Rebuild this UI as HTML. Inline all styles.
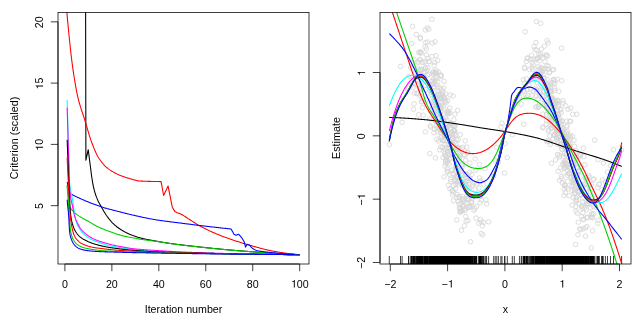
<!DOCTYPE html>
<html><head><meta charset="utf-8"><title>plot</title>
<style>
html,body{margin:0;padding:0;background:#fff;}
svg{display:block;will-change:transform;}
text{font-family:"Liberation Sans",sans-serif;font-size:10.67px;fill:#000;}
</style></head><body>
<svg width="644" height="322" viewBox="0 0 644 322">
<defs>
<clipPath id="clipL"><rect x="58" y="12.5" width="251" height="251.5"/></clipPath>
<clipPath id="clipR"><rect x="380" y="12.5" width="251" height="251.5"/></clipPath>
</defs>
<rect width="644" height="322" fill="#fff"/>
<g>
<g clip-path="url(#clipL)">
<path d="M85.6 5 L85.9 160.2 L88.25 149.7 L91.6 176 L92.3 180.51 L93 184.59 L93.7 187.99 L94.4 190.71 L95.1 193.1 L95.8 195.23 L96.5 197.15 L97.21 198.9 L97.91 200.52 L98.61 201.99 L99.31 203.34 L100.01 204.6 L100.71 205.82 L101.41 207.04 L102.11 208.28 L102.81 209.51 L103.51 210.72 L104.21 211.91 L104.91 213.07 L105.61 214.19 L106.31 215.25 L107.01 216.25 L107.72 217.19 L108.42 218.11 L109.12 219 L109.82 219.86 L110.52 220.7 L111.22 221.5 L111.92 222.28 L112.62 223.01 L113.32 223.72 L114.02 224.38 L114.72 225.01 L115.42 225.6 L116.12 226.18 L116.82 226.74 L117.52 227.28 L118.23 227.79 L118.93 228.3 L119.63 228.78 L120.33 229.25 L121.03 229.7 L121.73 230.14 L122.43 230.56 L123.13 230.97 L123.83 231.36 L124.53 231.75 L125.23 232.12 L125.93 232.48 L126.63 232.84 L127.33 233.18 L128.04 233.51 L128.74 233.84 L129.44 234.15 L130.14 234.45 L130.84 234.75 L131.54 235.03 L132.24 235.3 L132.94 235.57 L133.64 235.82 L134.34 236.07 L135.04 236.31 L135.74 236.55 L136.44 236.78 L137.14 237 L137.84 237.21 L138.55 237.42 L139.25 237.62 L139.95 237.82 L140.65 238.01 L141.35 238.19 L142.05 238.37 L142.75 238.54 L143.45 238.7 L144.15 238.86 L144.85 239.01 L145.55 239.16 L146.25 239.31 L146.95 239.45 L147.65 239.59 L148.35 239.72 L149.06 239.86 L149.76 239.99 L150.46 240.12 L151.16 240.24 L151.86 240.37 L152.56 240.49 L153.26 240.62 L153.96 240.74 L154.66 240.86 L155.36 240.99 L156.06 241.11 L156.76 241.24 L157.46 241.36 L158.16 241.48 L158.86 241.61 L159.57 241.73 L160.27 241.85 L160.97 241.97 L161.67 242.09 L162.37 242.21 L163.07 242.33 L163.77 242.44 L164.47 242.56 L165.17 242.67 L165.87 242.78 L166.57 242.89 L167.27 243 L167.97 243.1 L168.67 243.21 L169.37 243.31 L170.08 243.41 L170.78 243.51 L171.48 243.61 L172.18 243.7 L172.88 243.8 L173.58 243.89 L174.28 243.99 L174.98 244.08 L175.68 244.17 L176.38 244.26 L177.08 244.35 L177.78 244.44 L178.48 244.53 L179.18 244.62 L179.88 244.7 L180.59 244.79 L181.29 244.88 L181.99 244.96 L182.69 245.05 L183.39 245.13 L184.09 245.21 L184.79 245.3 L185.49 245.38 L186.19 245.46 L186.89 245.54 L187.59 245.62 L188.29 245.7 L188.99 245.78 L189.69 245.86 L190.39 245.94 L191.1 246.02 L191.8 246.1 L192.5 246.17 L193.2 246.25 L193.9 246.33 L194.6 246.41 L195.3 246.49 L196 246.56 L196.7 246.64 L197.4 246.72 L198.1 246.79 L198.8 246.87 L199.5 246.95 L200.2 247.02 L200.91 247.1 L201.61 247.17 L202.31 247.25 L203.01 247.33 L203.71 247.4 L204.41 247.48 L205.11 247.55 L205.81 247.62 L206.51 247.7 L207.21 247.77 L207.91 247.84 L208.61 247.92 L209.31 247.99 L210.01 248.06 L210.71 248.13 L211.42 248.2 L212.12 248.28 L212.82 248.35 L213.52 248.42 L214.22 248.49 L214.92 248.56 L215.62 248.63 L216.32 248.69 L217.02 248.76 L217.72 248.83 L218.42 248.9 L219.12 248.97 L219.82 249.03 L220.52 249.1 L221.22 249.17 L221.93 249.23 L222.63 249.3 L223.33 249.36 L224.03 249.43 L224.73 249.49 L225.43 249.56 L226.13 249.62 L226.83 249.69 L227.53 249.75 L228.23 249.81 L228.93 249.87 L229.63 249.94 L230.33 250 L231.03 250.06 L231.73 250.12 L232.44 250.18 L233.14 250.25 L233.84 250.31 L234.54 250.37 L235.24 250.43 L235.94 250.49 L236.64 250.55 L237.34 250.61 L238.04 250.66 L238.74 250.72 L239.44 250.78 L240.14 250.84 L240.84 250.9 L241.54 250.96 L242.24 251.01 L242.95 251.07 L243.65 251.13 L244.35 251.18 L245.05 251.24 L245.75 251.29 L246.45 251.35 L247.15 251.4 L247.85 251.46 L248.55 251.51 L249.25 251.57 L249.95 251.62 L250.65 251.67 L251.35 251.73 L252.05 251.78 L252.75 251.83 L253.46 251.89 L254.16 251.94 L254.86 251.99 L255.56 252.04 L256.26 252.1 L256.96 252.15 L257.66 252.2 L258.36 252.25 L259.06 252.3 L259.76 252.35 L260.46 252.41 L261.16 252.46 L261.86 252.51 L262.56 252.56 L263.26 252.61 L263.97 252.66 L264.67 252.71 L265.37 252.76 L266.07 252.8 L266.77 252.85 L267.47 252.9 L268.17 252.95 L268.87 253 L269.57 253.04 L270.27 253.09 L270.97 253.14 L271.67 253.18 L272.37 253.23 L273.07 253.28 L273.78 253.32 L274.48 253.36 L275.18 253.41 L275.88 253.45 L276.58 253.5 L277.28 253.54 L277.98 253.58 L278.68 253.62 L279.38 253.66 L280.08 253.7 L280.78 253.75 L281.48 253.79 L282.18 253.82 L282.88 253.86 L283.58 253.9 L284.29 253.94 L284.99 253.98 L285.69 254.02 L286.39 254.06 L287.09 254.09 L287.79 254.13 L288.49 254.17 L289.19 254.2 L289.89 254.24 L290.59 254.27 L291.29 254.31 L291.99 254.34 L292.69 254.38 L293.39 254.41 L294.09 254.44 L294.8 254.48 L295.5 254.51 L296.2 254.54 L296.9 254.58 L297.6 254.61 L298.3 254.64 L299 254.67 L299.7 254.7" fill="none" stroke="#000000" stroke-width="1.08" stroke-linejoin="round" stroke-linecap="butt"/>
<path d="M64.5 -20 L66.9 12.4 L67.6 20.35 L68.31 27.96 L69.01 35.19 L69.71 42.02 L70.41 48.63 L71.12 54.95 L71.82 60.85 L72.52 66.17 L73.23 71.08 L73.93 75.78 L74.63 80.25 L75.34 84.46 L76.04 88.39 L76.74 92.02 L77.44 95.32 L78.15 98.3 L78.85 101.06 L79.55 103.63 L80.26 106.05 L80.96 108.33 L81.66 110.53 L82.37 112.66 L83.07 114.76 L83.77 116.87 L84.47 119.01 L85.18 121.22 L85.88 123.53 L86.58 125.93 L87.29 128.36 L87.99 130.8 L88.69 133.21 L89.4 135.56 L90.1 137.79 L90.8 139.89 L91.5 141.82 L92.21 143.7 L92.91 145.55 L93.61 147.34 L94.32 149.08 L95.02 150.75 L95.72 152.34 L96.43 153.85 L97.13 155.25 L97.83 156.53 L98.53 157.7 L99.24 158.77 L99.94 159.79 L100.64 160.77 L101.35 161.7 L102.05 162.59 L102.75 163.44 L103.46 164.25 L104.16 165.02 L104.86 165.76 L105.56 166.45 L106.27 167.12 L106.97 167.74 L107.67 168.34 L108.38 168.9 L109.08 169.42 L109.78 169.91 L110.49 170.37 L111.19 170.8 L111.89 171.22 L112.59 171.62 L113.3 172.01 L114 172.4 L114.7 172.78 L115.41 173.15 L116.11 173.51 L116.81 173.87 L117.51 174.2 L118.22 174.53 L118.92 174.85 L119.62 175.15 L120.33 175.43 L121.03 175.71 L121.73 175.98 L122.44 176.25 L123.14 176.51 L123.84 176.76 L124.54 177.01 L125.25 177.25 L125.95 177.48 L126.65 177.71 L127.36 177.93 L128.06 178.14 L128.76 178.35 L129.47 178.55 L130.17 178.75 L130.87 178.94 L131.57 179.15 L132.28 179.35 L132.98 179.55 L133.68 179.75 L134.39 179.95 L135.09 180.13 L135.79 180.31 L136.5 180.47 L137.2 180.62 L137.9 180.74 L138.6 180.85 L139.31 180.94 L140.01 181 L140.71 181.05 L141.42 181.09 L142.12 181.13 L142.82 181.16 L143.53 181.19 L144.23 181.22 L144.93 181.25 L145.63 181.28 L146.34 181.3 L147.04 181.32 L147.74 181.34 L148.45 181.36 L149.15 181.38 L149.85 181.4 L150.56 181.41 L151.26 181.43 L151.96 181.45 L152.66 181.46 L153.37 181.48 L154.07 181.5 L154.77 181.51 L155.48 181.52 L156.18 181.54 L156.88 181.55 L157.59 181.56 L158.29 181.57 L158.99 181.58 L159.69 181.59 L160.4 181.59 L161.1 181.6 L163.6 195.5 L168.1 186.1 L172.3 207.2 L174.8 211.4 L177.3 212.7 L177.3 212.7 L178 212.95 L178.71 213.21 L179.41 213.49 L180.11 213.79 L180.82 214.11 L181.52 214.46 L182.22 214.83 L182.93 215.23 L183.63 215.65 L184.33 216.09 L185.04 216.54 L185.74 217 L186.44 217.47 L187.15 217.94 L187.85 218.41 L188.56 218.87 L189.26 219.32 L189.96 219.76 L190.67 220.21 L191.37 220.66 L192.07 221.12 L192.78 221.58 L193.48 222.04 L194.18 222.5 L194.89 222.95 L195.59 223.4 L196.29 223.85 L197 224.29 L197.7 224.71 L198.4 225.13 L199.11 225.53 L199.81 225.91 L200.51 226.29 L201.22 226.67 L201.92 227.04 L202.62 227.41 L203.33 227.77 L204.03 228.13 L204.73 228.49 L205.44 228.84 L206.14 229.19 L206.84 229.53 L207.55 229.87 L208.25 230.21 L208.96 230.54 L209.66 230.87 L210.36 231.19 L211.07 231.52 L211.77 231.84 L212.47 232.15 L213.18 232.46 L213.88 232.77 L214.58 233.07 L215.29 233.37 L215.99 233.67 L216.69 233.96 L217.4 234.25 L218.1 234.54 L218.8 234.83 L219.51 235.11 L220.21 235.38 L220.91 235.66 L221.62 235.93 L222.32 236.2 L223.02 236.47 L223.73 236.73 L224.43 236.99 L225.13 237.26 L225.84 237.51 L226.54 237.77 L227.24 238.03 L227.95 238.28 L228.65 238.53 L229.36 238.78 L230.06 239.02 L230.76 239.27 L231.47 239.51 L232.17 239.75 L232.87 239.99 L233.58 240.23 L234.28 240.46 L234.98 240.7 L235.69 240.93 L236.39 241.16 L237.09 241.38 L237.8 241.61 L238.5 241.83 L239.2 242.06 L239.91 242.28 L240.61 242.5 L241.31 242.72 L242.02 242.93 L242.72 243.15 L243.42 243.36 L244.13 243.57 L244.83 243.78 L245.53 243.99 L246.24 244.2 L246.94 244.41 L247.64 244.61 L248.35 244.81 L249.05 245.02 L249.76 245.22 L250.46 245.42 L251.16 245.62 L251.87 245.82 L252.57 246.02 L253.27 246.22 L253.98 246.42 L254.68 246.62 L255.38 246.82 L256.09 247.01 L256.79 247.21 L257.49 247.41 L258.2 247.6 L258.9 247.79 L259.6 247.98 L260.31 248.17 L261.01 248.36 L261.71 248.55 L262.42 248.73 L263.12 248.91 L263.82 249.09 L264.53 249.27 L265.23 249.44 L265.93 249.61 L266.64 249.78 L267.34 249.94 L268.04 250.1 L268.75 250.26 L269.45 250.42 L270.16 250.57 L270.86 250.71 L271.56 250.85 L272.27 250.99 L272.97 251.13 L273.67 251.25 L274.38 251.38 L275.08 251.5 L275.78 251.62 L276.49 251.74 L277.19 251.86 L277.89 251.97 L278.6 252.09 L279.3 252.2 L280 252.32 L280.71 252.43 L281.41 252.54 L282.11 252.65 L282.82 252.75 L283.52 252.86 L284.22 252.96 L284.93 253.06 L285.63 253.16 L286.33 253.26 L287.04 253.36 L287.74 253.45 L288.44 253.55 L289.15 253.64 L289.85 253.73 L290.56 253.81 L291.26 253.9 L291.96 253.98 L292.67 254.06 L293.37 254.13 L294.07 254.21 L294.78 254.28 L295.48 254.35 L296.18 254.41 L296.89 254.48 L297.59 254.54 L298.29 254.59 L299 254.65 L299.7 254.7" fill="none" stroke="#FF0000" stroke-width="1.08" stroke-linejoin="round" stroke-linecap="butt"/>
<path d="M67.15 185 L69.6 207 L69.6 207 L70.3 207.92 L71 208.8 L71.7 209.65 L72.41 210.45 L73.11 211.21 L73.81 211.91 L74.51 212.57 L75.21 213.19 L75.91 213.78 L76.62 214.34 L77.32 214.88 L78.02 215.39 L78.72 215.88 L79.42 216.35 L80.12 216.79 L80.82 217.22 L81.53 217.64 L82.23 218.04 L82.93 218.43 L83.63 218.81 L84.33 219.18 L85.03 219.55 L85.74 219.92 L86.44 220.3 L87.14 220.67 L87.84 221.06 L88.54 221.45 L89.24 221.86 L89.94 222.27 L90.65 222.7 L91.35 223.12 L92.05 223.55 L92.75 223.97 L93.45 224.39 L94.15 224.8 L94.85 225.19 L95.56 225.57 L96.26 225.93 L96.96 226.28 L97.66 226.61 L98.36 226.94 L99.06 227.27 L99.77 227.58 L100.47 227.89 L101.17 228.2 L101.87 228.5 L102.57 228.79 L103.27 229.08 L103.97 229.37 L104.68 229.65 L105.38 229.93 L106.08 230.21 L106.78 230.48 L107.48 230.76 L108.18 231.02 L108.89 231.29 L109.59 231.55 L110.29 231.8 L110.99 232.06 L111.69 232.31 L112.39 232.55 L113.09 232.79 L113.8 233.03 L114.5 233.27 L115.2 233.5 L115.9 233.73 L116.6 233.96 L117.3 234.19 L118.01 234.42 L118.71 234.64 L119.41 234.86 L120.11 235.07 L120.81 235.28 L121.51 235.48 L122.21 235.68 L122.92 235.86 L123.62 236.03 L124.32 236.2 L125.02 236.35 L125.72 236.5 L126.42 236.64 L127.12 236.78 L127.83 236.91 L128.53 237.04 L129.23 237.17 L129.93 237.29 L130.63 237.42 L131.33 237.54 L132.04 237.67 L132.74 237.8 L133.44 237.93 L134.14 238.06 L134.84 238.19 L135.54 238.33 L136.24 238.46 L136.95 238.6 L137.65 238.73 L138.35 238.87 L139.05 239 L139.75 239.13 L140.45 239.25 L141.16 239.37 L141.86 239.48 L142.56 239.59 L143.26 239.7 L143.96 239.8 L144.66 239.89 L145.36 239.99 L146.07 240.08 L146.77 240.17 L147.47 240.25 L148.17 240.34 L148.87 240.42 L149.57 240.5 L150.28 240.58 L150.98 240.67 L151.68 240.75 L152.38 240.83 L153.08 240.92 L153.78 241.01 L154.48 241.1 L155.19 241.19 L155.89 241.28 L156.59 241.38 L157.29 241.49 L157.99 241.59 L158.69 241.7 L159.4 241.81 L160.1 241.93 L160.8 242.04 L161.5 242.15 L162.2 242.27 L162.9 242.39 L163.6 242.5 L164.31 242.62 L165.01 242.74 L165.71 242.85 L166.41 242.96 L167.11 243.07 L167.81 243.18 L168.51 243.29 L169.22 243.39 L169.92 243.49 L170.62 243.59 L171.32 243.68 L172.02 243.78 L172.72 243.87 L173.43 243.96 L174.13 244.06 L174.83 244.15 L175.53 244.24 L176.23 244.33 L176.93 244.42 L177.63 244.51 L178.34 244.6 L179.04 244.69 L179.74 244.77 L180.44 244.86 L181.14 244.95 L181.84 245.03 L182.55 245.12 L183.25 245.2 L183.95 245.28 L184.65 245.37 L185.35 245.45 L186.05 245.53 L186.75 245.61 L187.46 245.7 L188.16 245.78 L188.86 245.86 L189.56 245.94 L190.26 246.02 L190.96 246.1 L191.67 246.18 L192.37 246.26 L193.07 246.33 L193.77 246.41 L194.47 246.49 L195.17 246.57 L195.87 246.65 L196.58 246.72 L197.28 246.8 L197.98 246.88 L198.68 246.96 L199.38 247.03 L200.08 247.11 L200.79 247.19 L201.49 247.26 L202.19 247.34 L202.89 247.41 L203.59 247.49 L204.29 247.56 L204.99 247.64 L205.7 247.71 L206.4 247.79 L207.1 247.86 L207.8 247.94 L208.5 248.01 L209.2 248.08 L209.9 248.16 L210.61 248.23 L211.31 248.3 L212.01 248.37 L212.71 248.44 L213.41 248.51 L214.11 248.58 L214.82 248.65 L215.52 248.72 L216.22 248.79 L216.92 248.86 L217.62 248.93 L218.32 249 L219.02 249.07 L219.73 249.13 L220.43 249.2 L221.13 249.26 L221.83 249.33 L222.53 249.39 L223.23 249.46 L223.94 249.52 L224.64 249.59 L225.34 249.65 L226.04 249.71 L226.74 249.77 L227.44 249.83 L228.14 249.89 L228.85 249.95 L229.55 250.01 L230.25 250.07 L230.95 250.13 L231.65 250.19 L232.35 250.25 L233.06 250.31 L233.76 250.36 L234.46 250.42 L235.16 250.48 L235.86 250.54 L236.56 250.59 L237.26 250.65 L237.97 250.7 L238.67 250.76 L239.37 250.81 L240.07 250.87 L240.77 250.92 L241.47 250.98 L242.18 251.03 L242.88 251.08 L243.58 251.14 L244.28 251.19 L244.98 251.25 L245.68 251.3 L246.38 251.35 L247.09 251.4 L247.79 251.46 L248.49 251.51 L249.19 251.56 L249.89 251.61 L250.59 251.67 L251.29 251.72 L252 251.77 L252.7 251.82 L253.4 251.88 L254.1 251.93 L254.8 251.98 L255.5 252.03 L256.21 252.08 L256.91 252.14 L257.61 252.19 L258.31 252.24 L259.01 252.29 L259.71 252.34 L260.41 252.39 L261.12 252.45 L261.82 252.5 L262.52 252.55 L263.22 252.6 L263.92 252.65 L264.62 252.7 L265.33 252.75 L266.03 252.8 L266.73 252.84 L267.43 252.89 L268.13 252.94 L268.83 252.99 L269.53 253.04 L270.24 253.09 L270.94 253.13 L271.64 253.18 L272.34 253.23 L273.04 253.27 L273.74 253.32 L274.45 253.36 L275.15 253.41 L275.85 253.45 L276.55 253.49 L277.25 253.54 L277.95 253.58 L278.65 253.62 L279.36 253.66 L280.06 253.7 L280.76 253.74 L281.46 253.78 L282.16 253.82 L282.86 253.86 L283.56 253.9 L284.27 253.94 L284.97 253.98 L285.67 254.02 L286.37 254.05 L287.07 254.09 L287.77 254.13 L288.48 254.17 L289.18 254.2 L289.88 254.24 L290.58 254.27 L291.28 254.31 L291.98 254.34 L292.68 254.38 L293.39 254.41 L294.09 254.44 L294.79 254.48 L295.49 254.51 L296.19 254.54 L296.89 254.58 L297.6 254.61 L298.3 254.64 L299 254.67 L299.7 254.7" fill="none" stroke="#00CD00" stroke-width="1.08" stroke-linejoin="round" stroke-linecap="butt"/>
<path d="M67.15 181.8 L69.6 193.4 L69.6 193.4 L70.3 193.76 L71 194.12 L71.71 194.48 L72.41 194.84 L73.11 195.19 L73.81 195.53 L74.52 195.87 L75.22 196.21 L75.92 196.54 L76.62 196.87 L77.32 197.2 L78.03 197.52 L78.73 197.85 L79.43 198.17 L80.13 198.49 L80.83 198.81 L81.54 199.12 L82.24 199.43 L82.94 199.74 L83.64 200.05 L84.35 200.35 L85.05 200.65 L85.75 200.95 L86.45 201.24 L87.15 201.53 L87.86 201.82 L88.56 202.1 L89.26 202.38 L89.96 202.66 L90.67 202.94 L91.37 203.22 L92.07 203.49 L92.77 203.76 L93.47 204.03 L94.18 204.3 L94.88 204.57 L95.58 204.83 L96.28 205.09 L96.98 205.35 L97.69 205.6 L98.39 205.85 L99.09 206.1 L99.79 206.34 L100.5 206.58 L101.2 206.81 L101.9 207.04 L102.6 207.27 L103.3 207.49 L104.01 207.7 L104.71 207.91 L105.41 208.11 L106.11 208.31 L106.82 208.51 L107.52 208.69 L108.22 208.88 L108.92 209.06 L109.62 209.24 L110.33 209.42 L111.03 209.6 L111.73 209.77 L112.43 209.95 L113.13 210.13 L113.84 210.3 L114.54 210.48 L115.24 210.67 L115.94 210.85 L116.65 211.03 L117.35 211.21 L118.05 211.4 L118.75 211.58 L119.45 211.76 L120.16 211.95 L120.86 212.13 L121.56 212.31 L122.26 212.49 L122.97 212.67 L123.67 212.85 L124.37 213.03 L125.07 213.21 L125.77 213.39 L126.48 213.57 L127.18 213.74 L127.88 213.92 L128.58 214.09 L129.28 214.26 L129.99 214.43 L130.69 214.6 L131.39 214.76 L132.09 214.92 L132.8 215.09 L133.5 215.24 L134.2 215.4 L134.9 215.56 L135.6 215.72 L136.31 215.87 L137.01 216.03 L137.71 216.19 L138.41 216.34 L139.12 216.5 L139.82 216.65 L140.52 216.8 L141.22 216.96 L141.92 217.11 L142.63 217.26 L143.33 217.41 L144.03 217.55 L144.73 217.7 L145.43 217.84 L146.14 217.99 L146.84 218.13 L147.54 218.27 L148.24 218.41 L148.95 218.54 L149.65 218.68 L150.35 218.81 L151.05 218.94 L151.75 219.07 L152.46 219.2 L153.16 219.32 L153.86 219.44 L154.56 219.56 L155.27 219.68 L155.97 219.79 L156.67 219.91 L157.37 220.02 L158.07 220.13 L158.78 220.23 L159.48 220.34 L160.18 220.44 L160.88 220.54 L161.58 220.64 L162.29 220.74 L162.99 220.84 L163.69 220.93 L164.39 221.03 L165.1 221.12 L165.8 221.21 L166.5 221.3 L167.2 221.39 L167.9 221.48 L168.61 221.57 L169.31 221.66 L170.01 221.75 L170.71 221.84 L171.42 221.93 L172.12 222.01 L172.82 222.1 L173.52 222.19 L174.22 222.27 L174.93 222.36 L175.63 222.45 L176.33 222.54 L177.03 222.62 L177.73 222.71 L178.44 222.8 L179.14 222.89 L179.84 222.98 L180.54 223.07 L181.25 223.16 L181.95 223.25 L182.65 223.34 L183.35 223.43 L184.05 223.52 L184.76 223.61 L185.46 223.7 L186.16 223.79 L186.86 223.88 L187.57 223.97 L188.27 224.05 L188.97 224.14 L189.67 224.23 L190.37 224.32 L191.08 224.41 L191.78 224.49 L192.48 224.58 L193.18 224.67 L193.88 224.76 L194.59 224.84 L195.29 224.93 L195.99 225.01 L196.69 225.1 L197.4 225.19 L198.1 225.27 L198.8 225.36 L199.5 225.44 L200.2 225.52 L200.91 225.61 L201.61 225.69 L202.31 225.78 L203.01 225.86 L203.72 225.94 L204.42 226.02 L205.12 226.11 L205.82 226.19 L206.52 226.27 L207.23 226.35 L207.93 226.43 L208.63 226.51 L209.33 226.59 L210.03 226.68 L210.74 226.76 L211.44 226.84 L212.14 226.92 L212.84 227 L213.55 227.08 L214.25 227.16 L214.95 227.23 L215.65 227.31 L216.35 227.39 L217.06 227.47 L217.76 227.55 L218.46 227.63 L219.16 227.71 L219.87 227.79 L220.57 227.86 L221.27 227.94 L221.97 228.02 L222.67 228.09 L223.38 228.17 L224.08 228.25 L224.78 228.32 L225.48 228.4 L226.18 228.48 L226.89 228.55 L227.59 228.63 L228.29 228.7 L228.99 228.78 L229.7 228.85 L230.4 228.93 L231.1 229 L234 234.2 L236 235.2 L238.5 234.2 L241.7 237.7 L244.2 241.7 L245.5 247.1 L247.2 244.2 L249.7 245.2 L249.7 245.2 L250.4 246.07 L251.11 246.88 L251.81 247.63 L252.52 248.27 L253.22 248.79 L253.93 249.2 L254.63 249.56 L255.33 249.89 L256.04 250.19 L256.74 250.44 L257.45 250.66 L258.15 250.84 L258.85 250.99 L259.56 251.13 L260.26 251.25 L260.97 251.36 L261.67 251.46 L262.38 251.56 L263.08 251.65 L263.78 251.73 L264.49 251.81 L265.19 251.89 L265.9 251.96 L266.6 252.04 L267.31 252.12 L268.01 252.21 L268.71 252.29 L269.42 252.37 L270.12 252.45 L270.83 252.52 L271.53 252.6 L272.24 252.67 L272.94 252.75 L273.64 252.82 L274.35 252.89 L275.05 252.96 L275.76 253.03 L276.46 253.09 L277.16 253.16 L277.87 253.22 L278.57 253.28 L279.28 253.34 L279.98 253.4 L280.69 253.46 L281.39 253.51 L282.09 253.57 L282.8 253.62 L283.5 253.68 L284.21 253.73 L284.91 253.78 L285.62 253.84 L286.32 253.89 L287.02 253.94 L287.73 253.99 L288.43 254.04 L289.14 254.09 L289.84 254.14 L290.55 254.19 L291.25 254.23 L291.95 254.28 L292.66 254.32 L293.36 254.36 L294.07 254.41 L294.77 254.45 L295.47 254.49 L296.18 254.53 L296.88 254.56 L297.59 254.6 L298.29 254.63 L299 254.67 L299.7 254.7" fill="none" stroke="#0000FF" stroke-width="1.08" stroke-linejoin="round" stroke-linecap="butt"/>
<path d="M67.15 100 L69.5 182 L69.5 182 L70 186.34 L70.5 189.68 L71 192.38 L71.5 194.77 L72 197.11 L72.5 199.67 L73 202.74 L73.5 206.38 L74 210.17 L74.5 213.69 L75 216.53 L75.51 218.89 L76.01 220.92 L76.51 222.5 L77.01 223.83 L77.51 225.03 L78.01 226.11 L78.51 227.09 L79.01 227.98 L79.51 228.8 L80.01 229.57 L80.51 230.29 L81.01 230.97 L81.51 231.62 L82.01 232.23 L82.51 232.8 L83.01 233.35 L83.51 233.86 L84.01 234.35 L84.51 234.8 L85.01 235.23 L85.51 235.63 L86.01 236.02 L86.51 236.4 L87.02 236.76 L87.52 237.11 L88.02 237.44 L88.52 237.77 L89.02 238.08 L89.52 238.38 L90.02 238.66 L90.52 238.94 L91.02 239.21 L91.52 239.47 L92.02 239.72 L92.52 239.96 L93.02 240.19 L93.52 240.42 L94.02 240.62 L94.52 240.83 L95.02 241.02 L95.52 241.21 L96.02 241.39 L96.52 241.57 L97.02 241.75 L97.52 241.93 L98.02 242.11 L98.53 242.29 L99.03 242.48 L99.53 242.66 L100.03 242.85 L100.53 243.03 L101.03 243.21 L101.53 243.39 L102.03 243.57 L102.53 243.74 L103.03 243.91 L103.53 244.07 L104.03 244.23 L104.53 244.38 L105.03 244.53 L105.53 244.66 L106.03 244.8 L106.53 244.93 L107.03 245.06 L107.53 245.18 L108.03 245.31 L108.53 245.43 L109.03 245.54 L109.53 245.66 L110.04 245.77 L110.54 245.88 L111.04 245.99 L111.54 246.1 L112.04 246.2 L112.54 246.3 L113.04 246.4 L113.54 246.5 L114.04 246.59 L114.54 246.69 L115.04 246.78 L115.54 246.87 L116.04 246.96 L116.54 247.05 L117.04 247.14 L117.54 247.23 L118.04 247.32 L118.54 247.41 L119.04 247.49 L119.54 247.58 L120.04 247.66 L120.54 247.75 L121.04 247.83 L121.55 247.91 L122.05 247.99 L122.55 248.07 L123.05 248.15 L123.55 248.23 L124.05 248.31 L124.55 248.38 L125.05 248.46 L125.55 248.53 L126.05 248.61 L126.55 248.68 L127.05 248.75 L127.55 248.82 L128.05 248.89 L128.55 248.95 L129.05 249.02 L129.55 249.08 L130.05 249.15 L130.55 249.21 L131.05 249.27 L131.55 249.33 L132.05 249.39 L132.55 249.45 L133.06 249.51 L133.56 249.56 L134.06 249.62 L134.56 249.67 L135.06 249.73 L135.56 249.78 L136.06 249.84 L136.56 249.89 L137.06 249.94 L137.56 250 L138.06 250.05 L138.56 250.1 L139.06 250.15 L139.56 250.2 L140.06 250.25 L140.56 250.3 L141.06 250.35 L141.56 250.4 L142.06 250.45 L142.56 250.5 L143.06 250.54 L143.56 250.59 L144.06 250.63 L144.57 250.68 L145.07 250.72 L145.57 250.77 L146.07 250.81 L146.57 250.85 L147.07 250.9 L147.57 250.94 L148.07 250.98 L148.57 251.02 L149.07 251.05 L149.57 251.09 L150.07 251.13 L150.57 251.17 L151.07 251.2 L151.57 251.23 L152.07 251.27 L152.57 251.3 L153.07 251.33 L153.57 251.36 L154.07 251.39 L154.57 251.42 L155.07 251.45 L155.57 251.48 L156.08 251.5 L156.58 251.53 L157.08 251.55 L157.58 251.58 L158.08 251.6 L158.58 251.63 L159.08 251.65 L159.58 251.68 L160.08 251.7 L160.58 251.72 L161.08 251.75 L161.58 251.77 L162.08 251.79 L162.58 251.81 L163.08 251.83 L163.58 251.86 L164.08 251.88 L164.58 251.9 L165.08 251.92 L165.58 251.94 L166.08 251.96 L166.58 251.98 L167.08 252 L167.59 252.02 L168.09 252.04 L168.59 252.06 L169.09 252.08 L169.59 252.1 L170.09 252.11 L170.59 252.13 L171.09 252.15 L171.59 252.17 L172.09 252.19 L172.59 252.2 L173.09 252.22 L173.59 252.24 L174.09 252.26 L174.59 252.27 L175.09 252.29 L175.59 252.31 L176.09 252.32 L176.59 252.34 L177.09 252.36 L177.59 252.37 L178.09 252.39 L178.59 252.4 L179.1 252.42 L179.6 252.43 L180.1 252.45 L180.6 252.46 L181.1 252.48 L181.6 252.49 L182.1 252.51 L182.6 252.52 L183.1 252.54 L183.6 252.55 L184.1 252.57 L184.6 252.58 L185.1 252.6 L185.6 252.61 L186.1 252.62 L186.6 252.64 L187.1 252.65 L187.6 252.67 L188.1 252.68 L188.6 252.69 L189.1 252.71 L189.6 252.72 L190.1 252.74 L190.61 252.75 L191.11 252.76 L191.61 252.78 L192.11 252.79 L192.61 252.8 L193.11 252.82 L193.61 252.83 L194.11 252.84 L194.61 252.86 L195.11 252.87 L195.61 252.88 L196.11 252.9 L196.61 252.91 L197.11 252.92 L197.61 252.94 L198.11 252.95 L198.61 252.96 L199.11 252.98 L199.61 252.99 L200.11 253 L200.61 253.02 L201.11 253.03 L201.61 253.04 L202.12 253.06 L202.62 253.07 L203.12 253.08 L203.62 253.1 L204.12 253.11 L204.62 253.12 L205.12 253.14 L205.62 253.15 L206.12 253.16 L206.62 253.17 L207.12 253.19 L207.62 253.2 L208.12 253.21 L208.62 253.23 L209.12 253.24 L209.62 253.25 L210.12 253.26 L210.62 253.28 L211.12 253.29 L211.62 253.3 L212.12 253.31 L212.62 253.33 L213.12 253.34 L213.63 253.35 L214.13 253.36 L214.63 253.38 L215.13 253.39 L215.63 253.4 L216.13 253.41 L216.63 253.43 L217.13 253.44 L217.63 253.45 L218.13 253.46 L218.63 253.47 L219.13 253.49 L219.63 253.5 L220.13 253.51 L220.63 253.52 L221.13 253.53 L221.63 253.54 L222.13 253.56 L222.63 253.57 L223.13 253.58 L223.63 253.59 L224.13 253.6 L224.63 253.61 L225.14 253.62 L225.64 253.63 L226.14 253.65 L226.64 253.66 L227.14 253.67 L227.64 253.68 L228.14 253.69 L228.64 253.7 L229.14 253.71 L229.64 253.72 L230.14 253.73 L230.64 253.74 L231.14 253.75 L231.64 253.76 L232.14 253.77 L232.64 253.78 L233.14 253.79 L233.64 253.81 L234.14 253.82 L234.64 253.83 L235.14 253.84 L235.64 253.85 L236.14 253.86 L236.65 253.86 L237.15 253.87 L237.65 253.88 L238.15 253.89 L238.65 253.9 L239.15 253.91 L239.65 253.92 L240.15 253.93 L240.65 253.94 L241.15 253.95 L241.65 253.96 L242.15 253.97 L242.65 253.98 L243.15 253.99 L243.65 253.99 L244.15 254 L244.65 254.01 L245.15 254.02 L245.65 254.03 L246.15 254.04 L246.65 254.05 L247.15 254.05 L247.65 254.06 L248.16 254.07 L248.66 254.08 L249.16 254.09 L249.66 254.09 L250.16 254.1 L250.66 254.11 L251.16 254.12 L251.66 254.13 L252.16 254.13 L252.66 254.14 L253.16 254.15 L253.66 254.16 L254.16 254.16 L254.66 254.17 L255.16 254.18 L255.66 254.19 L256.16 254.19 L256.66 254.2 L257.16 254.21 L257.66 254.22 L258.16 254.22 L258.66 254.23 L259.16 254.24 L259.67 254.25 L260.17 254.25 L260.67 254.26 L261.17 254.27 L261.67 254.28 L262.17 254.28 L262.67 254.29 L263.17 254.3 L263.67 254.3 L264.17 254.31 L264.67 254.32 L265.17 254.32 L265.67 254.33 L266.17 254.34 L266.67 254.35 L267.17 254.35 L267.67 254.36 L268.17 254.37 L268.67 254.37 L269.17 254.38 L269.67 254.39 L270.17 254.39 L270.67 254.4 L271.18 254.41 L271.68 254.41 L272.18 254.42 L272.68 254.43 L273.18 254.43 L273.68 254.44 L274.18 254.44 L274.68 254.45 L275.18 254.46 L275.68 254.46 L276.18 254.47 L276.68 254.48 L277.18 254.48 L277.68 254.49 L278.18 254.49 L278.68 254.5 L279.18 254.5 L279.68 254.51 L280.18 254.52 L280.68 254.52 L281.18 254.53 L281.68 254.53 L282.18 254.54 L282.69 254.54 L283.19 254.55 L283.69 254.56 L284.19 254.56 L284.69 254.57 L285.19 254.57 L285.69 254.58 L286.19 254.58 L286.69 254.59 L287.19 254.59 L287.69 254.6 L288.19 254.6 L288.69 254.61 L289.19 254.61 L289.69 254.62 L290.19 254.62 L290.69 254.63 L291.19 254.63 L291.69 254.64 L292.19 254.64 L292.69 254.64 L293.19 254.65 L293.69 254.65 L294.2 254.66 L294.7 254.66 L295.2 254.67 L295.7 254.67 L296.2 254.67 L296.7 254.68 L297.2 254.68 L297.7 254.69 L298.2 254.69 L298.7 254.69 L299.2 254.7 L299.7 254.7" fill="none" stroke="#00FFFF" stroke-width="1.08" stroke-linejoin="round" stroke-linecap="butt"/>
<path d="M67.15 107.8 L69.5 186 L69.5 186 L70 192.68 L70.5 196.73 L71 199.6 L71.5 201.91 L72 203.96 L72.5 206.08 L73 208.52 L73.5 211.12 L74 213.6 L74.5 215.67 L75 217.26 L75.51 218.66 L76.01 219.91 L76.51 221.05 L77.01 222.11 L77.51 223.12 L78.01 224.11 L78.51 225.07 L79.01 226.01 L79.51 226.89 L80.01 227.73 L80.51 228.5 L81.01 229.21 L81.51 229.83 L82.01 230.41 L82.51 230.96 L83.01 231.48 L83.51 231.98 L84.01 232.45 L84.51 232.9 L85.01 233.33 L85.51 233.74 L86.01 234.13 L86.51 234.51 L87.02 234.88 L87.52 235.24 L88.02 235.59 L88.52 235.93 L89.02 236.27 L89.52 236.59 L90.02 236.91 L90.52 237.22 L91.02 237.52 L91.52 237.81 L92.02 238.09 L92.52 238.36 L93.02 238.62 L93.52 238.87 L94.02 239.11 L94.52 239.35 L95.02 239.57 L95.52 239.78 L96.02 239.98 L96.52 240.18 L97.02 240.37 L97.52 240.56 L98.02 240.74 L98.53 240.92 L99.03 241.09 L99.53 241.26 L100.03 241.42 L100.53 241.58 L101.03 241.74 L101.53 241.89 L102.03 242.04 L102.53 242.19 L103.03 242.34 L103.53 242.49 L104.03 242.63 L104.53 242.78 L105.03 242.92 L105.53 243.07 L106.03 243.21 L106.53 243.35 L107.03 243.49 L107.53 243.63 L108.03 243.77 L108.53 243.91 L109.03 244.04 L109.53 244.17 L110.04 244.3 L110.54 244.43 L111.04 244.56 L111.54 244.68 L112.04 244.8 L112.54 244.93 L113.04 245.04 L113.54 245.16 L114.04 245.27 L114.54 245.39 L115.04 245.5 L115.54 245.6 L116.04 245.71 L116.54 245.82 L117.04 245.92 L117.54 246.02 L118.04 246.12 L118.54 246.22 L119.04 246.31 L119.54 246.41 L120.04 246.5 L120.54 246.6 L121.04 246.69 L121.55 246.78 L122.05 246.87 L122.55 246.96 L123.05 247.05 L123.55 247.14 L124.05 247.23 L124.55 247.31 L125.05 247.4 L125.55 247.49 L126.05 247.58 L126.55 247.67 L127.05 247.76 L127.55 247.85 L128.05 247.93 L128.55 248.02 L129.05 248.1 L129.55 248.18 L130.05 248.26 L130.55 248.34 L131.05 248.41 L131.55 248.48 L132.05 248.55 L132.55 248.61 L133.06 248.67 L133.56 248.73 L134.06 248.78 L134.56 248.84 L135.06 248.89 L135.56 248.94 L136.06 248.99 L136.56 249.04 L137.06 249.09 L137.56 249.14 L138.06 249.18 L138.56 249.23 L139.06 249.28 L139.56 249.32 L140.06 249.37 L140.56 249.41 L141.06 249.45 L141.56 249.49 L142.06 249.53 L142.56 249.57 L143.06 249.61 L143.56 249.65 L144.06 249.69 L144.57 249.73 L145.07 249.77 L145.57 249.81 L146.07 249.84 L146.57 249.88 L147.07 249.91 L147.57 249.95 L148.07 249.98 L148.57 250.02 L149.07 250.05 L149.57 250.09 L150.07 250.12 L150.57 250.15 L151.07 250.19 L151.57 250.22 L152.07 250.25 L152.57 250.28 L153.07 250.31 L153.57 250.35 L154.07 250.38 L154.57 250.41 L155.07 250.44 L155.57 250.47 L156.08 250.5 L156.58 250.54 L157.08 250.57 L157.58 250.6 L158.08 250.63 L158.58 250.66 L159.08 250.69 L159.58 250.72 L160.08 250.75 L160.58 250.78 L161.08 250.81 L161.58 250.84 L162.08 250.87 L162.58 250.9 L163.08 250.93 L163.58 250.96 L164.08 250.99 L164.58 251.02 L165.08 251.05 L165.58 251.08 L166.08 251.11 L166.58 251.14 L167.08 251.17 L167.59 251.19 L168.09 251.22 L168.59 251.25 L169.09 251.28 L169.59 251.31 L170.09 251.34 L170.59 251.36 L171.09 251.39 L171.59 251.42 L172.09 251.45 L172.59 251.47 L173.09 251.5 L173.59 251.53 L174.09 251.55 L174.59 251.58 L175.09 251.61 L175.59 251.63 L176.09 251.66 L176.59 251.68 L177.09 251.71 L177.59 251.74 L178.09 251.76 L178.59 251.79 L179.1 251.81 L179.6 251.84 L180.1 251.86 L180.6 251.89 L181.1 251.91 L181.6 251.93 L182.1 251.96 L182.6 251.98 L183.1 252.01 L183.6 252.03 L184.1 252.05 L184.6 252.08 L185.1 252.1 L185.6 252.12 L186.1 252.14 L186.6 252.17 L187.1 252.19 L187.6 252.21 L188.1 252.23 L188.6 252.26 L189.1 252.28 L189.6 252.3 L190.1 252.32 L190.61 252.34 L191.11 252.36 L191.61 252.38 L192.11 252.4 L192.61 252.42 L193.11 252.44 L193.61 252.46 L194.11 252.48 L194.61 252.5 L195.11 252.52 L195.61 252.54 L196.11 252.56 L196.61 252.58 L197.11 252.6 L197.61 252.62 L198.11 252.63 L198.61 252.65 L199.11 252.67 L199.61 252.69 L200.11 252.7 L200.61 252.72 L201.11 252.74 L201.61 252.76 L202.12 252.77 L202.62 252.79 L203.12 252.81 L203.62 252.82 L204.12 252.84 L204.62 252.86 L205.12 252.87 L205.62 252.89 L206.12 252.9 L206.62 252.92 L207.12 252.94 L207.62 252.95 L208.12 252.97 L208.62 252.98 L209.12 253 L209.62 253.01 L210.12 253.03 L210.62 253.05 L211.12 253.06 L211.62 253.08 L212.12 253.09 L212.62 253.11 L213.12 253.12 L213.63 253.14 L214.13 253.15 L214.63 253.17 L215.13 253.18 L215.63 253.19 L216.13 253.21 L216.63 253.22 L217.13 253.24 L217.63 253.25 L218.13 253.27 L218.63 253.28 L219.13 253.29 L219.63 253.31 L220.13 253.32 L220.63 253.34 L221.13 253.35 L221.63 253.36 L222.13 253.38 L222.63 253.39 L223.13 253.4 L223.63 253.42 L224.13 253.43 L224.63 253.44 L225.14 253.45 L225.64 253.47 L226.14 253.48 L226.64 253.49 L227.14 253.51 L227.64 253.52 L228.14 253.53 L228.64 253.54 L229.14 253.56 L229.64 253.57 L230.14 253.58 L230.64 253.59 L231.14 253.6 L231.64 253.62 L232.14 253.63 L232.64 253.64 L233.14 253.65 L233.64 253.66 L234.14 253.67 L234.64 253.69 L235.14 253.7 L235.64 253.71 L236.14 253.72 L236.65 253.73 L237.15 253.74 L237.65 253.75 L238.15 253.76 L238.65 253.77 L239.15 253.78 L239.65 253.8 L240.15 253.81 L240.65 253.82 L241.15 253.83 L241.65 253.84 L242.15 253.85 L242.65 253.86 L243.15 253.87 L243.65 253.88 L244.15 253.89 L244.65 253.9 L245.15 253.91 L245.65 253.92 L246.15 253.93 L246.65 253.94 L247.15 253.95 L247.65 253.96 L248.16 253.97 L248.66 253.98 L249.16 253.98 L249.66 253.99 L250.16 254 L250.66 254.01 L251.16 254.02 L251.66 254.03 L252.16 254.04 L252.66 254.05 L253.16 254.06 L253.66 254.07 L254.16 254.08 L254.66 254.08 L255.16 254.09 L255.66 254.1 L256.16 254.11 L256.66 254.12 L257.16 254.13 L257.66 254.14 L258.16 254.15 L258.66 254.15 L259.16 254.16 L259.67 254.17 L260.17 254.18 L260.67 254.19 L261.17 254.2 L261.67 254.21 L262.17 254.21 L262.67 254.22 L263.17 254.23 L263.67 254.24 L264.17 254.25 L264.67 254.26 L265.17 254.26 L265.67 254.27 L266.17 254.28 L266.67 254.29 L267.17 254.3 L267.67 254.3 L268.17 254.31 L268.67 254.32 L269.17 254.33 L269.67 254.34 L270.17 254.34 L270.67 254.35 L271.18 254.36 L271.68 254.37 L272.18 254.37 L272.68 254.38 L273.18 254.39 L273.68 254.4 L274.18 254.4 L274.68 254.41 L275.18 254.42 L275.68 254.42 L276.18 254.43 L276.68 254.44 L277.18 254.45 L277.68 254.45 L278.18 254.46 L278.68 254.47 L279.18 254.47 L279.68 254.48 L280.18 254.49 L280.68 254.49 L281.18 254.5 L281.68 254.51 L282.18 254.51 L282.69 254.52 L283.19 254.53 L283.69 254.53 L284.19 254.54 L284.69 254.55 L285.19 254.55 L285.69 254.56 L286.19 254.56 L286.69 254.57 L287.19 254.58 L287.69 254.58 L288.19 254.59 L288.69 254.59 L289.19 254.6 L289.69 254.6 L290.19 254.61 L290.69 254.61 L291.19 254.62 L291.69 254.63 L292.19 254.63 L292.69 254.64 L293.19 254.64 L293.69 254.65 L294.2 254.65 L294.7 254.66 L295.2 254.66 L295.7 254.66 L296.2 254.67 L296.7 254.67 L297.2 254.68 L297.7 254.68 L298.2 254.69 L298.7 254.69 L299.2 254.7 L299.7 254.7" fill="none" stroke="#FF00FF" stroke-width="1.08" stroke-linejoin="round" stroke-linecap="butt"/>
<path d="M67.15 139.7 L68.9 185 L68.9 185 L69.4 195.65 L69.9 204.94 L70.4 212.17 L70.9 216.71 L71.4 219.66 L71.9 221.91 L72.4 223.72 L72.91 225.36 L73.41 226.85 L73.91 228.18 L74.41 229.36 L74.91 230.38 L75.41 231.25 L75.91 232.05 L76.41 232.8 L76.91 233.49 L77.41 234.14 L77.91 234.74 L78.41 235.3 L78.91 235.82 L79.41 236.3 L79.91 236.74 L80.41 237.16 L80.92 237.55 L81.42 237.92 L81.92 238.27 L82.42 238.61 L82.92 238.92 L83.42 239.23 L83.92 239.51 L84.42 239.79 L84.92 240.06 L85.42 240.32 L85.92 240.57 L86.42 240.81 L86.92 241.05 L87.42 241.28 L87.92 241.51 L88.43 241.74 L88.93 241.95 L89.43 242.16 L89.93 242.37 L90.43 242.57 L90.93 242.77 L91.43 242.96 L91.93 243.14 L92.43 243.32 L92.93 243.5 L93.43 243.67 L93.93 243.83 L94.43 243.99 L94.93 244.15 L95.43 244.3 L95.94 244.45 L96.44 244.59 L96.94 244.74 L97.44 244.87 L97.94 245.01 L98.44 245.14 L98.94 245.27 L99.44 245.4 L99.94 245.53 L100.44 245.65 L100.94 245.77 L101.44 245.88 L101.94 246 L102.44 246.11 L102.94 246.22 L103.44 246.32 L103.95 246.43 L104.45 246.53 L104.95 246.63 L105.45 246.73 L105.95 246.82 L106.45 246.92 L106.95 247.01 L107.45 247.1 L107.95 247.19 L108.45 247.27 L108.95 247.35 L109.45 247.44 L109.95 247.52 L110.45 247.6 L110.95 247.67 L111.46 247.75 L111.96 247.83 L112.46 247.9 L112.96 247.97 L113.46 248.04 L113.96 248.11 L114.46 248.18 L114.96 248.25 L115.46 248.32 L115.96 248.38 L116.46 248.45 L116.96 248.52 L117.46 248.58 L117.96 248.65 L118.46 248.71 L118.97 248.78 L119.47 248.84 L119.97 248.91 L120.47 248.97 L120.97 249.03 L121.47 249.09 L121.97 249.15 L122.47 249.21 L122.97 249.27 L123.47 249.33 L123.97 249.39 L124.47 249.45 L124.97 249.5 L125.47 249.56 L125.97 249.62 L126.47 249.67 L126.98 249.72 L127.48 249.78 L127.98 249.83 L128.48 249.88 L128.98 249.93 L129.48 249.98 L129.98 250.03 L130.48 250.08 L130.98 250.12 L131.48 250.17 L131.98 250.21 L132.48 250.26 L132.98 250.3 L133.48 250.34 L133.98 250.38 L134.49 250.42 L134.99 250.46 L135.49 250.5 L135.99 250.54 L136.49 250.58 L136.99 250.62 L137.49 250.66 L137.99 250.7 L138.49 250.74 L138.99 250.78 L139.49 250.82 L139.99 250.85 L140.49 250.89 L140.99 250.93 L141.49 250.96 L142 251 L142.5 251.03 L143 251.07 L143.5 251.1 L144 251.14 L144.5 251.17 L145 251.2 L145.5 251.23 L146 251.27 L146.5 251.3 L147 251.33 L147.5 251.36 L148 251.39 L148.5 251.42 L149 251.45 L149.5 251.48 L150.01 251.51 L150.51 251.53 L151.01 251.56 L151.51 251.59 L152.01 251.61 L152.51 251.64 L153.01 251.66 L153.51 251.69 L154.01 251.71 L154.51 251.73 L155.01 251.76 L155.51 251.78 L156.01 251.8 L156.51 251.82 L157.01 251.84 L157.52 251.86 L158.02 251.88 L158.52 251.9 L159.02 251.92 L159.52 251.94 L160.02 251.96 L160.52 251.98 L161.02 252 L161.52 252.02 L162.02 252.04 L162.52 252.06 L163.02 252.08 L163.52 252.09 L164.02 252.11 L164.52 252.13 L165.02 252.15 L165.53 252.17 L166.03 252.18 L166.53 252.2 L167.03 252.22 L167.53 252.23 L168.03 252.25 L168.53 252.27 L169.03 252.28 L169.53 252.3 L170.03 252.31 L170.53 252.33 L171.03 252.35 L171.53 252.36 L172.03 252.38 L172.53 252.39 L173.04 252.41 L173.54 252.42 L174.04 252.44 L174.54 252.45 L175.04 252.47 L175.54 252.48 L176.04 252.5 L176.54 252.51 L177.04 252.52 L177.54 252.54 L178.04 252.55 L178.54 252.57 L179.04 252.58 L179.54 252.59 L180.04 252.61 L180.55 252.62 L181.05 252.63 L181.55 252.65 L182.05 252.66 L182.55 252.67 L183.05 252.69 L183.55 252.7 L184.05 252.71 L184.55 252.72 L185.05 252.74 L185.55 252.75 L186.05 252.76 L186.55 252.78 L187.05 252.79 L187.55 252.8 L188.05 252.81 L188.56 252.83 L189.06 252.84 L189.56 252.85 L190.06 252.86 L190.56 252.87 L191.06 252.89 L191.56 252.9 L192.06 252.91 L192.56 252.92 L193.06 252.93 L193.56 252.95 L194.06 252.96 L194.56 252.97 L195.06 252.98 L195.56 252.99 L196.07 253.01 L196.57 253.02 L197.07 253.03 L197.57 253.04 L198.07 253.05 L198.57 253.07 L199.07 253.08 L199.57 253.09 L200.07 253.1 L200.57 253.11 L201.07 253.13 L201.57 253.14 L202.07 253.15 L202.57 253.16 L203.07 253.17 L203.58 253.18 L204.08 253.2 L204.58 253.21 L205.08 253.22 L205.58 253.23 L206.08 253.24 L206.58 253.25 L207.08 253.27 L207.58 253.28 L208.08 253.29 L208.58 253.3 L209.08 253.31 L209.58 253.32 L210.08 253.34 L210.58 253.35 L211.08 253.36 L211.59 253.37 L212.09 253.38 L212.59 253.39 L213.09 253.4 L213.59 253.41 L214.09 253.42 L214.59 253.44 L215.09 253.45 L215.59 253.46 L216.09 253.47 L216.59 253.48 L217.09 253.49 L217.59 253.5 L218.09 253.51 L218.59 253.52 L219.1 253.53 L219.6 253.54 L220.1 253.55 L220.6 253.56 L221.1 253.58 L221.6 253.59 L222.1 253.6 L222.6 253.61 L223.1 253.62 L223.6 253.63 L224.1 253.64 L224.6 253.65 L225.1 253.66 L225.6 253.67 L226.1 253.68 L226.6 253.69 L227.11 253.7 L227.61 253.71 L228.11 253.72 L228.61 253.73 L229.11 253.74 L229.61 253.75 L230.11 253.76 L230.61 253.77 L231.11 253.78 L231.61 253.79 L232.11 253.79 L232.61 253.8 L233.11 253.81 L233.61 253.82 L234.11 253.83 L234.62 253.84 L235.12 253.85 L235.62 253.86 L236.12 253.87 L236.62 253.88 L237.12 253.89 L237.62 253.9 L238.12 253.91 L238.62 253.91 L239.12 253.92 L239.62 253.93 L240.12 253.94 L240.62 253.95 L241.12 253.96 L241.62 253.97 L242.13 253.97 L242.63 253.98 L243.13 253.99 L243.63 254 L244.13 254.01 L244.63 254.02 L245.13 254.02 L245.63 254.03 L246.13 254.04 L246.63 254.05 L247.13 254.06 L247.63 254.06 L248.13 254.07 L248.63 254.08 L249.13 254.09 L249.63 254.09 L250.14 254.1 L250.64 254.11 L251.14 254.12 L251.64 254.12 L252.14 254.13 L252.64 254.14 L253.14 254.15 L253.64 254.15 L254.14 254.16 L254.64 254.17 L255.14 254.18 L255.64 254.18 L256.14 254.19 L256.64 254.2 L257.14 254.21 L257.65 254.21 L258.15 254.22 L258.65 254.23 L259.15 254.23 L259.65 254.24 L260.15 254.25 L260.65 254.26 L261.15 254.26 L261.65 254.27 L262.15 254.28 L262.65 254.28 L263.15 254.29 L263.65 254.3 L264.15 254.3 L264.65 254.31 L265.16 254.32 L265.66 254.32 L266.16 254.33 L266.66 254.34 L267.16 254.34 L267.66 254.35 L268.16 254.36 L268.66 254.36 L269.16 254.37 L269.66 254.38 L270.16 254.38 L270.66 254.39 L271.16 254.4 L271.66 254.4 L272.16 254.41 L272.66 254.42 L273.17 254.42 L273.67 254.43 L274.17 254.43 L274.67 254.44 L275.17 254.45 L275.67 254.45 L276.17 254.46 L276.67 254.47 L277.17 254.47 L277.67 254.48 L278.17 254.48 L278.67 254.49 L279.17 254.49 L279.67 254.5 L280.17 254.51 L280.68 254.51 L281.18 254.52 L281.68 254.52 L282.18 254.53 L282.68 254.54 L283.18 254.54 L283.68 254.55 L284.18 254.55 L284.68 254.56 L285.18 254.56 L285.68 254.57 L286.18 254.57 L286.68 254.58 L287.18 254.58 L287.68 254.59 L288.19 254.59 L288.69 254.6 L289.19 254.6 L289.69 254.61 L290.19 254.61 L290.69 254.62 L291.19 254.62 L291.69 254.63 L292.19 254.63 L292.69 254.64 L293.19 254.64 L293.69 254.65 L294.19 254.65 L294.69 254.66 L295.19 254.66 L295.69 254.67 L296.2 254.67 L296.7 254.67 L297.2 254.68 L297.7 254.68 L298.2 254.69 L298.7 254.69 L299.2 254.7 L299.7 254.7" fill="none" stroke="#000000" stroke-width="1.08" stroke-linejoin="round" stroke-linecap="butt"/>
<path d="M67.15 157.7 L68.7 190 L68.7 190 L69.2 200.72 L69.7 209.66 L70.2 216 L70.7 220.13 L71.2 223.28 L71.7 225.9 L72.2 228.34 L72.7 230.58 L73.2 232.53 L73.7 234.1 L74.2 235.27 L74.7 236.3 L75.2 237.21 L75.7 238.03 L76.2 238.75 L76.7 239.4 L77.2 239.98 L77.7 240.5 L78.2 240.98 L78.7 241.43 L79.2 241.85 L79.7 242.24 L80.2 242.6 L80.7 242.94 L81.2 243.25 L81.7 243.53 L82.2 243.8 L82.7 244.05 L83.2 244.28 L83.7 244.51 L84.2 244.73 L84.7 244.94 L85.2 245.14 L85.7 245.34 L86.2 245.53 L86.7 245.71 L87.2 245.88 L87.7 246.05 L88.2 246.2 L88.7 246.35 L89.2 246.49 L89.7 246.63 L90.2 246.75 L90.7 246.87 L91.2 246.98 L91.7 247.08 L92.2 247.18 L92.7 247.28 L93.2 247.37 L93.7 247.46 L94.2 247.54 L94.7 247.63 L95.2 247.71 L95.7 247.79 L96.2 247.86 L96.7 247.93 L97.2 248 L97.7 248.07 L98.2 248.14 L98.7 248.2 L99.2 248.27 L99.7 248.33 L100.2 248.39 L100.7 248.45 L101.2 248.51 L101.7 248.57 L102.2 248.63 L102.7 248.69 L103.2 248.75 L103.7 248.81 L104.2 248.87 L104.7 248.93 L105.2 248.99 L105.7 249.05 L106.2 249.11 L106.7 249.17 L107.2 249.23 L107.7 249.29 L108.2 249.35 L108.7 249.4 L109.2 249.46 L109.7 249.52 L110.2 249.57 L110.7 249.63 L111.2 249.68 L111.7 249.73 L112.2 249.78 L112.7 249.83 L113.2 249.88 L113.7 249.92 L114.2 249.97 L114.7 250.01 L115.2 250.05 L115.7 250.09 L116.2 250.13 L116.7 250.17 L117.2 250.21 L117.7 250.25 L118.2 250.28 L118.7 250.32 L119.2 250.36 L119.7 250.39 L120.2 250.43 L120.7 250.46 L121.2 250.5 L121.7 250.53 L122.2 250.57 L122.7 250.6 L123.2 250.63 L123.7 250.66 L124.2 250.7 L124.7 250.73 L125.2 250.76 L125.7 250.79 L126.2 250.82 L126.7 250.85 L127.2 250.88 L127.7 250.91 L128.2 250.94 L128.7 250.97 L129.2 250.99 L129.7 251.02 L130.2 251.05 L130.7 251.08 L131.2 251.1 L131.7 251.13 L132.2 251.16 L132.7 251.18 L133.2 251.21 L133.7 251.24 L134.2 251.26 L134.7 251.29 L135.2 251.31 L135.7 251.34 L136.2 251.36 L136.7 251.39 L137.2 251.41 L137.7 251.44 L138.2 251.46 L138.7 251.49 L139.2 251.51 L139.7 251.54 L140.2 251.56 L140.7 251.58 L141.2 251.61 L141.7 251.63 L142.2 251.65 L142.7 251.68 L143.2 251.7 L143.7 251.72 L144.2 251.74 L144.7 251.77 L145.2 251.79 L145.7 251.81 L146.2 251.83 L146.7 251.85 L147.2 251.87 L147.7 251.89 L148.2 251.91 L148.7 251.93 L149.2 251.95 L149.7 251.97 L150.2 251.99 L150.7 252.01 L151.2 252.03 L151.7 252.05 L152.2 252.07 L152.7 252.09 L153.2 252.1 L153.7 252.12 L154.2 252.14 L154.7 252.16 L155.2 252.17 L155.7 252.19 L156.2 252.21 L156.7 252.22 L157.2 252.24 L157.7 252.25 L158.2 252.27 L158.7 252.29 L159.2 252.3 L159.7 252.32 L160.2 252.33 L160.7 252.35 L161.2 252.36 L161.7 252.38 L162.2 252.39 L162.7 252.41 L163.2 252.42 L163.7 252.44 L164.2 252.45 L164.7 252.47 L165.2 252.48 L165.7 252.49 L166.2 252.51 L166.7 252.52 L167.2 252.54 L167.7 252.55 L168.2 252.56 L168.7 252.58 L169.2 252.59 L169.7 252.6 L170.2 252.62 L170.7 252.63 L171.2 252.64 L171.7 252.66 L172.2 252.67 L172.7 252.68 L173.2 252.7 L173.7 252.71 L174.2 252.72 L174.7 252.73 L175.2 252.75 L175.7 252.76 L176.2 252.77 L176.7 252.78 L177.2 252.79 L177.7 252.81 L178.2 252.82 L178.7 252.83 L179.2 252.84 L179.7 252.85 L180.2 252.87 L180.7 252.88 L181.2 252.89 L181.7 252.9 L182.2 252.91 L182.7 252.92 L183.2 252.94 L183.7 252.95 L184.2 252.96 L184.7 252.97 L185.2 252.98 L185.7 252.99 L186.2 253 L186.7 253.01 L187.2 253.03 L187.7 253.04 L188.2 253.05 L188.7 253.06 L189.2 253.07 L189.7 253.08 L190.2 253.09 L190.7 253.1 L191.2 253.11 L191.7 253.12 L192.2 253.13 L192.7 253.15 L193.2 253.16 L193.7 253.17 L194.2 253.18 L194.7 253.19 L195.2 253.2 L195.7 253.21 L196.2 253.22 L196.7 253.23 L197.2 253.24 L197.7 253.25 L198.2 253.26 L198.7 253.27 L199.2 253.28 L199.7 253.29 L200.2 253.3 L200.7 253.31 L201.2 253.33 L201.7 253.34 L202.2 253.35 L202.7 253.36 L203.2 253.37 L203.7 253.38 L204.2 253.39 L204.7 253.4 L205.2 253.41 L205.7 253.42 L206.2 253.43 L206.7 253.44 L207.2 253.45 L207.7 253.46 L208.2 253.47 L208.7 253.48 L209.2 253.49 L209.7 253.5 L210.2 253.51 L210.7 253.52 L211.2 253.53 L211.7 253.54 L212.2 253.55 L212.7 253.56 L213.2 253.57 L213.7 253.58 L214.2 253.59 L214.7 253.6 L215.2 253.61 L215.7 253.62 L216.2 253.63 L216.7 253.64 L217.2 253.65 L217.7 253.66 L218.2 253.67 L218.7 253.68 L219.2 253.69 L219.7 253.7 L220.2 253.71 L220.7 253.72 L221.2 253.73 L221.7 253.74 L222.2 253.75 L222.7 253.76 L223.2 253.77 L223.7 253.78 L224.2 253.79 L224.7 253.8 L225.2 253.8 L225.7 253.81 L226.2 253.82 L226.7 253.83 L227.2 253.84 L227.7 253.85 L228.2 253.86 L228.7 253.87 L229.2 253.88 L229.7 253.89 L230.2 253.89 L230.7 253.9 L231.2 253.91 L231.7 253.92 L232.2 253.93 L232.7 253.94 L233.2 253.95 L233.7 253.96 L234.2 253.96 L234.7 253.97 L235.2 253.98 L235.7 253.99 L236.2 254 L236.7 254 L237.2 254.01 L237.7 254.02 L238.2 254.03 L238.7 254.04 L239.2 254.04 L239.7 254.05 L240.2 254.06 L240.7 254.07 L241.2 254.08 L241.7 254.08 L242.2 254.09 L242.7 254.1 L243.2 254.11 L243.7 254.11 L244.2 254.12 L244.7 254.13 L245.2 254.13 L245.7 254.14 L246.2 254.15 L246.7 254.16 L247.2 254.16 L247.7 254.17 L248.2 254.18 L248.7 254.18 L249.2 254.19 L249.7 254.2 L250.2 254.2 L250.7 254.21 L251.2 254.22 L251.7 254.22 L252.2 254.23 L252.7 254.23 L253.2 254.24 L253.7 254.25 L254.2 254.25 L254.7 254.26 L255.2 254.27 L255.7 254.27 L256.2 254.28 L256.7 254.28 L257.2 254.29 L257.7 254.3 L258.2 254.3 L258.7 254.31 L259.2 254.32 L259.7 254.32 L260.2 254.33 L260.7 254.33 L261.2 254.34 L261.7 254.35 L262.2 254.35 L262.7 254.36 L263.2 254.36 L263.7 254.37 L264.2 254.37 L264.7 254.38 L265.2 254.39 L265.7 254.39 L266.2 254.4 L266.7 254.4 L267.2 254.41 L267.7 254.41 L268.2 254.42 L268.7 254.43 L269.2 254.43 L269.7 254.44 L270.2 254.44 L270.7 254.45 L271.2 254.45 L271.7 254.46 L272.2 254.46 L272.7 254.47 L273.2 254.48 L273.7 254.48 L274.2 254.49 L274.7 254.49 L275.2 254.5 L275.7 254.5 L276.2 254.51 L276.7 254.51 L277.2 254.52 L277.7 254.52 L278.2 254.53 L278.7 254.53 L279.2 254.54 L279.7 254.54 L280.2 254.55 L280.7 254.55 L281.2 254.56 L281.7 254.56 L282.2 254.56 L282.7 254.57 L283.2 254.57 L283.7 254.58 L284.2 254.58 L284.7 254.59 L285.2 254.59 L285.7 254.6 L286.2 254.6 L286.7 254.6 L287.2 254.61 L287.7 254.61 L288.2 254.62 L288.7 254.62 L289.2 254.63 L289.7 254.63 L290.2 254.63 L290.7 254.64 L291.2 254.64 L291.7 254.64 L292.2 254.65 L292.7 254.65 L293.2 254.66 L293.7 254.66 L294.2 254.66 L294.7 254.67 L295.2 254.67 L295.7 254.67 L296.2 254.68 L296.7 254.68 L297.2 254.68 L297.7 254.69 L298.2 254.69 L298.7 254.69 L299.2 254.7 L299.7 254.7" fill="none" stroke="#FF0000" stroke-width="1.08" stroke-linejoin="round" stroke-linecap="butt"/>
<path d="M67.15 186 L68.2 201 L68.2 201 L68.7 209.08 L69.2 216 L69.7 222.11 L70.2 227.6 L70.7 231.57 L71.2 233.88 L71.7 235.72 L72.2 237.22 L72.7 238.43 L73.2 239.42 L73.7 240.28 L74.2 241.07 L74.7 241.79 L75.2 242.43 L75.7 243.02 L76.2 243.55 L76.7 244.02 L77.2 244.43 L77.7 244.8 L78.2 245.13 L78.7 245.45 L79.2 245.74 L79.7 246.01 L80.2 246.27 L80.7 246.51 L81.2 246.73 L81.7 246.94 L82.2 247.14 L82.7 247.32 L83.2 247.48 L83.7 247.64 L84.2 247.79 L84.7 247.93 L85.2 248.06 L85.7 248.19 L86.2 248.31 L86.7 248.43 L87.2 248.54 L87.7 248.64 L88.2 248.75 L88.7 248.85 L89.2 248.94 L89.7 249.03 L90.2 249.12 L90.7 249.2 L91.2 249.28 L91.7 249.36 L92.2 249.44 L92.7 249.51 L93.2 249.59 L93.7 249.66 L94.2 249.73 L94.7 249.8 L95.2 249.87 L95.7 249.94 L96.2 250.01 L96.7 250.07 L97.2 250.13 L97.7 250.2 L98.2 250.26 L98.7 250.31 L99.2 250.37 L99.7 250.42 L100.2 250.48 L100.7 250.53 L101.2 250.57 L101.7 250.62 L102.2 250.66 L102.7 250.7 L103.2 250.74 L103.7 250.78 L104.2 250.81 L104.7 250.84 L105.2 250.88 L105.7 250.9 L106.2 250.93 L106.7 250.96 L107.2 250.98 L107.7 251.01 L108.2 251.03 L108.7 251.06 L109.2 251.08 L109.7 251.1 L110.2 251.12 L110.7 251.14 L111.2 251.16 L111.7 251.18 L112.2 251.2 L112.7 251.22 L113.2 251.24 L113.7 251.26 L114.2 251.28 L114.7 251.3 L115.2 251.33 L115.7 251.35 L116.2 251.37 L116.7 251.39 L117.2 251.41 L117.7 251.43 L118.2 251.45 L118.7 251.47 L119.2 251.49 L119.7 251.51 L120.2 251.53 L120.7 251.55 L121.2 251.57 L121.7 251.59 L122.2 251.61 L122.7 251.63 L123.2 251.65 L123.7 251.67 L124.2 251.68 L124.7 251.7 L125.2 251.72 L125.7 251.74 L126.2 251.76 L126.7 251.78 L127.2 251.8 L127.7 251.81 L128.2 251.83 L128.7 251.85 L129.2 251.87 L129.7 251.89 L130.2 251.9 L130.7 251.92 L131.2 251.94 L131.7 251.96 L132.2 251.97 L132.7 251.99 L133.2 252.01 L133.7 252.02 L134.2 252.04 L134.7 252.06 L135.2 252.07 L135.7 252.09 L136.2 252.11 L136.7 252.13 L137.2 252.14 L137.7 252.16 L138.2 252.18 L138.7 252.19 L139.2 252.21 L139.7 252.23 L140.2 252.24 L140.7 252.26 L141.2 252.27 L141.7 252.29 L142.2 252.31 L142.7 252.32 L143.2 252.34 L143.7 252.36 L144.2 252.37 L144.7 252.39 L145.2 252.4 L145.7 252.42 L146.2 252.43 L146.7 252.45 L147.2 252.46 L147.7 252.48 L148.2 252.49 L148.7 252.51 L149.2 252.52 L149.7 252.54 L150.2 252.55 L150.7 252.56 L151.2 252.58 L151.7 252.59 L152.2 252.6 L152.7 252.62 L153.2 252.63 L153.7 252.64 L154.2 252.66 L154.7 252.67 L155.2 252.68 L155.7 252.69 L156.2 252.7 L156.7 252.72 L157.2 252.73 L157.7 252.74 L158.2 252.75 L158.7 252.76 L159.2 252.77 L159.7 252.78 L160.2 252.8 L160.7 252.81 L161.2 252.82 L161.7 252.83 L162.2 252.84 L162.7 252.85 L163.2 252.86 L163.7 252.87 L164.2 252.88 L164.7 252.89 L165.2 252.9 L165.7 252.91 L166.2 252.92 L166.7 252.93 L167.2 252.94 L167.7 252.95 L168.2 252.96 L168.7 252.97 L169.2 252.98 L169.7 252.99 L170.2 253 L170.7 253.01 L171.2 253.02 L171.7 253.03 L172.2 253.04 L172.7 253.05 L173.2 253.06 L173.7 253.06 L174.2 253.07 L174.7 253.08 L175.2 253.09 L175.7 253.1 L176.2 253.11 L176.7 253.12 L177.2 253.13 L177.7 253.14 L178.2 253.14 L178.7 253.15 L179.2 253.16 L179.7 253.17 L180.2 253.18 L180.7 253.19 L181.2 253.2 L181.7 253.2 L182.2 253.21 L182.7 253.22 L183.2 253.23 L183.7 253.24 L184.2 253.25 L184.7 253.25 L185.2 253.26 L185.7 253.27 L186.2 253.28 L186.7 253.29 L187.2 253.3 L187.7 253.3 L188.2 253.31 L188.7 253.32 L189.2 253.33 L189.7 253.34 L190.2 253.34 L190.7 253.35 L191.2 253.36 L191.7 253.37 L192.2 253.38 L192.7 253.38 L193.2 253.39 L193.7 253.4 L194.2 253.41 L194.7 253.42 L195.2 253.42 L195.7 253.43 L196.2 253.44 L196.7 253.45 L197.2 253.46 L197.7 253.46 L198.2 253.47 L198.7 253.48 L199.2 253.49 L199.7 253.5 L200.2 253.5 L200.7 253.51 L201.2 253.52 L201.7 253.53 L202.2 253.53 L202.7 253.54 L203.2 253.55 L203.7 253.56 L204.2 253.57 L204.7 253.57 L205.2 253.58 L205.7 253.59 L206.2 253.6 L206.7 253.6 L207.2 253.61 L207.7 253.62 L208.2 253.63 L208.7 253.64 L209.2 253.64 L209.7 253.65 L210.2 253.66 L210.7 253.67 L211.2 253.67 L211.7 253.68 L212.2 253.69 L212.7 253.7 L213.2 253.7 L213.7 253.71 L214.2 253.72 L214.7 253.73 L215.2 253.73 L215.7 253.74 L216.2 253.75 L216.7 253.76 L217.2 253.76 L217.7 253.77 L218.2 253.78 L218.7 253.79 L219.2 253.79 L219.7 253.8 L220.2 253.81 L220.7 253.81 L221.2 253.82 L221.7 253.83 L222.2 253.84 L222.7 253.84 L223.2 253.85 L223.7 253.86 L224.2 253.86 L224.7 253.87 L225.2 253.88 L225.7 253.89 L226.2 253.89 L226.7 253.9 L227.2 253.91 L227.7 253.91 L228.2 253.92 L228.7 253.93 L229.2 253.93 L229.7 253.94 L230.2 253.95 L230.7 253.96 L231.2 253.96 L231.7 253.97 L232.2 253.98 L232.7 253.98 L233.2 253.99 L233.7 254 L234.2 254 L234.7 254.01 L235.2 254.02 L235.7 254.02 L236.2 254.03 L236.7 254.04 L237.2 254.04 L237.7 254.05 L238.2 254.05 L238.7 254.06 L239.2 254.07 L239.7 254.07 L240.2 254.08 L240.7 254.09 L241.2 254.09 L241.7 254.1 L242.2 254.11 L242.7 254.11 L243.2 254.12 L243.7 254.12 L244.2 254.13 L244.7 254.14 L245.2 254.14 L245.7 254.15 L246.2 254.15 L246.7 254.16 L247.2 254.17 L247.7 254.17 L248.2 254.18 L248.7 254.18 L249.2 254.19 L249.7 254.2 L250.2 254.2 L250.7 254.21 L251.2 254.21 L251.7 254.22 L252.2 254.23 L252.7 254.23 L253.2 254.24 L253.7 254.24 L254.2 254.25 L254.7 254.25 L255.2 254.26 L255.7 254.27 L256.2 254.27 L256.7 254.28 L257.2 254.28 L257.7 254.29 L258.2 254.29 L258.7 254.3 L259.2 254.31 L259.7 254.31 L260.2 254.32 L260.7 254.32 L261.2 254.33 L261.7 254.33 L262.2 254.34 L262.7 254.34 L263.2 254.35 L263.7 254.36 L264.2 254.36 L264.7 254.37 L265.2 254.37 L265.7 254.38 L266.2 254.38 L266.7 254.39 L267.2 254.39 L267.7 254.4 L268.2 254.4 L268.7 254.41 L269.2 254.41 L269.7 254.42 L270.2 254.42 L270.7 254.43 L271.2 254.43 L271.7 254.44 L272.2 254.45 L272.7 254.45 L273.2 254.46 L273.7 254.46 L274.2 254.47 L274.7 254.47 L275.2 254.48 L275.7 254.48 L276.2 254.49 L276.7 254.49 L277.2 254.5 L277.7 254.5 L278.2 254.51 L278.7 254.51 L279.2 254.52 L279.7 254.52 L280.2 254.53 L280.7 254.53 L281.2 254.54 L281.7 254.54 L282.2 254.54 L282.7 254.55 L283.2 254.55 L283.7 254.56 L284.2 254.56 L284.7 254.57 L285.2 254.57 L285.7 254.58 L286.2 254.58 L286.7 254.59 L287.2 254.59 L287.7 254.6 L288.2 254.6 L288.7 254.61 L289.2 254.61 L289.7 254.61 L290.2 254.62 L290.7 254.62 L291.2 254.63 L291.7 254.63 L292.2 254.64 L292.7 254.64 L293.2 254.65 L293.7 254.65 L294.2 254.65 L294.7 254.66 L295.2 254.66 L295.7 254.67 L296.2 254.67 L296.7 254.68 L297.2 254.68 L297.7 254.68 L298.2 254.69 L298.7 254.69 L299.2 254.7 L299.7 254.7" fill="none" stroke="#00CD00" stroke-width="1.08" stroke-linejoin="round" stroke-linecap="butt"/>
<path d="M67.15 199.6 L67.9 208 L67.9 208 L68.4 212.42 L68.9 219.36 L69.4 229.69 L69.9 234.01 L70.4 236.38 L70.9 238.06 L71.4 239.37 L71.91 240.56 L72.41 241.65 L72.91 242.62 L73.41 243.5 L73.91 244.27 L74.41 244.94 L74.91 245.51 L75.41 245.99 L75.91 246.43 L76.41 246.84 L76.91 247.22 L77.41 247.56 L77.91 247.88 L78.41 248.16 L78.91 248.42 L79.41 248.64 L79.92 248.84 L80.42 249.01 L80.92 249.17 L81.42 249.32 L81.92 249.47 L82.42 249.61 L82.92 249.74 L83.42 249.87 L83.92 249.99 L84.42 250.1 L84.92 250.2 L85.42 250.3 L85.92 250.39 L86.42 250.48 L86.92 250.56 L87.43 250.63 L87.93 250.7 L88.43 250.76 L88.93 250.81 L89.43 250.87 L89.93 250.92 L90.43 250.96 L90.93 251.01 L91.43 251.06 L91.93 251.1 L92.43 251.14 L92.93 251.18 L93.43 251.22 L93.93 251.26 L94.43 251.3 L94.93 251.33 L95.44 251.37 L95.94 251.4 L96.44 251.43 L96.94 251.46 L97.44 251.49 L97.94 251.52 L98.44 251.55 L98.94 251.57 L99.44 251.6 L99.94 251.62 L100.44 251.65 L100.94 251.67 L101.44 251.69 L101.94 251.72 L102.44 251.74 L102.95 251.76 L103.45 251.78 L103.95 251.8 L104.45 251.82 L104.95 251.84 L105.45 251.85 L105.95 251.87 L106.45 251.88 L106.95 251.9 L107.45 251.91 L107.95 251.93 L108.45 251.94 L108.95 251.96 L109.45 251.97 L109.95 251.98 L110.46 251.99 L110.96 252.01 L111.46 252.02 L111.96 252.03 L112.46 252.04 L112.96 252.06 L113.46 252.07 L113.96 252.08 L114.46 252.1 L114.96 252.11 L115.46 252.12 L115.96 252.14 L116.46 252.15 L116.96 252.17 L117.46 252.18 L117.96 252.2 L118.47 252.21 L118.97 252.22 L119.47 252.24 L119.97 252.25 L120.47 252.27 L120.97 252.28 L121.47 252.3 L121.97 252.31 L122.47 252.33 L122.97 252.34 L123.47 252.36 L123.97 252.37 L124.47 252.38 L124.97 252.4 L125.47 252.41 L125.98 252.43 L126.48 252.44 L126.98 252.45 L127.48 252.47 L127.98 252.48 L128.48 252.49 L128.98 252.51 L129.48 252.52 L129.98 252.53 L130.48 252.54 L130.98 252.55 L131.48 252.57 L131.98 252.58 L132.48 252.59 L132.98 252.6 L133.48 252.61 L133.99 252.62 L134.49 252.63 L134.99 252.64 L135.49 252.65 L135.99 252.66 L136.49 252.67 L136.99 252.68 L137.49 252.69 L137.99 252.7 L138.49 252.71 L138.99 252.72 L139.49 252.73 L139.99 252.74 L140.49 252.75 L140.99 252.75 L141.5 252.76 L142 252.77 L142.5 252.78 L143 252.79 L143.5 252.8 L144 252.81 L144.5 252.81 L145 252.82 L145.5 252.83 L146 252.84 L146.5 252.85 L147 252.85 L147.5 252.86 L148 252.87 L148.5 252.88 L149 252.89 L149.51 252.89 L150.01 252.9 L150.51 252.91 L151.01 252.92 L151.51 252.93 L152.01 252.93 L152.51 252.94 L153.01 252.95 L153.51 252.96 L154.01 252.97 L154.51 252.98 L155.01 252.98 L155.51 252.99 L156.01 253 L156.51 253.01 L157.02 253.02 L157.52 253.03 L158.02 253.03 L158.52 253.04 L159.02 253.05 L159.52 253.06 L160.02 253.07 L160.52 253.08 L161.02 253.08 L161.52 253.09 L162.02 253.1 L162.52 253.11 L163.02 253.12 L163.52 253.13 L164.02 253.13 L164.53 253.14 L165.03 253.15 L165.53 253.16 L166.03 253.17 L166.53 253.18 L167.03 253.18 L167.53 253.19 L168.03 253.2 L168.53 253.21 L169.03 253.22 L169.53 253.23 L170.03 253.24 L170.53 253.24 L171.03 253.25 L171.53 253.26 L172.03 253.27 L172.54 253.28 L173.04 253.28 L173.54 253.29 L174.04 253.3 L174.54 253.31 L175.04 253.32 L175.54 253.33 L176.04 253.33 L176.54 253.34 L177.04 253.35 L177.54 253.36 L178.04 253.37 L178.54 253.38 L179.04 253.38 L179.54 253.39 L180.05 253.4 L180.55 253.41 L181.05 253.42 L181.55 253.42 L182.05 253.43 L182.55 253.44 L183.05 253.45 L183.55 253.46 L184.05 253.46 L184.55 253.47 L185.05 253.48 L185.55 253.49 L186.05 253.49 L186.55 253.5 L187.05 253.51 L187.55 253.52 L188.06 253.53 L188.56 253.53 L189.06 253.54 L189.56 253.55 L190.06 253.56 L190.56 253.56 L191.06 253.57 L191.56 253.58 L192.06 253.59 L192.56 253.59 L193.06 253.6 L193.56 253.61 L194.06 253.62 L194.56 253.62 L195.06 253.63 L195.57 253.64 L196.07 253.64 L196.57 253.65 L197.07 253.66 L197.57 253.67 L198.07 253.67 L198.57 253.68 L199.07 253.69 L199.57 253.69 L200.07 253.7 L200.57 253.71 L201.07 253.71 L201.57 253.72 L202.07 253.73 L202.57 253.74 L203.07 253.74 L203.58 253.75 L204.08 253.76 L204.58 253.76 L205.08 253.77 L205.58 253.78 L206.08 253.78 L206.58 253.79 L207.08 253.8 L207.58 253.8 L208.08 253.81 L208.58 253.82 L209.08 253.82 L209.58 253.83 L210.08 253.84 L210.58 253.84 L211.09 253.85 L211.59 253.86 L212.09 253.86 L212.59 253.87 L213.09 253.88 L213.59 253.88 L214.09 253.89 L214.59 253.89 L215.09 253.9 L215.59 253.91 L216.09 253.91 L216.59 253.92 L217.09 253.93 L217.59 253.93 L218.09 253.94 L218.6 253.95 L219.1 253.95 L219.6 253.96 L220.1 253.96 L220.6 253.97 L221.1 253.98 L221.6 253.98 L222.1 253.99 L222.6 254 L223.1 254 L223.6 254.01 L224.1 254.01 L224.6 254.02 L225.1 254.03 L225.6 254.03 L226.1 254.04 L226.61 254.04 L227.11 254.05 L227.61 254.06 L228.11 254.06 L228.61 254.07 L229.11 254.07 L229.61 254.08 L230.11 254.09 L230.61 254.09 L231.11 254.1 L231.61 254.1 L232.11 254.11 L232.61 254.12 L233.11 254.12 L233.61 254.13 L234.12 254.13 L234.62 254.14 L235.12 254.14 L235.62 254.15 L236.12 254.16 L236.62 254.16 L237.12 254.17 L237.62 254.17 L238.12 254.18 L238.62 254.18 L239.12 254.19 L239.62 254.19 L240.12 254.2 L240.62 254.2 L241.12 254.21 L241.62 254.22 L242.13 254.22 L242.63 254.23 L243.13 254.23 L243.63 254.24 L244.13 254.24 L244.63 254.25 L245.13 254.25 L245.63 254.26 L246.13 254.26 L246.63 254.27 L247.13 254.27 L247.63 254.28 L248.13 254.28 L248.63 254.29 L249.13 254.29 L249.64 254.3 L250.14 254.3 L250.64 254.31 L251.14 254.31 L251.64 254.32 L252.14 254.32 L252.64 254.33 L253.14 254.33 L253.64 254.33 L254.14 254.34 L254.64 254.34 L255.14 254.35 L255.64 254.35 L256.14 254.36 L256.64 254.36 L257.14 254.37 L257.65 254.37 L258.15 254.38 L258.65 254.38 L259.15 254.39 L259.65 254.39 L260.15 254.4 L260.65 254.4 L261.15 254.4 L261.65 254.41 L262.15 254.41 L262.65 254.42 L263.15 254.42 L263.65 254.43 L264.15 254.43 L264.65 254.44 L265.16 254.44 L265.66 254.44 L266.16 254.45 L266.66 254.45 L267.16 254.46 L267.66 254.46 L268.16 254.47 L268.66 254.47 L269.16 254.47 L269.66 254.48 L270.16 254.48 L270.66 254.49 L271.16 254.49 L271.66 254.5 L272.16 254.5 L272.67 254.5 L273.17 254.51 L273.67 254.51 L274.17 254.52 L274.67 254.52 L275.17 254.52 L275.67 254.53 L276.17 254.53 L276.67 254.54 L277.17 254.54 L277.67 254.54 L278.17 254.55 L278.67 254.55 L279.17 254.56 L279.67 254.56 L280.17 254.56 L280.68 254.57 L281.18 254.57 L281.68 254.58 L282.18 254.58 L282.68 254.58 L283.18 254.59 L283.68 254.59 L284.18 254.59 L284.68 254.6 L285.18 254.6 L285.68 254.61 L286.18 254.61 L286.68 254.61 L287.18 254.62 L287.68 254.62 L288.19 254.62 L288.69 254.63 L289.19 254.63 L289.69 254.63 L290.19 254.64 L290.69 254.64 L291.19 254.64 L291.69 254.65 L292.19 254.65 L292.69 254.66 L293.19 254.66 L293.69 254.66 L294.19 254.67 L294.69 254.67 L295.19 254.67 L295.69 254.67 L296.2 254.68 L296.7 254.68 L297.2 254.68 L297.7 254.69 L298.2 254.69 L298.7 254.69 L299.2 254.7 L299.7 254.7" fill="none" stroke="#0000FF" stroke-width="1.08" stroke-linejoin="round" stroke-linecap="butt"/>
</g>
<rect x="58" y="12.5" width="251" height="251.5" fill="none" stroke="#000000" stroke-width="0.75"/>
<line x1="64.9" y1="264" x2="299.7" y2="264" stroke="#000000" stroke-width="0.75"/>
<line x1="58" y1="205.67" x2="58" y2="21.83" stroke="#000000" stroke-width="0.75"/>
<line x1="64.9" y1="264" x2="64.9" y2="271.2" stroke="#000000" stroke-width="0.75"/>
<text x="64.9" y="287.5" text-anchor="middle">0</text>
<line x1="111.86" y1="264" x2="111.86" y2="271.2" stroke="#000000" stroke-width="0.75"/>
<text x="111.86" y="287.5" text-anchor="middle">20</text>
<line x1="158.82" y1="264" x2="158.82" y2="271.2" stroke="#000000" stroke-width="0.75"/>
<text x="158.82" y="287.5" text-anchor="middle">40</text>
<line x1="205.78" y1="264" x2="205.78" y2="271.2" stroke="#000000" stroke-width="0.75"/>
<text x="205.78" y="287.5" text-anchor="middle">60</text>
<line x1="252.74" y1="264" x2="252.74" y2="271.2" stroke="#000000" stroke-width="0.75"/>
<text x="252.74" y="287.5" text-anchor="middle">80</text>
<line x1="299.7" y1="264" x2="299.7" y2="271.2" stroke="#000000" stroke-width="0.75"/>
<g>
<path d="M284 0L284 -505L101 -505L101 -568C204 -568 294 -590 315 -709L373 -709L373 0Z" transform="translate(290.8 287.5) scale(0.01067)" fill="#000"/>
<text x="296.73" y="287.5" text-anchor="start">0</text>
<text x="302.67" y="287.5" text-anchor="start">0</text>
</g>
<line x1="50.8" y1="205.67" x2="58" y2="205.67" stroke="#000000" stroke-width="0.75"/>
<text x="43.1" y="206.07" text-anchor="middle" transform="rotate(-90 43.1 206.07)">5</text>
<line x1="50.8" y1="144.39" x2="58" y2="144.39" stroke="#000000" stroke-width="0.75"/>
<g transform="rotate(-90 43.1 144.79)">
<path d="M284 0L284 -505L101 -505L101 -568C204 -568 294 -590 315 -709L373 -709L373 0Z" transform="translate(37.17 144.79) scale(0.01067)" fill="#000"/>
<text x="43.1" y="144.79" text-anchor="start">0</text>
</g>
<line x1="50.8" y1="83.11" x2="58" y2="83.11" stroke="#000000" stroke-width="0.75"/>
<g transform="rotate(-90 43.1 83.51)">
<path d="M284 0L284 -505L101 -505L101 -568C204 -568 294 -590 315 -709L373 -709L373 0Z" transform="translate(37.17 83.51) scale(0.01067)" fill="#000"/>
<text x="43.1" y="83.51" text-anchor="start">5</text>
</g>
<line x1="50.8" y1="21.83" x2="58" y2="21.83" stroke="#000000" stroke-width="0.75"/>
<text x="43.1" y="22.23" text-anchor="middle" transform="rotate(-90 43.1 22.23)">20</text>
<text x="183.5" y="312.8" text-anchor="middle">Iteration number</text>
<text x="17.8" y="137.95" text-anchor="middle" transform="rotate(-90 17.8 137.95)" letter-spacing="0.08">Criterion (scaled)</text>
<g clip-path="url(#clipR)">
<g fill="none" stroke="#D4D4D4" stroke-width="0.8">
<circle cx="479.57" cy="177.94" r="2.28"/>
<circle cx="438.79" cy="127.14" r="2.28"/>
<circle cx="448.22" cy="112.1" r="2.28"/>
<circle cx="455.31" cy="159.82" r="2.28"/>
<circle cx="432.68" cy="72.48" r="2.28"/>
<circle cx="447.64" cy="100.74" r="2.28"/>
<circle cx="447.58" cy="151.02" r="2.28"/>
<circle cx="414.42" cy="93.06" r="2.28"/>
<circle cx="466.84" cy="181.19" r="2.28"/>
<circle cx="458.95" cy="196.28" r="2.28"/>
<circle cx="435.77" cy="114.23" r="2.28"/>
<circle cx="444.36" cy="127.21" r="2.28"/>
<circle cx="457.15" cy="163.93" r="2.28"/>
<circle cx="442.66" cy="147.23" r="2.28"/>
<circle cx="443.01" cy="128.77" r="2.28"/>
<circle cx="420.12" cy="59.35" r="2.28"/>
<circle cx="458.09" cy="139.65" r="2.28"/>
<circle cx="449.94" cy="188.61" r="2.28"/>
<circle cx="452.79" cy="123.88" r="2.28"/>
<circle cx="418.73" cy="52.44" r="2.28"/>
<circle cx="478.81" cy="223.22" r="2.28"/>
<circle cx="450.52" cy="179.36" r="2.28"/>
<circle cx="440.28" cy="101.6" r="2.28"/>
<circle cx="485.97" cy="199.92" r="2.28"/>
<circle cx="446.74" cy="129.76" r="2.28"/>
<circle cx="420.17" cy="53.08" r="2.28"/>
<circle cx="439.94" cy="118.46" r="2.28"/>
<circle cx="467.44" cy="188.23" r="2.28"/>
<circle cx="439.72" cy="98.53" r="2.28"/>
<circle cx="433.56" cy="71.55" r="2.28"/>
<circle cx="467.88" cy="152.59" r="2.28"/>
<circle cx="416.38" cy="34.5" r="2.28"/>
<circle cx="457.72" cy="163.73" r="2.28"/>
<circle cx="408.56" cy="87.86" r="2.28"/>
<circle cx="435.08" cy="41.81" r="2.28"/>
<circle cx="424.83" cy="61.22" r="2.28"/>
<circle cx="475.24" cy="189.36" r="2.28"/>
<circle cx="481" cy="222.01" r="2.28"/>
<circle cx="441.37" cy="96.95" r="2.28"/>
<circle cx="463.5" cy="201.93" r="2.28"/>
<circle cx="444.2" cy="134.47" r="2.28"/>
<circle cx="458.34" cy="201.29" r="2.28"/>
<circle cx="433.36" cy="103.03" r="2.28"/>
<circle cx="415.3" cy="72.35" r="2.28"/>
<circle cx="413.51" cy="109.33" r="2.28"/>
<circle cx="454.84" cy="180.62" r="2.28"/>
<circle cx="452.69" cy="155.05" r="2.28"/>
<circle cx="437.68" cy="131.7" r="2.28"/>
<circle cx="483.75" cy="222.27" r="2.28"/>
<circle cx="452.09" cy="170.12" r="2.28"/>
<circle cx="449.52" cy="174.39" r="2.28"/>
<circle cx="452.38" cy="138.28" r="2.28"/>
<circle cx="445.1" cy="149.7" r="2.28"/>
<circle cx="441.75" cy="98.4" r="2.28"/>
<circle cx="420.47" cy="51.72" r="2.28"/>
<circle cx="457.09" cy="194.48" r="2.28"/>
<circle cx="445.81" cy="128.69" r="2.28"/>
<circle cx="470.16" cy="206.52" r="2.28"/>
<circle cx="440.63" cy="138.01" r="2.28"/>
<circle cx="411.55" cy="85.23" r="2.28"/>
<circle cx="445.72" cy="134.78" r="2.28"/>
<circle cx="479.74" cy="181.86" r="2.28"/>
<circle cx="440.35" cy="88.02" r="2.28"/>
<circle cx="430.77" cy="110.33" r="2.28"/>
<circle cx="425.03" cy="85.21" r="2.28"/>
<circle cx="427.75" cy="67.67" r="2.28"/>
<circle cx="441.92" cy="89.68" r="2.28"/>
<circle cx="425.29" cy="131.78" r="2.28"/>
<circle cx="475.92" cy="170.09" r="2.28"/>
<circle cx="442.26" cy="121.35" r="2.28"/>
<circle cx="449.65" cy="108.11" r="2.28"/>
<circle cx="474.8" cy="208.59" r="2.28"/>
<circle cx="476.03" cy="218.05" r="2.28"/>
<circle cx="443.58" cy="120.95" r="2.28"/>
<circle cx="453.88" cy="130.6" r="2.28"/>
<circle cx="461.5" cy="178.85" r="2.28"/>
<circle cx="443.95" cy="176.87" r="2.28"/>
<circle cx="413.98" cy="59.27" r="2.28"/>
<circle cx="459.98" cy="212.2" r="2.28"/>
<circle cx="464.51" cy="208.75" r="2.28"/>
<circle cx="455.46" cy="188.7" r="2.28"/>
<circle cx="430.14" cy="125.87" r="2.28"/>
<circle cx="443.89" cy="151.56" r="2.28"/>
<circle cx="436.43" cy="121.9" r="2.28"/>
<circle cx="441.93" cy="130.4" r="2.28"/>
<circle cx="472.12" cy="198.76" r="2.28"/>
<circle cx="476.52" cy="206.77" r="2.28"/>
<circle cx="460.26" cy="210.09" r="2.28"/>
<circle cx="457.98" cy="174.09" r="2.28"/>
<circle cx="460.39" cy="154.52" r="2.28"/>
<circle cx="447.37" cy="113.41" r="2.28"/>
<circle cx="446.17" cy="127.8" r="2.28"/>
<circle cx="434.86" cy="80.99" r="2.28"/>
<circle cx="446.54" cy="111.82" r="2.28"/>
<circle cx="464.03" cy="154.43" r="2.28"/>
<circle cx="441.13" cy="75.16" r="2.28"/>
<circle cx="438.68" cy="113.37" r="2.28"/>
<circle cx="431.25" cy="92.56" r="2.28"/>
<circle cx="454.68" cy="126.22" r="2.28"/>
<circle cx="455" cy="125.25" r="2.28"/>
<circle cx="420.31" cy="37.55" r="2.28"/>
<circle cx="456.8" cy="219.86" r="2.28"/>
<circle cx="436.83" cy="105.58" r="2.28"/>
<circle cx="474.58" cy="273.12" r="2.28"/>
<circle cx="450.57" cy="129.44" r="2.28"/>
<circle cx="480.08" cy="196.5" r="2.28"/>
<circle cx="438.94" cy="105.68" r="2.28"/>
<circle cx="442.15" cy="120.34" r="2.28"/>
<circle cx="453.27" cy="125.48" r="2.28"/>
<circle cx="467.57" cy="198.8" r="2.28"/>
<circle cx="458.3" cy="147.33" r="2.28"/>
<circle cx="424.28" cy="62.56" r="2.28"/>
<circle cx="451.06" cy="139.63" r="2.28"/>
<circle cx="448.02" cy="126.74" r="2.28"/>
<circle cx="439.49" cy="106.06" r="2.28"/>
<circle cx="435.34" cy="121.34" r="2.28"/>
<circle cx="480.64" cy="181" r="2.28"/>
<circle cx="440.22" cy="94.63" r="2.28"/>
<circle cx="431.6" cy="90.42" r="2.28"/>
<circle cx="459.65" cy="158.02" r="2.28"/>
<circle cx="450.07" cy="123.89" r="2.28"/>
<circle cx="446.17" cy="160.07" r="2.28"/>
<circle cx="462.37" cy="184.94" r="2.28"/>
<circle cx="456.84" cy="176.66" r="2.28"/>
<circle cx="454.45" cy="179.69" r="2.28"/>
<circle cx="465.83" cy="181.76" r="2.28"/>
<circle cx="452.96" cy="173.41" r="2.28"/>
<circle cx="435.93" cy="107.93" r="2.28"/>
<circle cx="440.75" cy="107" r="2.28"/>
<circle cx="437.75" cy="95.29" r="2.28"/>
<circle cx="451.57" cy="142.16" r="2.28"/>
<circle cx="427.22" cy="27.96" r="2.28"/>
<circle cx="412.95" cy="87.38" r="2.28"/>
<circle cx="449.27" cy="135.91" r="2.28"/>
<circle cx="422.33" cy="101.07" r="2.28"/>
<circle cx="410.69" cy="67.91" r="2.28"/>
<circle cx="454.66" cy="133.44" r="2.28"/>
<circle cx="434.15" cy="65.59" r="2.28"/>
<circle cx="456.98" cy="181.48" r="2.28"/>
<circle cx="437.56" cy="109.08" r="2.28"/>
<circle cx="426.38" cy="48.91" r="2.28"/>
<circle cx="424.09" cy="77.12" r="2.28"/>
<circle cx="437.86" cy="81.75" r="2.28"/>
<circle cx="442.43" cy="140.29" r="2.28"/>
<circle cx="432.03" cy="56.56" r="2.28"/>
<circle cx="442.28" cy="94.21" r="2.28"/>
<circle cx="418.55" cy="61.94" r="2.28"/>
<circle cx="447.87" cy="154.99" r="2.28"/>
<circle cx="413.68" cy="78.76" r="2.28"/>
<circle cx="443.93" cy="119.74" r="2.28"/>
<circle cx="460.79" cy="171.72" r="2.28"/>
<circle cx="468.25" cy="195.55" r="2.28"/>
<circle cx="480.02" cy="202.79" r="2.28"/>
<circle cx="418.17" cy="68.17" r="2.28"/>
<circle cx="461.95" cy="148.85" r="2.28"/>
<circle cx="470.41" cy="241.72" r="2.28"/>
<circle cx="466.14" cy="220.96" r="2.28"/>
<circle cx="430.03" cy="119.05" r="2.28"/>
<circle cx="455.39" cy="177.72" r="2.28"/>
<circle cx="482.77" cy="234.83" r="2.28"/>
<circle cx="419.29" cy="59.9" r="2.28"/>
<circle cx="456.61" cy="163.67" r="2.28"/>
<circle cx="468.63" cy="199.5" r="2.28"/>
<circle cx="434.43" cy="109.51" r="2.28"/>
<circle cx="458.62" cy="168.24" r="2.28"/>
<circle cx="427.35" cy="75.04" r="2.28"/>
<circle cx="432.24" cy="81.06" r="2.28"/>
<circle cx="432.15" cy="104.99" r="2.28"/>
<circle cx="451.24" cy="133.57" r="2.28"/>
<circle cx="445.88" cy="163.35" r="2.28"/>
<circle cx="465.64" cy="160.26" r="2.28"/>
<circle cx="429.82" cy="153.56" r="2.28"/>
<circle cx="445.12" cy="140.77" r="2.28"/>
<circle cx="465.77" cy="216.41" r="2.28"/>
<circle cx="458.2" cy="152.6" r="2.28"/>
<circle cx="422.55" cy="107.59" r="2.28"/>
<circle cx="460.18" cy="134.59" r="2.28"/>
<circle cx="438.55" cy="140.91" r="2.28"/>
<circle cx="454.89" cy="114.22" r="2.28"/>
<circle cx="453.29" cy="145.04" r="2.28"/>
<circle cx="470.66" cy="195.5" r="2.28"/>
<circle cx="449.8" cy="133.53" r="2.28"/>
<circle cx="412.55" cy="26.38" r="2.28"/>
<circle cx="421.7" cy="52.86" r="2.28"/>
<circle cx="461.43" cy="230.29" r="2.28"/>
<circle cx="442.72" cy="91.85" r="2.28"/>
<circle cx="469.12" cy="189.1" r="2.28"/>
<circle cx="452.77" cy="190.41" r="2.28"/>
<circle cx="433.44" cy="74.11" r="2.28"/>
<circle cx="468.07" cy="220.5" r="2.28"/>
<circle cx="432.33" cy="84.67" r="2.28"/>
<circle cx="408.79" cy="76.76" r="2.28"/>
<circle cx="486.62" cy="203.97" r="2.28"/>
<circle cx="411.47" cy="62.99" r="2.28"/>
<circle cx="459.63" cy="197.94" r="2.28"/>
<circle cx="465.35" cy="183.83" r="2.28"/>
<circle cx="450.38" cy="157.93" r="2.28"/>
<circle cx="415.77" cy="77.63" r="2.28"/>
<circle cx="466.79" cy="147" r="2.28"/>
<circle cx="420.34" cy="70.13" r="2.28"/>
<circle cx="422.19" cy="98.29" r="2.28"/>
<circle cx="440.76" cy="115.31" r="2.28"/>
<circle cx="462.51" cy="199.56" r="2.28"/>
<circle cx="453.27" cy="154.61" r="2.28"/>
<circle cx="462.93" cy="179.32" r="2.28"/>
<circle cx="439.21" cy="105.78" r="2.28"/>
<circle cx="444.34" cy="122.67" r="2.28"/>
<circle cx="426.1" cy="89.71" r="2.28"/>
<circle cx="441.61" cy="105.16" r="2.28"/>
<circle cx="458.82" cy="148.26" r="2.28"/>
<circle cx="441.93" cy="130.61" r="2.28"/>
<circle cx="456.59" cy="167.13" r="2.28"/>
<circle cx="436.76" cy="98.98" r="2.28"/>
<circle cx="436.4" cy="70.75" r="2.28"/>
<circle cx="448.34" cy="113.79" r="2.28"/>
<circle cx="443.91" cy="139.77" r="2.28"/>
<circle cx="458.8" cy="170.67" r="2.28"/>
<circle cx="450.97" cy="181.53" r="2.28"/>
<circle cx="480.51" cy="219.45" r="2.28"/>
<circle cx="443.45" cy="121.2" r="2.28"/>
<circle cx="443.3" cy="106.69" r="2.28"/>
<circle cx="427.93" cy="58.27" r="2.28"/>
<circle cx="448.03" cy="144.41" r="2.28"/>
<circle cx="460.51" cy="207.86" r="2.28"/>
<circle cx="433.6" cy="82.81" r="2.28"/>
<circle cx="446.66" cy="136.52" r="2.28"/>
<circle cx="461.19" cy="169.1" r="2.28"/>
<circle cx="445.2" cy="123.87" r="2.28"/>
<circle cx="437.78" cy="87.05" r="2.28"/>
<circle cx="466" cy="174.5" r="2.28"/>
<circle cx="449.43" cy="122.96" r="2.28"/>
<circle cx="455.1" cy="171.61" r="2.28"/>
<circle cx="469.75" cy="172.48" r="2.28"/>
<circle cx="469.26" cy="206.03" r="2.28"/>
<circle cx="441.03" cy="111.59" r="2.28"/>
<circle cx="437.66" cy="60.59" r="2.28"/>
<circle cx="452.98" cy="146.09" r="2.28"/>
<circle cx="445.09" cy="153.73" r="2.28"/>
<circle cx="411.68" cy="43.49" r="2.28"/>
<circle cx="471.72" cy="174.41" r="2.28"/>
<circle cx="447.97" cy="111.1" r="2.28"/>
<circle cx="461.52" cy="175.12" r="2.28"/>
<circle cx="425.42" cy="68.56" r="2.28"/>
<circle cx="471.96" cy="202.73" r="2.28"/>
<circle cx="436.48" cy="115.51" r="2.28"/>
<circle cx="445.56" cy="93.89" r="2.28"/>
<circle cx="421.1" cy="81.34" r="2.28"/>
<circle cx="444.44" cy="135.88" r="2.28"/>
<circle cx="443.25" cy="131" r="2.28"/>
<circle cx="444.1" cy="81.28" r="2.28"/>
<circle cx="455.89" cy="143.62" r="2.28"/>
<circle cx="448.74" cy="148.18" r="2.28"/>
<circle cx="466.05" cy="190.55" r="2.28"/>
<circle cx="438.75" cy="94.65" r="2.28"/>
<circle cx="428.77" cy="61.42" r="2.28"/>
<circle cx="447.24" cy="171.29" r="2.28"/>
<circle cx="459.48" cy="153.62" r="2.28"/>
<circle cx="471.13" cy="201.66" r="2.28"/>
<circle cx="462.99" cy="198.79" r="2.28"/>
<circle cx="414.22" cy="83.52" r="2.28"/>
<circle cx="454.73" cy="141.91" r="2.28"/>
<circle cx="475.21" cy="158.97" r="2.28"/>
<circle cx="448.78" cy="136.56" r="2.28"/>
<circle cx="437.84" cy="90.85" r="2.28"/>
<circle cx="453.45" cy="174.34" r="2.28"/>
<circle cx="438.08" cy="93.07" r="2.28"/>
<circle cx="459.68" cy="156.03" r="2.28"/>
<circle cx="447.35" cy="168.9" r="2.28"/>
<circle cx="473.94" cy="210.35" r="2.28"/>
<circle cx="457.05" cy="149.15" r="2.28"/>
<circle cx="433.91" cy="132.74" r="2.28"/>
<circle cx="459.03" cy="181.5" r="2.28"/>
<circle cx="465.3" cy="174.39" r="2.28"/>
<circle cx="436.85" cy="139.17" r="2.28"/>
<circle cx="439.55" cy="117.82" r="2.28"/>
<circle cx="464.68" cy="185.59" r="2.28"/>
<circle cx="436.49" cy="79.28" r="2.28"/>
<circle cx="414.15" cy="103.83" r="2.28"/>
<circle cx="443.38" cy="96.03" r="2.28"/>
<circle cx="461.98" cy="173.79" r="2.28"/>
<circle cx="445.92" cy="102.7" r="2.28"/>
<circle cx="456.52" cy="139.06" r="2.28"/>
<circle cx="426.77" cy="70.47" r="2.28"/>
<circle cx="422.24" cy="62.45" r="2.28"/>
<circle cx="464.35" cy="225.81" r="2.28"/>
<circle cx="456.91" cy="197.54" r="2.28"/>
<circle cx="447.02" cy="156.75" r="2.28"/>
<circle cx="471.84" cy="205.25" r="2.28"/>
<circle cx="429.61" cy="61.74" r="2.28"/>
<circle cx="439.65" cy="149.76" r="2.28"/>
<circle cx="467.01" cy="198.5" r="2.28"/>
<circle cx="482.35" cy="225.77" r="2.28"/>
<circle cx="447.76" cy="171.9" r="2.28"/>
<circle cx="479.36" cy="164.57" r="2.28"/>
<circle cx="436.21" cy="96.55" r="2.28"/>
<circle cx="453.84" cy="119.78" r="2.28"/>
<circle cx="444.31" cy="97.48" r="2.28"/>
<circle cx="417.57" cy="93.69" r="2.28"/>
<circle cx="452.48" cy="194.85" r="2.28"/>
<circle cx="465.24" cy="140.77" r="2.28"/>
<circle cx="444.8" cy="135.37" r="2.28"/>
<circle cx="446.27" cy="157.3" r="2.28"/>
<circle cx="473.94" cy="182.89" r="2.28"/>
<circle cx="423.97" cy="71.77" r="2.28"/>
<circle cx="419.28" cy="87.82" r="2.28"/>
<circle cx="435.23" cy="103.99" r="2.28"/>
<circle cx="424.97" cy="72.24" r="2.28"/>
<circle cx="473.06" cy="196.51" r="2.28"/>
<circle cx="453.46" cy="138.59" r="2.28"/>
<circle cx="431.26" cy="94.45" r="2.28"/>
<circle cx="435.98" cy="105.98" r="2.28"/>
<circle cx="436.06" cy="84.7" r="2.28"/>
<circle cx="433.19" cy="83.71" r="2.28"/>
<circle cx="453.35" cy="130.53" r="2.28"/>
<circle cx="459.67" cy="180.44" r="2.28"/>
<circle cx="451.79" cy="152.5" r="2.28"/>
<circle cx="430.42" cy="110.97" r="2.28"/>
<circle cx="425.68" cy="42.58" r="2.28"/>
<circle cx="458.87" cy="204.3" r="2.28"/>
<circle cx="446.58" cy="127.67" r="2.28"/>
<circle cx="416.56" cy="93.38" r="2.28"/>
<circle cx="469.74" cy="187.48" r="2.28"/>
<circle cx="462.26" cy="164.46" r="2.28"/>
<circle cx="443.04" cy="157.55" r="2.28"/>
<circle cx="442.68" cy="123.76" r="2.28"/>
<circle cx="451.98" cy="190.93" r="2.28"/>
<circle cx="434.61" cy="62.43" r="2.28"/>
<circle cx="422.1" cy="83.55" r="2.28"/>
<circle cx="453.7" cy="192.56" r="2.28"/>
<circle cx="420.39" cy="88.7" r="2.28"/>
<circle cx="454.99" cy="130.89" r="2.28"/>
<circle cx="420.35" cy="38.77" r="2.28"/>
<circle cx="445.72" cy="100.36" r="2.28"/>
<circle cx="445.04" cy="144.84" r="2.28"/>
<circle cx="481.31" cy="200.21" r="2.28"/>
<circle cx="427.47" cy="42.02" r="2.28"/>
<circle cx="420.84" cy="89.52" r="2.28"/>
<circle cx="435.38" cy="104.14" r="2.28"/>
<circle cx="426.35" cy="99.39" r="2.28"/>
<circle cx="436.45" cy="126.02" r="2.28"/>
<circle cx="455.56" cy="135.09" r="2.28"/>
<circle cx="462.2" cy="166.9" r="2.28"/>
<circle cx="478.98" cy="188.2" r="2.28"/>
<circle cx="433.67" cy="78.81" r="2.28"/>
<circle cx="485.08" cy="168.6" r="2.28"/>
<circle cx="443.75" cy="88.13" r="2.28"/>
<circle cx="446.03" cy="130.54" r="2.28"/>
<circle cx="448.97" cy="148.36" r="2.28"/>
<circle cx="449" cy="164.01" r="2.28"/>
<circle cx="443.82" cy="98.11" r="2.28"/>
<circle cx="432.74" cy="101.5" r="2.28"/>
<circle cx="459.45" cy="208.21" r="2.28"/>
<circle cx="466.61" cy="196.65" r="2.28"/>
<circle cx="438.41" cy="104.69" r="2.28"/>
<circle cx="451.94" cy="131.77" r="2.28"/>
<circle cx="435.22" cy="73.18" r="2.28"/>
<circle cx="432.73" cy="106.39" r="2.28"/>
<circle cx="449.1" cy="159.29" r="2.28"/>
<circle cx="457.5" cy="176.01" r="2.28"/>
<circle cx="436.95" cy="128.53" r="2.28"/>
<circle cx="458.68" cy="174.47" r="2.28"/>
<circle cx="417.41" cy="62.21" r="2.28"/>
<circle cx="449.91" cy="142.84" r="2.28"/>
<circle cx="481.24" cy="233.59" r="2.28"/>
<circle cx="447.28" cy="161.9" r="2.28"/>
<circle cx="425.1" cy="46.75" r="2.28"/>
<circle cx="419.97" cy="95.7" r="2.28"/>
<circle cx="469.73" cy="178.32" r="2.28"/>
<circle cx="447.28" cy="120.31" r="2.28"/>
<circle cx="457.81" cy="176.79" r="2.28"/>
<circle cx="465.12" cy="210.45" r="2.28"/>
<circle cx="446.67" cy="127.82" r="2.28"/>
<circle cx="441.76" cy="136.11" r="2.28"/>
<circle cx="429.69" cy="87.17" r="2.28"/>
<circle cx="418.9" cy="70.08" r="2.28"/>
<circle cx="446.28" cy="147.61" r="2.28"/>
<circle cx="444.29" cy="129.56" r="2.28"/>
<circle cx="455.23" cy="168.59" r="2.28"/>
<circle cx="445.2" cy="155.7" r="2.28"/>
<circle cx="450.61" cy="150.59" r="2.28"/>
<circle cx="462.5" cy="196.52" r="2.28"/>
<circle cx="430.86" cy="127.13" r="2.28"/>
<circle cx="442.17" cy="124.95" r="2.28"/>
<circle cx="417.21" cy="79.24" r="2.28"/>
<circle cx="466" cy="203.2" r="2.28"/>
<circle cx="448.33" cy="185.36" r="2.28"/>
<circle cx="456.86" cy="148.93" r="2.28"/>
<circle cx="476.77" cy="183.55" r="2.28"/>
<circle cx="468.01" cy="177.98" r="2.28"/>
<circle cx="446.47" cy="124.49" r="2.28"/>
<circle cx="462.49" cy="210.64" r="2.28"/>
<circle cx="420.53" cy="69.94" r="2.28"/>
<circle cx="455.8" cy="184.52" r="2.28"/>
<circle cx="450.23" cy="95.05" r="2.28"/>
<circle cx="417" cy="84.73" r="2.28"/>
<circle cx="472.89" cy="182.87" r="2.28"/>
<circle cx="434.29" cy="129" r="2.28"/>
<circle cx="460.52" cy="203.92" r="2.28"/>
<circle cx="439.66" cy="121.35" r="2.28"/>
<circle cx="466.39" cy="174.11" r="2.28"/>
<circle cx="472.41" cy="185.28" r="2.28"/>
<circle cx="431.9" cy="81.24" r="2.28"/>
<circle cx="418.66" cy="114.78" r="2.28"/>
<circle cx="445.12" cy="101.43" r="2.28"/>
<circle cx="463.65" cy="205.76" r="2.28"/>
<circle cx="440.58" cy="75.22" r="2.28"/>
<circle cx="436" cy="55.66" r="2.28"/>
<circle cx="456.83" cy="147.7" r="2.28"/>
<circle cx="435.03" cy="73.03" r="2.28"/>
<circle cx="421.43" cy="101.84" r="2.28"/>
<circle cx="453.17" cy="96.04" r="2.28"/>
<circle cx="433.68" cy="87.08" r="2.28"/>
<circle cx="426.51" cy="55.07" r="2.28"/>
<circle cx="440.91" cy="132.68" r="2.28"/>
<circle cx="419.83" cy="74.06" r="2.28"/>
<circle cx="447.35" cy="162.03" r="2.28"/>
<circle cx="434.7" cy="100.14" r="2.28"/>
<circle cx="440.46" cy="111.33" r="2.28"/>
<circle cx="434.04" cy="87.13" r="2.28"/>
<circle cx="464.85" cy="155.36" r="2.28"/>
<circle cx="445.54" cy="117.74" r="2.28"/>
<circle cx="457.52" cy="163.04" r="2.28"/>
<circle cx="456.67" cy="165.17" r="2.28"/>
<circle cx="432.36" cy="43.02" r="2.28"/>
<circle cx="458.38" cy="184.31" r="2.28"/>
<circle cx="454.2" cy="131.16" r="2.28"/>
<circle cx="453.53" cy="200.78" r="2.28"/>
<circle cx="440.06" cy="130.41" r="2.28"/>
<circle cx="439.53" cy="99.35" r="2.28"/>
<circle cx="462.45" cy="185.56" r="2.28"/>
<circle cx="431.9" cy="19.25" r="2.28"/>
<circle cx="457.71" cy="110.34" r="2.28"/>
<circle cx="440.67" cy="146.99" r="2.28"/>
<circle cx="462.44" cy="206.27" r="2.28"/>
<circle cx="455.89" cy="166.87" r="2.28"/>
<circle cx="467.65" cy="152.57" r="2.28"/>
<circle cx="436.23" cy="72.95" r="2.28"/>
<circle cx="428.91" cy="74.25" r="2.28"/>
<circle cx="445.56" cy="161" r="2.28"/>
<circle cx="433.91" cy="111.89" r="2.28"/>
<circle cx="435.48" cy="157.96" r="2.28"/>
<circle cx="460.49" cy="211.95" r="2.28"/>
<circle cx="483.56" cy="184.36" r="2.28"/>
<circle cx="441.73" cy="97.74" r="2.28"/>
<circle cx="453.5" cy="185.62" r="2.28"/>
<circle cx="447.69" cy="133.6" r="2.28"/>
<circle cx="441.07" cy="76.48" r="2.28"/>
<circle cx="422.01" cy="69.57" r="2.28"/>
<circle cx="429.78" cy="90.21" r="2.28"/>
<circle cx="461.31" cy="165.02" r="2.28"/>
<circle cx="467.94" cy="180.56" r="2.28"/>
<circle cx="449.43" cy="140.22" r="2.28"/>
<circle cx="431.79" cy="99.65" r="2.28"/>
<circle cx="449.41" cy="151.66" r="2.28"/>
<circle cx="443.06" cy="118.06" r="2.28"/>
<circle cx="457.92" cy="182.18" r="2.28"/>
<circle cx="449.84" cy="113.07" r="2.28"/>
<circle cx="435.84" cy="77.3" r="2.28"/>
<circle cx="451.21" cy="123.35" r="2.28"/>
<circle cx="425.3" cy="29.95" r="2.28"/>
<circle cx="463.11" cy="147.29" r="2.28"/>
<circle cx="469.96" cy="162.98" r="2.28"/>
<circle cx="425.32" cy="67.74" r="2.28"/>
<circle cx="455.56" cy="166.89" r="2.28"/>
<circle cx="428.86" cy="29.05" r="2.28"/>
<circle cx="467.86" cy="207.84" r="2.28"/>
<circle cx="464.7" cy="200.89" r="2.28"/>
<circle cx="443.25" cy="140.58" r="2.28"/>
<circle cx="466.41" cy="185.16" r="2.28"/>
<circle cx="439.45" cy="98.82" r="2.28"/>
<circle cx="435.44" cy="73.09" r="2.28"/>
<circle cx="436.85" cy="105.65" r="2.28"/>
<circle cx="444.94" cy="166.06" r="2.28"/>
<circle cx="441.48" cy="107.64" r="2.28"/>
<circle cx="450.52" cy="123.62" r="2.28"/>
<circle cx="435.97" cy="97.31" r="2.28"/>
<circle cx="462.06" cy="183.89" r="2.28"/>
<circle cx="466.91" cy="178.11" r="2.28"/>
<circle cx="438.22" cy="71.93" r="2.28"/>
<circle cx="420.61" cy="74.18" r="2.28"/>
<circle cx="461.29" cy="211.31" r="2.28"/>
<circle cx="469.13" cy="207.17" r="2.28"/>
<circle cx="444.51" cy="128.86" r="2.28"/>
<circle cx="423.27" cy="115.25" r="2.28"/>
<circle cx="452.64" cy="135.5" r="2.28"/>
<circle cx="590.76" cy="216.58" r="2.28"/>
<circle cx="524.5" cy="68.49" r="2.28"/>
<circle cx="570.36" cy="158.74" r="2.28"/>
<circle cx="554.94" cy="118.33" r="2.28"/>
<circle cx="544.38" cy="46.17" r="2.28"/>
<circle cx="570.76" cy="177.22" r="2.28"/>
<circle cx="535.75" cy="88.25" r="2.28"/>
<circle cx="566.84" cy="145.04" r="2.28"/>
<circle cx="586.64" cy="178.3" r="2.28"/>
<circle cx="564.5" cy="143.79" r="2.28"/>
<circle cx="543.98" cy="104.94" r="2.28"/>
<circle cx="526.39" cy="61.53" r="2.28"/>
<circle cx="536.08" cy="59.31" r="2.28"/>
<circle cx="525.18" cy="31.72" r="2.28"/>
<circle cx="592.22" cy="203.99" r="2.28"/>
<circle cx="556.19" cy="110.46" r="2.28"/>
<circle cx="540.69" cy="90.2" r="2.28"/>
<circle cx="535.76" cy="106.87" r="2.28"/>
<circle cx="540.26" cy="75.01" r="2.28"/>
<circle cx="554.51" cy="90.51" r="2.28"/>
<circle cx="536.07" cy="96.19" r="2.28"/>
<circle cx="593.71" cy="213.76" r="2.28"/>
<circle cx="546.49" cy="114.57" r="2.28"/>
<circle cx="545.81" cy="55.69" r="2.28"/>
<circle cx="567.05" cy="166.89" r="2.28"/>
<circle cx="589.31" cy="185.71" r="2.28"/>
<circle cx="586.85" cy="217.35" r="2.28"/>
<circle cx="551.55" cy="99.19" r="2.28"/>
<circle cx="566.03" cy="163.29" r="2.28"/>
<circle cx="563.96" cy="195.46" r="2.28"/>
<circle cx="571.38" cy="164.59" r="2.28"/>
<circle cx="566.04" cy="137.02" r="2.28"/>
<circle cx="542.67" cy="127.76" r="2.28"/>
<circle cx="536.5" cy="77.31" r="2.28"/>
<circle cx="564.48" cy="153.57" r="2.28"/>
<circle cx="538" cy="98.95" r="2.28"/>
<circle cx="587.61" cy="203.89" r="2.28"/>
<circle cx="561.83" cy="178.77" r="2.28"/>
<circle cx="541.06" cy="72.08" r="2.28"/>
<circle cx="554.79" cy="83.76" r="2.28"/>
<circle cx="551.17" cy="128.59" r="2.28"/>
<circle cx="558.5" cy="124.55" r="2.28"/>
<circle cx="579.48" cy="154.75" r="2.28"/>
<circle cx="532.91" cy="69.75" r="2.28"/>
<circle cx="524.67" cy="91.68" r="2.28"/>
<circle cx="567.64" cy="175.2" r="2.28"/>
<circle cx="557.6" cy="115.97" r="2.28"/>
<circle cx="564.23" cy="145.9" r="2.28"/>
<circle cx="569.71" cy="146.79" r="2.28"/>
<circle cx="557.53" cy="154.44" r="2.28"/>
<circle cx="576.63" cy="156.32" r="2.28"/>
<circle cx="543.66" cy="91.18" r="2.28"/>
<circle cx="562.31" cy="121.56" r="2.28"/>
<circle cx="544.87" cy="100.78" r="2.28"/>
<circle cx="539.04" cy="104.94" r="2.28"/>
<circle cx="573.04" cy="184.23" r="2.28"/>
<circle cx="572.14" cy="190.42" r="2.28"/>
<circle cx="523.22" cy="90.93" r="2.28"/>
<circle cx="539.2" cy="60.74" r="2.28"/>
<circle cx="566.74" cy="126.84" r="2.28"/>
<circle cx="581.9" cy="187.05" r="2.28"/>
<circle cx="548.08" cy="103.88" r="2.28"/>
<circle cx="557.47" cy="129.89" r="2.28"/>
<circle cx="533.52" cy="59" r="2.28"/>
<circle cx="570.31" cy="137.17" r="2.28"/>
<circle cx="578.48" cy="192.52" r="2.28"/>
<circle cx="573.87" cy="176.51" r="2.28"/>
<circle cx="579.24" cy="203.88" r="2.28"/>
<circle cx="572.9" cy="166.17" r="2.28"/>
<circle cx="554.52" cy="88.14" r="2.28"/>
<circle cx="575.55" cy="244.4" r="2.28"/>
<circle cx="562.6" cy="131.38" r="2.28"/>
<circle cx="586.31" cy="209.77" r="2.28"/>
<circle cx="546.72" cy="141.39" r="2.28"/>
<circle cx="550.51" cy="90.81" r="2.28"/>
<circle cx="573.93" cy="175.86" r="2.28"/>
<circle cx="585.98" cy="188.5" r="2.28"/>
<circle cx="563.88" cy="172.81" r="2.28"/>
<circle cx="547.17" cy="40.63" r="2.28"/>
<circle cx="558.74" cy="121.35" r="2.28"/>
<circle cx="551.35" cy="108.15" r="2.28"/>
<circle cx="598.01" cy="159.6" r="2.28"/>
<circle cx="578.56" cy="170.45" r="2.28"/>
<circle cx="585.69" cy="177.65" r="2.28"/>
<circle cx="566.93" cy="125.55" r="2.28"/>
<circle cx="550.24" cy="144.44" r="2.28"/>
<circle cx="583.91" cy="156.57" r="2.28"/>
<circle cx="593.28" cy="206.52" r="2.28"/>
<circle cx="572.39" cy="162.9" r="2.28"/>
<circle cx="560.58" cy="109.18" r="2.28"/>
<circle cx="582.11" cy="208.27" r="2.28"/>
<circle cx="553.82" cy="100.51" r="2.28"/>
<circle cx="575.95" cy="161.78" r="2.28"/>
<circle cx="547.19" cy="90.36" r="2.28"/>
<circle cx="542.15" cy="68.13" r="2.28"/>
<circle cx="572.09" cy="205.12" r="2.28"/>
<circle cx="567.64" cy="181.61" r="2.28"/>
<circle cx="598.15" cy="220.37" r="2.28"/>
<circle cx="555.6" cy="104.94" r="2.28"/>
<circle cx="561.51" cy="48.1" r="2.28"/>
<circle cx="538.85" cy="69.16" r="2.28"/>
<circle cx="524.64" cy="83.28" r="2.28"/>
<circle cx="526.36" cy="78.83" r="2.28"/>
<circle cx="570.08" cy="139.92" r="2.28"/>
<circle cx="538.13" cy="58.21" r="2.28"/>
<circle cx="583.01" cy="219.54" r="2.28"/>
<circle cx="588.76" cy="175.56" r="2.28"/>
<circle cx="555.49" cy="113.61" r="2.28"/>
<circle cx="593.36" cy="179.89" r="2.28"/>
<circle cx="565.48" cy="192.73" r="2.28"/>
<circle cx="582.97" cy="228.79" r="2.28"/>
<circle cx="556.66" cy="103.27" r="2.28"/>
<circle cx="579.74" cy="228.82" r="2.28"/>
<circle cx="542.68" cy="71.38" r="2.28"/>
<circle cx="573.19" cy="164" r="2.28"/>
<circle cx="552.11" cy="99.23" r="2.28"/>
<circle cx="558.51" cy="115" r="2.28"/>
<circle cx="573.36" cy="166.16" r="2.28"/>
<circle cx="564.42" cy="133.31" r="2.28"/>
<circle cx="559.61" cy="136.11" r="2.28"/>
<circle cx="575.23" cy="177.83" r="2.28"/>
<circle cx="576.7" cy="114.26" r="2.28"/>
<circle cx="534.07" cy="46.61" r="2.28"/>
<circle cx="571.94" cy="154.12" r="2.28"/>
<circle cx="574.13" cy="165.41" r="2.28"/>
<circle cx="546.41" cy="104.19" r="2.28"/>
<circle cx="568.57" cy="152.33" r="2.28"/>
<circle cx="535.26" cy="78.41" r="2.28"/>
<circle cx="589.09" cy="177.3" r="2.28"/>
<circle cx="556.42" cy="136.97" r="2.28"/>
<circle cx="559.52" cy="180.44" r="2.28"/>
<circle cx="584.38" cy="208" r="2.28"/>
<circle cx="558.27" cy="106.42" r="2.28"/>
<circle cx="572.72" cy="114.31" r="2.28"/>
<circle cx="540.65" cy="53.86" r="2.28"/>
<circle cx="549.95" cy="118.74" r="2.28"/>
<circle cx="533.93" cy="77.51" r="2.28"/>
<circle cx="557" cy="139.69" r="2.28"/>
<circle cx="581.14" cy="194.65" r="2.28"/>
<circle cx="565.41" cy="167.38" r="2.28"/>
<circle cx="578.28" cy="222.19" r="2.28"/>
<circle cx="541.06" cy="67.66" r="2.28"/>
<circle cx="543.85" cy="77.87" r="2.28"/>
<circle cx="551.98" cy="106.08" r="2.28"/>
<circle cx="572.21" cy="160.97" r="2.28"/>
<circle cx="568" cy="109.27" r="2.28"/>
<circle cx="560.76" cy="128.15" r="2.28"/>
<circle cx="573.18" cy="180.33" r="2.28"/>
<circle cx="558.1" cy="101.98" r="2.28"/>
<circle cx="560.63" cy="167.83" r="2.28"/>
<circle cx="586.47" cy="180.16" r="2.28"/>
<circle cx="549.63" cy="113.22" r="2.28"/>
<circle cx="564.61" cy="162.8" r="2.28"/>
<circle cx="592.46" cy="196.41" r="2.28"/>
<circle cx="563.04" cy="100.62" r="2.28"/>
<circle cx="574.82" cy="193.23" r="2.28"/>
<circle cx="549.23" cy="72.79" r="2.28"/>
<circle cx="599.17" cy="184.07" r="2.28"/>
<circle cx="538.96" cy="106.97" r="2.28"/>
<circle cx="540.52" cy="56.18" r="2.28"/>
<circle cx="592.61" cy="217.7" r="2.28"/>
<circle cx="567.92" cy="188.89" r="2.28"/>
<circle cx="555.94" cy="132.57" r="2.28"/>
<circle cx="536.08" cy="89.69" r="2.28"/>
<circle cx="568.15" cy="142.62" r="2.28"/>
<circle cx="563.28" cy="156.25" r="2.28"/>
<circle cx="547.55" cy="56.22" r="2.28"/>
<circle cx="532" cy="67.69" r="2.28"/>
<circle cx="539.57" cy="92.3" r="2.28"/>
<circle cx="565.21" cy="165.26" r="2.28"/>
<circle cx="567.11" cy="147.49" r="2.28"/>
<circle cx="562.48" cy="183.07" r="2.28"/>
<circle cx="558.1" cy="171.34" r="2.28"/>
<circle cx="526.6" cy="97.22" r="2.28"/>
<circle cx="562" cy="120.79" r="2.28"/>
<circle cx="540.94" cy="73.54" r="2.28"/>
<circle cx="561.87" cy="134.18" r="2.28"/>
<circle cx="570.11" cy="167.33" r="2.28"/>
<circle cx="547.89" cy="140.73" r="2.28"/>
<circle cx="541.12" cy="85.29" r="2.28"/>
<circle cx="580.41" cy="229.54" r="2.28"/>
<circle cx="567.91" cy="136.29" r="2.28"/>
<circle cx="548.65" cy="93.19" r="2.28"/>
<circle cx="560.1" cy="130.59" r="2.28"/>
<circle cx="573.31" cy="162.97" r="2.28"/>
<circle cx="582.9" cy="185.89" r="2.28"/>
<circle cx="547.85" cy="85.68" r="2.28"/>
<circle cx="548.53" cy="84.74" r="2.28"/>
<circle cx="552.43" cy="116.92" r="2.28"/>
<circle cx="577.38" cy="213.1" r="2.28"/>
<circle cx="538.17" cy="66.73" r="2.28"/>
<circle cx="558.85" cy="91.31" r="2.28"/>
<circle cx="543.02" cy="57.78" r="2.28"/>
<circle cx="566.29" cy="154.78" r="2.28"/>
<circle cx="530.77" cy="59.28" r="2.28"/>
<circle cx="568.38" cy="166.92" r="2.28"/>
<circle cx="551.38" cy="91.65" r="2.28"/>
<circle cx="556.69" cy="130.84" r="2.28"/>
<circle cx="571.3" cy="162.92" r="2.28"/>
<circle cx="583.34" cy="148.21" r="2.28"/>
<circle cx="527.99" cy="57.81" r="2.28"/>
<circle cx="580.61" cy="155.26" r="2.28"/>
<circle cx="571.93" cy="185.66" r="2.28"/>
<circle cx="555.31" cy="128.12" r="2.28"/>
<circle cx="588.41" cy="199.49" r="2.28"/>
<circle cx="564.73" cy="131.89" r="2.28"/>
<circle cx="586.25" cy="201.91" r="2.28"/>
<circle cx="549.51" cy="72.12" r="2.28"/>
<circle cx="544.17" cy="95.48" r="2.28"/>
<circle cx="584.91" cy="164.82" r="2.28"/>
<circle cx="603.22" cy="163.07" r="2.28"/>
<circle cx="573.4" cy="197.76" r="2.28"/>
<circle cx="578.42" cy="171.71" r="2.28"/>
<circle cx="551.82" cy="106.81" r="2.28"/>
<circle cx="535.24" cy="49.54" r="2.28"/>
<circle cx="556.65" cy="129.12" r="2.28"/>
<circle cx="590.28" cy="192.04" r="2.28"/>
<circle cx="524.81" cy="67.19" r="2.28"/>
<circle cx="551.4" cy="163.28" r="2.28"/>
<circle cx="523.75" cy="124.28" r="2.28"/>
<circle cx="563.16" cy="136.26" r="2.28"/>
<circle cx="578.09" cy="187.16" r="2.28"/>
<circle cx="536.84" cy="50.37" r="2.28"/>
<circle cx="553.08" cy="100.31" r="2.28"/>
<circle cx="586.88" cy="226.64" r="2.28"/>
<circle cx="559.33" cy="118.42" r="2.28"/>
<circle cx="536.91" cy="90.68" r="2.28"/>
<circle cx="535.41" cy="78.06" r="2.28"/>
<circle cx="521.8" cy="96.79" r="2.28"/>
<circle cx="576.12" cy="171.66" r="2.28"/>
<circle cx="546.52" cy="120.26" r="2.28"/>
<circle cx="581.52" cy="216.6" r="2.28"/>
<circle cx="577.95" cy="234.67" r="2.28"/>
<circle cx="548.2" cy="42.96" r="2.28"/>
<circle cx="550.77" cy="121.46" r="2.28"/>
<circle cx="576.22" cy="199.56" r="2.28"/>
<circle cx="563.97" cy="168.28" r="2.28"/>
<circle cx="566.27" cy="164.54" r="2.28"/>
<circle cx="528.97" cy="84.49" r="2.28"/>
<circle cx="578.54" cy="171.27" r="2.28"/>
<circle cx="544" cy="78.6" r="2.28"/>
<circle cx="549.04" cy="86.5" r="2.28"/>
<circle cx="569.28" cy="173.26" r="2.28"/>
<circle cx="601.91" cy="189.54" r="2.28"/>
<circle cx="553.79" cy="79.9" r="2.28"/>
<circle cx="535.15" cy="73.26" r="2.28"/>
<circle cx="602.42" cy="179.86" r="2.28"/>
<circle cx="564.18" cy="188.96" r="2.28"/>
<circle cx="555.97" cy="102.83" r="2.28"/>
<circle cx="540.09" cy="70.65" r="2.28"/>
<circle cx="541.49" cy="49.06" r="2.28"/>
<circle cx="589.86" cy="261.83" r="2.28"/>
<circle cx="555.78" cy="113.5" r="2.28"/>
<circle cx="550.58" cy="101.08" r="2.28"/>
<circle cx="551.12" cy="97.94" r="2.28"/>
<circle cx="591.6" cy="213.68" r="2.28"/>
<circle cx="549.57" cy="90.88" r="2.28"/>
<circle cx="573.29" cy="156.31" r="2.28"/>
<circle cx="566.24" cy="149.05" r="2.28"/>
<circle cx="565.72" cy="155" r="2.28"/>
<circle cx="543.96" cy="87.76" r="2.28"/>
<circle cx="573.88" cy="182.91" r="2.28"/>
<circle cx="592.39" cy="198.42" r="2.28"/>
<circle cx="560.04" cy="145.12" r="2.28"/>
<circle cx="543.14" cy="126.87" r="2.28"/>
<circle cx="535.9" cy="42.56" r="2.28"/>
<circle cx="564.77" cy="185.27" r="2.28"/>
<circle cx="555.76" cy="117.13" r="2.28"/>
<circle cx="559.02" cy="155.14" r="2.28"/>
<circle cx="561.28" cy="139.75" r="2.28"/>
<circle cx="532.31" cy="95.24" r="2.28"/>
<circle cx="576.28" cy="181.6" r="2.28"/>
<circle cx="565.62" cy="167.44" r="2.28"/>
<circle cx="559.6" cy="157.05" r="2.28"/>
<circle cx="565.57" cy="141.09" r="2.28"/>
<circle cx="579.1" cy="156.74" r="2.28"/>
<circle cx="562.09" cy="128.29" r="2.28"/>
<circle cx="544.49" cy="81.8" r="2.28"/>
<circle cx="583.77" cy="219.21" r="2.28"/>
<circle cx="552.61" cy="106.73" r="2.28"/>
<circle cx="546.92" cy="79.39" r="2.28"/>
<circle cx="530.62" cy="88.98" r="2.28"/>
<circle cx="561.21" cy="112.71" r="2.28"/>
<circle cx="540.64" cy="79.01" r="2.28"/>
<circle cx="550.94" cy="91.98" r="2.28"/>
<circle cx="569.81" cy="173.71" r="2.28"/>
<circle cx="561.7" cy="146.17" r="2.28"/>
<circle cx="580.85" cy="185.78" r="2.28"/>
<circle cx="567" cy="144.46" r="2.28"/>
<circle cx="553.19" cy="98.83" r="2.28"/>
<circle cx="554.63" cy="134.46" r="2.28"/>
<circle cx="551.17" cy="117.55" r="2.28"/>
<circle cx="573.65" cy="174.51" r="2.28"/>
<circle cx="561.47" cy="176.67" r="2.28"/>
<circle cx="553.05" cy="82.6" r="2.28"/>
<circle cx="577.51" cy="176.82" r="2.28"/>
<circle cx="562.93" cy="138.52" r="2.28"/>
<circle cx="551.98" cy="119.55" r="2.28"/>
<circle cx="531.59" cy="55.26" r="2.28"/>
<circle cx="569.58" cy="168.09" r="2.28"/>
<circle cx="565.7" cy="105.73" r="2.28"/>
<circle cx="562.05" cy="127.49" r="2.28"/>
<circle cx="552.6" cy="139.14" r="2.28"/>
<circle cx="544.82" cy="68.76" r="2.28"/>
<circle cx="556.64" cy="130" r="2.28"/>
<circle cx="565.56" cy="160.47" r="2.28"/>
<circle cx="558.56" cy="129.96" r="2.28"/>
<circle cx="558.23" cy="126.32" r="2.28"/>
<circle cx="551.93" cy="97.48" r="2.28"/>
<circle cx="567.66" cy="138.31" r="2.28"/>
<circle cx="565.61" cy="138.44" r="2.28"/>
<circle cx="546.4" cy="105.31" r="2.28"/>
<circle cx="575.87" cy="211.01" r="2.28"/>
<circle cx="576.47" cy="200.12" r="2.28"/>
<circle cx="576.9" cy="174.58" r="2.28"/>
<circle cx="558.51" cy="104.59" r="2.28"/>
<circle cx="557.27" cy="79.17" r="2.28"/>
<circle cx="538.47" cy="106.78" r="2.28"/>
<circle cx="575.76" cy="178.17" r="2.28"/>
<circle cx="519.44" cy="97.04" r="2.28"/>
<circle cx="553.44" cy="117.04" r="2.28"/>
<circle cx="554.43" cy="107.84" r="2.28"/>
<circle cx="577.73" cy="190.46" r="2.28"/>
<circle cx="561.04" cy="139.22" r="2.28"/>
<circle cx="542.26" cy="95.67" r="2.28"/>
<circle cx="533.26" cy="64.82" r="2.28"/>
<circle cx="546.85" cy="65.88" r="2.28"/>
<circle cx="563.13" cy="103.16" r="2.28"/>
<circle cx="562.13" cy="148.91" r="2.28"/>
<circle cx="557.2" cy="144.07" r="2.28"/>
<circle cx="547.72" cy="98" r="2.28"/>
<circle cx="556.96" cy="138.27" r="2.28"/>
<circle cx="580.49" cy="167.1" r="2.28"/>
<circle cx="539.62" cy="96" r="2.28"/>
<circle cx="561.71" cy="133.78" r="2.28"/>
<circle cx="592.59" cy="230.85" r="2.28"/>
<circle cx="571.85" cy="177.13" r="2.28"/>
<circle cx="552.17" cy="99.72" r="2.28"/>
<circle cx="573.93" cy="140.3" r="2.28"/>
<circle cx="546.4" cy="104.73" r="2.28"/>
<circle cx="561.19" cy="125.26" r="2.28"/>
<circle cx="591.33" cy="247.88" r="2.28"/>
<circle cx="597.96" cy="223.31" r="2.28"/>
<circle cx="527.77" cy="95.6" r="2.28"/>
<circle cx="574.69" cy="188.65" r="2.28"/>
<circle cx="599.02" cy="184.48" r="2.28"/>
<circle cx="550.43" cy="84.73" r="2.28"/>
<circle cx="566.1" cy="187.34" r="2.28"/>
<circle cx="590.42" cy="188.47" r="2.28"/>
<circle cx="551.46" cy="127.49" r="2.28"/>
<circle cx="569.86" cy="121.23" r="2.28"/>
<circle cx="559.9" cy="122.15" r="2.28"/>
<circle cx="523.54" cy="79.74" r="2.28"/>
<circle cx="567.8" cy="160.43" r="2.28"/>
<circle cx="557.47" cy="121.78" r="2.28"/>
<circle cx="579.14" cy="187.93" r="2.28"/>
<circle cx="601.84" cy="205.21" r="2.28"/>
<circle cx="574.38" cy="159.47" r="2.28"/>
<circle cx="553.9" cy="103.29" r="2.28"/>
<circle cx="569.82" cy="145.91" r="2.28"/>
<circle cx="564.99" cy="148.31" r="2.28"/>
<circle cx="580.98" cy="176.07" r="2.28"/>
<circle cx="533.02" cy="91.24" r="2.28"/>
<circle cx="538.33" cy="-5.13" r="2.28"/>
<circle cx="521.21" cy="104.1" r="2.28"/>
<circle cx="572.88" cy="182.45" r="2.28"/>
<circle cx="560.68" cy="110.09" r="2.28"/>
<circle cx="548.58" cy="66.17" r="2.28"/>
<circle cx="546.92" cy="108.38" r="2.28"/>
<circle cx="549.91" cy="135.67" r="2.28"/>
<circle cx="542.98" cy="114.11" r="2.28"/>
<circle cx="554.79" cy="134.92" r="2.28"/>
<circle cx="551.43" cy="119.91" r="2.28"/>
<circle cx="588.13" cy="203.68" r="2.28"/>
<circle cx="567.35" cy="131.48" r="2.28"/>
<circle cx="545.11" cy="61.65" r="2.28"/>
<circle cx="549.68" cy="111.1" r="2.28"/>
<circle cx="584.41" cy="184.44" r="2.28"/>
<circle cx="569.87" cy="143.06" r="2.28"/>
<circle cx="566.8" cy="121.13" r="2.28"/>
<circle cx="575.09" cy="182.09" r="2.28"/>
<circle cx="591.95" cy="217.49" r="2.28"/>
<circle cx="537.34" cy="58.28" r="2.28"/>
<circle cx="546.53" cy="54.84" r="2.28"/>
<circle cx="527.14" cy="89.84" r="2.28"/>
<circle cx="570.7" cy="121.37" r="2.28"/>
<circle cx="553.67" cy="69.62" r="2.28"/>
<circle cx="547.96" cy="98.78" r="2.28"/>
<circle cx="546.2" cy="124.42" r="2.28"/>
<circle cx="574.52" cy="190.57" r="2.28"/>
<circle cx="558.29" cy="131.9" r="2.28"/>
<circle cx="550.72" cy="87.95" r="2.28"/>
<circle cx="585.51" cy="236.08" r="2.28"/>
<circle cx="540.67" cy="23.38" r="2.28"/>
<circle cx="536.42" cy="21.46" r="2.28"/>
<circle cx="553.89" cy="126" r="2.28"/>
<circle cx="550.47" cy="141.83" r="2.28"/>
<circle cx="546.88" cy="94.09" r="2.28"/>
<circle cx="558.39" cy="114.57" r="2.28"/>
<circle cx="576.3" cy="150.93" r="2.28"/>
<circle cx="575.73" cy="163.96" r="2.28"/>
<circle cx="571.65" cy="173.38" r="2.28"/>
<circle cx="555.63" cy="159.95" r="2.28"/>
<circle cx="532.02" cy="62.67" r="2.28"/>
<circle cx="566.57" cy="133.22" r="2.28"/>
<circle cx="590.64" cy="207.82" r="2.28"/>
<circle cx="581.89" cy="187" r="2.28"/>
<circle cx="557.78" cy="117.59" r="2.28"/>
<circle cx="576.69" cy="188.17" r="2.28"/>
<circle cx="553.54" cy="134.86" r="2.28"/>
<circle cx="559.98" cy="121.96" r="2.28"/>
<circle cx="537.01" cy="107.59" r="2.28"/>
<circle cx="554.91" cy="80.85" r="2.28"/>
<circle cx="563.79" cy="163.47" r="2.28"/>
<circle cx="557.76" cy="110.98" r="2.28"/>
<circle cx="576.05" cy="197.74" r="2.28"/>
<circle cx="597.75" cy="187.68" r="2.28"/>
<circle cx="586.8" cy="204.07" r="2.28"/>
<circle cx="555.11" cy="101.35" r="2.28"/>
<circle cx="546.81" cy="108.2" r="2.28"/>
<circle cx="548.34" cy="131.04" r="2.28"/>
<circle cx="542" cy="87.27" r="2.28"/>
<circle cx="561.72" cy="143.84" r="2.28"/>
<circle cx="569.26" cy="195.7" r="2.28"/>
<circle cx="564.62" cy="161.63" r="2.28"/>
<circle cx="564.83" cy="184.76" r="2.28"/>
<circle cx="564.14" cy="141.62" r="2.28"/>
<circle cx="558.48" cy="133.23" r="2.28"/>
<circle cx="546.59" cy="89.38" r="2.28"/>
<circle cx="594.65" cy="140.15" r="2.28"/>
<circle cx="581.46" cy="189.05" r="2.28"/>
<circle cx="543.36" cy="74.62" r="2.28"/>
<circle cx="543.42" cy="68.95" r="2.28"/>
<circle cx="549.63" cy="100.44" r="2.28"/>
<circle cx="561.7" cy="149.26" r="2.28"/>
<circle cx="585.58" cy="178.22" r="2.28"/>
<circle cx="580.83" cy="168.07" r="2.28"/>
<circle cx="581.86" cy="259.82" r="2.28"/>
<circle cx="582.25" cy="197.65" r="2.28"/>
<circle cx="582.61" cy="202.27" r="2.28"/>
<circle cx="575.41" cy="192.37" r="2.28"/>
<circle cx="569.91" cy="135.22" r="2.28"/>
<circle cx="558.73" cy="137.8" r="2.28"/>
<circle cx="527.08" cy="58.49" r="2.28"/>
<circle cx="558.54" cy="137.32" r="2.28"/>
<circle cx="596.16" cy="207.55" r="2.28"/>
<circle cx="550.53" cy="83.18" r="2.28"/>
<circle cx="548.86" cy="112.13" r="2.28"/>
<circle cx="580.88" cy="195.38" r="2.28"/>
<circle cx="562.62" cy="164.23" r="2.28"/>
<circle cx="551.7" cy="123.31" r="2.28"/>
<circle cx="591.4" cy="184.44" r="2.28"/>
<circle cx="573.21" cy="160.24" r="2.28"/>
<circle cx="575.81" cy="206.69" r="2.28"/>
<circle cx="550.05" cy="125.48" r="2.28"/>
<circle cx="570.74" cy="108.14" r="2.28"/>
<circle cx="568.39" cy="173.36" r="2.28"/>
<circle cx="576.19" cy="201.45" r="2.28"/>
<circle cx="583.44" cy="184.14" r="2.28"/>
<circle cx="582.99" cy="212.86" r="2.28"/>
<circle cx="564.38" cy="153.5" r="2.28"/>
<circle cx="574.49" cy="156.79" r="2.28"/>
<circle cx="538.75" cy="54.11" r="2.28"/>
<circle cx="573.59" cy="179.18" r="2.28"/>
<circle cx="574.39" cy="146.3" r="2.28"/>
<circle cx="553.48" cy="111.79" r="2.28"/>
<circle cx="545.98" cy="93.94" r="2.28"/>
<circle cx="559.91" cy="129.86" r="2.28"/>
<circle cx="537.41" cy="82.74" r="2.28"/>
<circle cx="567.7" cy="144.44" r="2.28"/>
<circle cx="566.8" cy="147.01" r="2.28"/>
<circle cx="542.57" cy="99.59" r="2.28"/>
<circle cx="561.98" cy="132.79" r="2.28"/>
<circle cx="581.86" cy="205.79" r="2.28"/>
<circle cx="581.76" cy="206.44" r="2.28"/>
<circle cx="580.74" cy="194.68" r="2.28"/>
<circle cx="558.12" cy="100.41" r="2.28"/>
<circle cx="554.47" cy="105.31" r="2.28"/>
<circle cx="553.44" cy="79.49" r="2.28"/>
<circle cx="572.6" cy="136.24" r="2.28"/>
<circle cx="588.43" cy="201.21" r="2.28"/>
<circle cx="591.95" cy="214.67" r="2.28"/>
<circle cx="587.35" cy="217.77" r="2.28"/>
<circle cx="529.63" cy="69.43" r="2.28"/>
<circle cx="557.14" cy="100.59" r="2.28"/>
<circle cx="552.63" cy="69.83" r="2.28"/>
<circle cx="585.4" cy="227.97" r="2.28"/>
<circle cx="593.95" cy="179.01" r="2.28"/>
<circle cx="548.12" cy="69.04" r="2.28"/>
<circle cx="561.81" cy="80.71" r="2.28"/>
<circle cx="571.91" cy="165.47" r="2.28"/>
<circle cx="551.54" cy="103.36" r="2.28"/>
<circle cx="548.81" cy="129.77" r="2.28"/>
<circle cx="547.86" cy="110.47" r="2.28"/>
<circle cx="389.3" cy="144.7" r="2.28"/>
<circle cx="400.5" cy="66.5" r="2.28"/>
<circle cx="402.1" cy="122.4" r="2.28"/>
<circle cx="488.6" cy="221.82" r="2.28"/>
<circle cx="493.7" cy="176.1" r="2.28"/>
<circle cx="495.2" cy="160.8" r="2.28"/>
<circle cx="496.8" cy="147.33" r="2.28"/>
<circle cx="498.4" cy="161.73" r="2.28"/>
<circle cx="500.9" cy="127.14" r="2.28"/>
<circle cx="502" cy="123.16" r="2.28"/>
<circle cx="504.6" cy="173.06" r="2.28"/>
<circle cx="504.9" cy="143.63" r="2.28"/>
<circle cx="507.3" cy="157.56" r="2.28"/>
<circle cx="512.3" cy="134.71" r="2.28"/>
<circle cx="514.3" cy="101.97" r="2.28"/>
<circle cx="605.4" cy="182" r="2.28"/>
<circle cx="607.5" cy="172" r="2.28"/>
<circle cx="610.5" cy="165.7" r="2.28"/>
<circle cx="613.5" cy="149.8" r="2.28"/>
<circle cx="621.6" cy="150.2" r="2.28"/>
</g>
<path d="M479.57 264v-8M438.79 264v-8M448.22 264v-8M455.31 264v-8M432.68 264v-8M447.64 264v-8M447.58 264v-8M414.42 264v-8M466.84 264v-8M458.95 264v-8M435.77 264v-8M444.36 264v-8M457.15 264v-8M442.66 264v-8M443.01 264v-8M420.12 264v-8M458.09 264v-8M449.94 264v-8M452.79 264v-8M418.73 264v-8M478.81 264v-8M450.52 264v-8M440.28 264v-8M485.97 264v-8M446.74 264v-8M420.17 264v-8M439.94 264v-8M467.44 264v-8M439.72 264v-8M433.56 264v-8M467.88 264v-8M416.38 264v-8M457.72 264v-8M408.56 264v-8M435.08 264v-8M424.83 264v-8M475.24 264v-8M481 264v-8M441.37 264v-8M463.5 264v-8M444.2 264v-8M458.34 264v-8M433.36 264v-8M415.3 264v-8M413.51 264v-8M454.84 264v-8M452.69 264v-8M437.68 264v-8M483.75 264v-8M452.09 264v-8M449.52 264v-8M452.38 264v-8M445.1 264v-8M441.75 264v-8M420.47 264v-8M457.09 264v-8M445.81 264v-8M470.16 264v-8M440.63 264v-8M411.55 264v-8M445.72 264v-8M479.74 264v-8M440.35 264v-8M430.77 264v-8M425.03 264v-8M427.75 264v-8M441.92 264v-8M425.29 264v-8M475.92 264v-8M442.26 264v-8M449.65 264v-8M474.8 264v-8M476.03 264v-8M443.58 264v-8M453.88 264v-8M461.5 264v-8M443.95 264v-8M413.98 264v-8M459.98 264v-8M464.51 264v-8M455.46 264v-8M430.14 264v-8M443.89 264v-8M436.43 264v-8M441.93 264v-8M472.12 264v-8M476.52 264v-8M460.26 264v-8M457.98 264v-8M460.39 264v-8M447.37 264v-8M446.17 264v-8M434.86 264v-8M446.54 264v-8M464.03 264v-8M441.13 264v-8M438.68 264v-8M431.25 264v-8M454.68 264v-8M455 264v-8M420.31 264v-8M456.8 264v-8M436.83 264v-8M474.58 264v-8M450.57 264v-8M480.08 264v-8M438.94 264v-8M442.15 264v-8M453.27 264v-8M467.57 264v-8M458.3 264v-8M424.28 264v-8M451.06 264v-8M448.02 264v-8M439.49 264v-8M435.34 264v-8M480.64 264v-8M440.22 264v-8M431.6 264v-8M459.65 264v-8M450.07 264v-8M446.17 264v-8M462.37 264v-8M456.84 264v-8M454.45 264v-8M465.83 264v-8M452.96 264v-8M435.93 264v-8M440.75 264v-8M437.75 264v-8M451.57 264v-8M427.22 264v-8M412.95 264v-8M449.27 264v-8M422.33 264v-8M410.69 264v-8M454.66 264v-8M434.15 264v-8M456.98 264v-8M437.56 264v-8M426.38 264v-8M424.09 264v-8M437.86 264v-8M442.43 264v-8M432.03 264v-8M442.28 264v-8M418.55 264v-8M447.87 264v-8M413.68 264v-8M443.93 264v-8M460.79 264v-8M468.25 264v-8M480.02 264v-8M418.17 264v-8M461.95 264v-8M470.41 264v-8M466.14 264v-8M430.03 264v-8M455.39 264v-8M482.77 264v-8M419.29 264v-8M456.61 264v-8M468.63 264v-8M434.43 264v-8M458.62 264v-8M427.35 264v-8M432.24 264v-8M432.15 264v-8M451.24 264v-8M445.88 264v-8M465.64 264v-8M429.82 264v-8M445.12 264v-8M465.77 264v-8M458.2 264v-8M422.55 264v-8M460.18 264v-8M438.55 264v-8M454.89 264v-8M453.29 264v-8M470.66 264v-8M449.8 264v-8M412.55 264v-8M421.7 264v-8M461.43 264v-8M442.72 264v-8M469.12 264v-8M452.77 264v-8M433.44 264v-8M468.07 264v-8M432.33 264v-8M408.79 264v-8M486.62 264v-8M411.47 264v-8M459.63 264v-8M465.35 264v-8M450.38 264v-8M415.77 264v-8M466.79 264v-8M420.34 264v-8M422.19 264v-8M440.76 264v-8M462.51 264v-8M453.27 264v-8M462.93 264v-8M439.21 264v-8M444.34 264v-8M426.1 264v-8M441.61 264v-8M458.82 264v-8M441.93 264v-8M456.59 264v-8M436.76 264v-8M436.4 264v-8M448.34 264v-8M443.91 264v-8M458.8 264v-8M450.97 264v-8M480.51 264v-8M443.45 264v-8M443.3 264v-8M427.93 264v-8M448.03 264v-8M460.51 264v-8M433.6 264v-8M446.66 264v-8M461.19 264v-8M445.2 264v-8M437.78 264v-8M466 264v-8M449.43 264v-8M455.1 264v-8M469.75 264v-8M469.26 264v-8M441.03 264v-8M437.66 264v-8M452.98 264v-8M445.09 264v-8M411.68 264v-8M471.72 264v-8M447.97 264v-8M461.52 264v-8M425.42 264v-8M471.96 264v-8M436.48 264v-8M445.56 264v-8M421.1 264v-8M444.44 264v-8M443.25 264v-8M444.1 264v-8M455.89 264v-8M448.74 264v-8M466.05 264v-8M438.75 264v-8M428.77 264v-8M447.24 264v-8M459.48 264v-8M471.13 264v-8M462.99 264v-8M414.22 264v-8M454.73 264v-8M475.21 264v-8M448.78 264v-8M437.84 264v-8M453.45 264v-8M438.08 264v-8M459.68 264v-8M447.35 264v-8M473.94 264v-8M457.05 264v-8M433.91 264v-8M459.03 264v-8M465.3 264v-8M436.85 264v-8M439.55 264v-8M464.68 264v-8M436.49 264v-8M414.15 264v-8M443.38 264v-8M461.98 264v-8M445.92 264v-8M456.52 264v-8M426.77 264v-8M422.24 264v-8M464.35 264v-8M456.91 264v-8M447.02 264v-8M471.84 264v-8M429.61 264v-8M439.65 264v-8M467.01 264v-8M482.35 264v-8M447.76 264v-8M479.36 264v-8M436.21 264v-8M453.84 264v-8M444.31 264v-8M417.57 264v-8M452.48 264v-8M465.24 264v-8M444.8 264v-8M446.27 264v-8M473.94 264v-8M423.97 264v-8M419.28 264v-8M435.23 264v-8M424.97 264v-8M473.06 264v-8M453.46 264v-8M431.26 264v-8M435.98 264v-8M436.06 264v-8M433.19 264v-8M453.35 264v-8M459.67 264v-8M451.79 264v-8M430.42 264v-8M425.68 264v-8M458.87 264v-8M446.58 264v-8M416.56 264v-8M469.74 264v-8M462.26 264v-8M443.04 264v-8M442.68 264v-8M451.98 264v-8M434.61 264v-8M422.1 264v-8M453.7 264v-8M420.39 264v-8M454.99 264v-8M420.35 264v-8M445.72 264v-8M445.04 264v-8M481.31 264v-8M427.47 264v-8M420.84 264v-8M435.38 264v-8M426.35 264v-8M436.45 264v-8M455.56 264v-8M462.2 264v-8M478.98 264v-8M433.67 264v-8M485.08 264v-8M443.75 264v-8M446.03 264v-8M448.97 264v-8M449 264v-8M443.82 264v-8M432.74 264v-8M459.45 264v-8M466.61 264v-8M438.41 264v-8M451.94 264v-8M435.22 264v-8M432.73 264v-8M449.1 264v-8M457.5 264v-8M436.95 264v-8M458.68 264v-8M417.41 264v-8M449.91 264v-8M481.24 264v-8M447.28 264v-8M425.1 264v-8M419.97 264v-8M469.73 264v-8M447.28 264v-8M457.81 264v-8M465.12 264v-8M446.67 264v-8M441.76 264v-8M429.69 264v-8M418.9 264v-8M446.28 264v-8M444.29 264v-8M455.23 264v-8M445.2 264v-8M450.61 264v-8M462.5 264v-8M430.86 264v-8M442.17 264v-8M417.21 264v-8M466 264v-8M448.33 264v-8M456.86 264v-8M476.77 264v-8M468.01 264v-8M446.47 264v-8M462.49 264v-8M420.53 264v-8M455.8 264v-8M450.23 264v-8M417 264v-8M472.89 264v-8M434.29 264v-8M460.52 264v-8M439.66 264v-8M466.39 264v-8M472.41 264v-8M431.9 264v-8M418.66 264v-8M445.12 264v-8M463.65 264v-8M440.58 264v-8M436 264v-8M456.83 264v-8M435.03 264v-8M421.43 264v-8M453.17 264v-8M433.68 264v-8M426.51 264v-8M440.91 264v-8M419.83 264v-8M447.35 264v-8M434.7 264v-8M440.46 264v-8M434.04 264v-8M464.85 264v-8M445.54 264v-8M457.52 264v-8M456.67 264v-8M432.36 264v-8M458.38 264v-8M454.2 264v-8M453.53 264v-8M440.06 264v-8M439.53 264v-8M462.45 264v-8M431.9 264v-8M457.71 264v-8M440.67 264v-8M462.44 264v-8M455.89 264v-8M467.65 264v-8M436.23 264v-8M428.91 264v-8M445.56 264v-8M433.91 264v-8M435.48 264v-8M460.49 264v-8M483.56 264v-8M441.73 264v-8M453.5 264v-8M447.69 264v-8M441.07 264v-8M422.01 264v-8M429.78 264v-8M461.31 264v-8M467.94 264v-8M449.43 264v-8M431.79 264v-8M449.41 264v-8M443.06 264v-8M457.92 264v-8M449.84 264v-8M435.84 264v-8M451.21 264v-8M425.3 264v-8M463.11 264v-8M469.96 264v-8M425.32 264v-8M455.56 264v-8M428.86 264v-8M467.86 264v-8M464.7 264v-8M443.25 264v-8M466.41 264v-8M439.45 264v-8M435.44 264v-8M436.85 264v-8M444.94 264v-8M441.48 264v-8M450.52 264v-8M435.97 264v-8M462.06 264v-8M466.91 264v-8M438.22 264v-8M420.61 264v-8M461.29 264v-8M469.13 264v-8M444.51 264v-8M423.27 264v-8M452.64 264v-8M590.76 264v-8M524.5 264v-8M570.36 264v-8M554.94 264v-8M544.38 264v-8M570.76 264v-8M535.75 264v-8M566.84 264v-8M586.64 264v-8M564.5 264v-8M543.98 264v-8M526.39 264v-8M536.08 264v-8M525.18 264v-8M592.22 264v-8M556.19 264v-8M540.69 264v-8M535.76 264v-8M540.26 264v-8M554.51 264v-8M536.07 264v-8M593.71 264v-8M546.49 264v-8M545.81 264v-8M567.05 264v-8M589.31 264v-8M586.85 264v-8M551.55 264v-8M566.03 264v-8M563.96 264v-8M571.38 264v-8M566.04 264v-8M542.67 264v-8M536.5 264v-8M564.48 264v-8M538 264v-8M587.61 264v-8M561.83 264v-8M541.06 264v-8M554.79 264v-8M551.17 264v-8M558.5 264v-8M579.48 264v-8M532.91 264v-8M524.67 264v-8M567.64 264v-8M557.6 264v-8M564.23 264v-8M569.71 264v-8M557.53 264v-8M576.63 264v-8M543.66 264v-8M562.31 264v-8M544.87 264v-8M539.04 264v-8M573.04 264v-8M572.14 264v-8M523.22 264v-8M539.2 264v-8M566.74 264v-8M581.9 264v-8M548.08 264v-8M557.47 264v-8M533.52 264v-8M570.31 264v-8M578.48 264v-8M573.87 264v-8M579.24 264v-8M572.9 264v-8M554.52 264v-8M575.55 264v-8M562.6 264v-8M586.31 264v-8M546.72 264v-8M550.51 264v-8M573.93 264v-8M585.98 264v-8M563.88 264v-8M547.17 264v-8M558.74 264v-8M551.35 264v-8M598.01 264v-8M578.56 264v-8M585.69 264v-8M566.93 264v-8M550.24 264v-8M583.91 264v-8M593.28 264v-8M572.39 264v-8M560.58 264v-8M582.11 264v-8M553.82 264v-8M575.95 264v-8M547.19 264v-8M542.15 264v-8M572.09 264v-8M567.64 264v-8M598.15 264v-8M555.6 264v-8M561.51 264v-8M538.85 264v-8M524.64 264v-8M526.36 264v-8M570.08 264v-8M538.13 264v-8M583.01 264v-8M588.76 264v-8M555.49 264v-8M593.36 264v-8M565.48 264v-8M582.97 264v-8M556.66 264v-8M579.74 264v-8M542.68 264v-8M573.19 264v-8M552.11 264v-8M558.51 264v-8M573.36 264v-8M564.42 264v-8M559.61 264v-8M575.23 264v-8M576.7 264v-8M534.07 264v-8M571.94 264v-8M574.13 264v-8M546.41 264v-8M568.57 264v-8M535.26 264v-8M589.09 264v-8M556.42 264v-8M559.52 264v-8M584.38 264v-8M558.27 264v-8M572.72 264v-8M540.65 264v-8M549.95 264v-8M533.93 264v-8M557 264v-8M581.14 264v-8M565.41 264v-8M578.28 264v-8M541.06 264v-8M543.85 264v-8M551.98 264v-8M572.21 264v-8M568 264v-8M560.76 264v-8M573.18 264v-8M558.1 264v-8M560.63 264v-8M586.47 264v-8M549.63 264v-8M564.61 264v-8M592.46 264v-8M563.04 264v-8M574.82 264v-8M549.23 264v-8M599.17 264v-8M538.96 264v-8M540.52 264v-8M592.61 264v-8M567.92 264v-8M555.94 264v-8M536.08 264v-8M568.15 264v-8M563.28 264v-8M547.55 264v-8M532 264v-8M539.57 264v-8M565.21 264v-8M567.11 264v-8M562.48 264v-8M558.1 264v-8M526.6 264v-8M562 264v-8M540.94 264v-8M561.87 264v-8M570.11 264v-8M547.89 264v-8M541.12 264v-8M580.41 264v-8M567.91 264v-8M548.65 264v-8M560.1 264v-8M573.31 264v-8M582.9 264v-8M547.85 264v-8M548.53 264v-8M552.43 264v-8M577.38 264v-8M538.17 264v-8M558.85 264v-8M543.02 264v-8M566.29 264v-8M530.77 264v-8M568.38 264v-8M551.38 264v-8M556.69 264v-8M571.3 264v-8M583.34 264v-8M527.99 264v-8M580.61 264v-8M571.93 264v-8M555.31 264v-8M588.41 264v-8M564.73 264v-8M586.25 264v-8M549.51 264v-8M544.17 264v-8M584.91 264v-8M603.22 264v-8M573.4 264v-8M578.42 264v-8M551.82 264v-8M535.24 264v-8M556.65 264v-8M590.28 264v-8M524.81 264v-8M551.4 264v-8M523.75 264v-8M563.16 264v-8M578.09 264v-8M536.84 264v-8M553.08 264v-8M586.88 264v-8M559.33 264v-8M536.91 264v-8M535.41 264v-8M521.8 264v-8M576.12 264v-8M546.52 264v-8M581.52 264v-8M577.95 264v-8M548.2 264v-8M550.77 264v-8M576.22 264v-8M563.97 264v-8M566.27 264v-8M528.97 264v-8M578.54 264v-8M544 264v-8M549.04 264v-8M569.28 264v-8M601.91 264v-8M553.79 264v-8M535.15 264v-8M602.42 264v-8M564.18 264v-8M555.97 264v-8M540.09 264v-8M541.49 264v-8M589.86 264v-8M555.78 264v-8M550.58 264v-8M551.12 264v-8M591.6 264v-8M549.57 264v-8M573.29 264v-8M566.24 264v-8M565.72 264v-8M543.96 264v-8M573.88 264v-8M592.39 264v-8M560.04 264v-8M543.14 264v-8M535.9 264v-8M564.77 264v-8M555.76 264v-8M559.02 264v-8M561.28 264v-8M532.31 264v-8M576.28 264v-8M565.62 264v-8M559.6 264v-8M565.57 264v-8M579.1 264v-8M562.09 264v-8M544.49 264v-8M583.77 264v-8M552.61 264v-8M546.92 264v-8M530.62 264v-8M561.21 264v-8M540.64 264v-8M550.94 264v-8M569.81 264v-8M561.7 264v-8M580.85 264v-8M567 264v-8M553.19 264v-8M554.63 264v-8M551.17 264v-8M573.65 264v-8M561.47 264v-8M553.05 264v-8M577.51 264v-8M562.93 264v-8M551.98 264v-8M531.59 264v-8M569.58 264v-8M565.7 264v-8M562.05 264v-8M552.6 264v-8M544.82 264v-8M556.64 264v-8M565.56 264v-8M558.56 264v-8M558.23 264v-8M551.93 264v-8M567.66 264v-8M565.61 264v-8M546.4 264v-8M575.87 264v-8M576.47 264v-8M576.9 264v-8M558.51 264v-8M557.27 264v-8M538.47 264v-8M575.76 264v-8M519.44 264v-8M553.44 264v-8M554.43 264v-8M577.73 264v-8M561.04 264v-8M542.26 264v-8M533.26 264v-8M546.85 264v-8M563.13 264v-8M562.13 264v-8M557.2 264v-8M547.72 264v-8M556.96 264v-8M580.49 264v-8M539.62 264v-8M561.71 264v-8M592.59 264v-8M571.85 264v-8M552.17 264v-8M573.93 264v-8M546.4 264v-8M561.19 264v-8M591.33 264v-8M597.96 264v-8M527.77 264v-8M574.69 264v-8M599.02 264v-8M550.43 264v-8M566.1 264v-8M590.42 264v-8M551.46 264v-8M569.86 264v-8M559.9 264v-8M523.54 264v-8M567.8 264v-8M557.47 264v-8M579.14 264v-8M601.84 264v-8M574.38 264v-8M553.9 264v-8M569.82 264v-8M564.99 264v-8M580.98 264v-8M533.02 264v-8M538.33 264v-8M521.21 264v-8M572.88 264v-8M560.68 264v-8M548.58 264v-8M546.92 264v-8M549.91 264v-8M542.98 264v-8M554.79 264v-8M551.43 264v-8M588.13 264v-8M567.35 264v-8M545.11 264v-8M549.68 264v-8M584.41 264v-8M569.87 264v-8M566.8 264v-8M575.09 264v-8M591.95 264v-8M537.34 264v-8M546.53 264v-8M527.14 264v-8M570.7 264v-8M553.67 264v-8M547.96 264v-8M546.2 264v-8M574.52 264v-8M558.29 264v-8M550.72 264v-8M585.51 264v-8M540.67 264v-8M536.42 264v-8M553.89 264v-8M550.47 264v-8M546.88 264v-8M558.39 264v-8M576.3 264v-8M575.73 264v-8M571.65 264v-8M555.63 264v-8M532.02 264v-8M566.57 264v-8M590.64 264v-8M581.89 264v-8M557.78 264v-8M576.69 264v-8M553.54 264v-8M559.98 264v-8M537.01 264v-8M554.91 264v-8M563.79 264v-8M557.76 264v-8M576.05 264v-8M597.75 264v-8M586.8 264v-8M555.11 264v-8M546.81 264v-8M548.34 264v-8M542 264v-8M561.72 264v-8M569.26 264v-8M564.62 264v-8M564.83 264v-8M564.14 264v-8M558.48 264v-8M546.59 264v-8M594.65 264v-8M581.46 264v-8M543.36 264v-8M543.42 264v-8M549.63 264v-8M561.7 264v-8M585.58 264v-8M580.83 264v-8M581.86 264v-8M582.25 264v-8M582.61 264v-8M575.41 264v-8M569.91 264v-8M558.73 264v-8M527.08 264v-8M558.54 264v-8M596.16 264v-8M550.53 264v-8M548.86 264v-8M580.88 264v-8M562.62 264v-8M551.7 264v-8M591.4 264v-8M573.21 264v-8M575.81 264v-8M550.05 264v-8M570.74 264v-8M568.39 264v-8M576.19 264v-8M583.44 264v-8M582.99 264v-8M564.38 264v-8M574.49 264v-8M538.75 264v-8M573.59 264v-8M574.39 264v-8M553.48 264v-8M545.98 264v-8M559.91 264v-8M537.41 264v-8M567.7 264v-8M566.8 264v-8M542.57 264v-8M561.98 264v-8M581.86 264v-8M581.76 264v-8M580.74 264v-8M558.12 264v-8M554.47 264v-8M553.44 264v-8M572.6 264v-8M588.43 264v-8M591.95 264v-8M587.35 264v-8M529.63 264v-8M557.14 264v-8M552.63 264v-8M585.4 264v-8M593.95 264v-8M548.12 264v-8M561.81 264v-8M571.91 264v-8M551.54 264v-8M548.81 264v-8M547.86 264v-8M389.3 264v-8M400.5 264v-8M402.1 264v-8M488.6 264v-8M493.7 264v-8M495.2 264v-8M496.8 264v-8M498.4 264v-8M500.9 264v-8M502 264v-8M504.6 264v-8M504.9 264v-8M507.3 264v-8M512.3 264v-8M514.3 264v-8M605.4 264v-8M607.5 264v-8M610.5 264v-8M613.5 264v-8M621.6 264v-8" stroke="#000" stroke-width="0.75" fill="none"/>
<path d="M389.3 117.4 L389.7 117.41 L390.1 117.42 L390.5 117.44 L390.9 117.45 L391.3 117.46 L391.7 117.48 L392.1 117.49 L392.5 117.51 L392.9 117.52 L393.3 117.54 L393.7 117.55 L394.1 117.57 L394.5 117.58 L394.9 117.6 L395.3 117.62 L395.7 117.64 L396.1 117.65 L396.5 117.67 L396.9 117.69 L397.3 117.71 L397.7 117.73 L398.1 117.75 L398.5 117.77 L398.9 117.79 L399.3 117.81 L399.7 117.83 L400.1 117.86 L400.5 117.88 L400.9 117.9 L401.3 117.92 L401.7 117.95 L402.1 117.97 L402.5 117.99 L402.9 118.02 L403.3 118.04 L403.7 118.06 L404.1 118.09 L404.5 118.11 L404.9 118.14 L405.3 118.17 L405.7 118.19 L406.1 118.22 L406.5 118.24 L406.9 118.27 L407.3 118.3 L407.7 118.32 L408.1 118.35 L408.5 118.38 L408.9 118.41 L409.3 118.44 L409.7 118.46 L410.1 118.49 L410.5 118.52 L410.9 118.55 L411.3 118.58 L411.7 118.61 L412.1 118.64 L412.5 118.67 L412.9 118.7 L413.3 118.73 L413.7 118.76 L414.1 118.79 L414.5 118.82 L414.9 118.85 L415.3 118.88 L415.7 118.91 L416.1 118.95 L416.5 118.98 L416.9 119.01 L417.3 119.04 L417.7 119.07 L418.1 119.11 L418.5 119.14 L418.9 119.17 L419.3 119.21 L419.7 119.24 L420.1 119.27 L420.5 119.3 L420.9 119.34 L421.3 119.37 L421.7 119.4 L422.1 119.44 L422.5 119.47 L422.9 119.51 L423.3 119.54 L423.7 119.57 L424.1 119.61 L424.5 119.64 L424.9 119.68 L425.3 119.72 L425.7 119.75 L426.1 119.79 L426.5 119.83 L426.9 119.87 L427.3 119.91 L427.7 119.95 L428.1 119.99 L428.5 120.03 L428.9 120.07 L429.3 120.11 L429.7 120.16 L430.1 120.2 L430.5 120.25 L430.9 120.29 L431.3 120.34 L431.7 120.38 L432.1 120.43 L432.5 120.48 L432.9 120.52 L433.3 120.57 L433.7 120.62 L434.1 120.67 L434.5 120.72 L434.9 120.77 L435.3 120.82 L435.7 120.87 L436.1 120.92 L436.5 120.97 L436.9 121.03 L437.3 121.08 L437.7 121.13 L438.1 121.19 L438.5 121.24 L438.9 121.29 L439.3 121.35 L439.7 121.4 L440.1 121.46 L440.5 121.51 L440.9 121.57 L441.3 121.62 L441.7 121.68 L442.1 121.73 L442.5 121.79 L442.9 121.85 L443.3 121.9 L443.7 121.96 L444.1 122.02 L444.5 122.07 L444.9 122.13 L445.3 122.19 L445.7 122.25 L446.1 122.31 L446.5 122.36 L446.9 122.42 L447.3 122.48 L447.7 122.54 L448.1 122.6 L448.5 122.65 L448.9 122.71 L449.3 122.77 L449.7 122.83 L450.1 122.89 L450.5 122.95 L450.9 123 L451.3 123.06 L451.7 123.12 L452.1 123.18 L452.5 123.24 L452.9 123.3 L453.3 123.35 L453.7 123.41 L454.1 123.47 L454.5 123.53 L454.9 123.59 L455.3 123.64 L455.7 123.7 L456.1 123.76 L456.5 123.82 L456.9 123.88 L457.3 123.94 L457.7 124 L458.1 124.06 L458.5 124.12 L458.9 124.18 L459.3 124.24 L459.7 124.3 L460.1 124.37 L460.5 124.43 L460.9 124.49 L461.3 124.55 L461.7 124.62 L462.1 124.68 L462.5 124.75 L462.9 124.81 L463.3 124.87 L463.7 124.94 L464.1 125 L464.5 125.07 L464.9 125.13 L465.3 125.2 L465.7 125.27 L466.1 125.33 L466.5 125.4 L466.9 125.46 L467.3 125.53 L467.7 125.6 L468.1 125.66 L468.5 125.73 L468.9 125.8 L469.3 125.86 L469.7 125.93 L470.1 126 L470.5 126.07 L470.9 126.13 L471.3 126.2 L471.7 126.27 L472.1 126.33 L472.5 126.4 L472.9 126.47 L473.3 126.54 L473.7 126.6 L474.1 126.67 L474.5 126.74 L474.9 126.81 L475.3 126.87 L475.7 126.94 L476.1 127.01 L476.5 127.07 L476.9 127.14 L477.3 127.21 L477.7 127.27 L478.1 127.34 L478.5 127.41 L478.9 127.47 L479.3 127.54 L479.7 127.61 L480.1 127.67 L480.5 127.74 L480.9 127.8 L481.3 127.87 L481.7 127.93 L482.1 128 L482.5 128.06 L482.9 128.12 L483.3 128.19 L483.7 128.25 L484.1 128.32 L484.5 128.38 L484.9 128.44 L485.3 128.5 L485.7 128.57 L486.1 128.63 L486.5 128.69 L486.9 128.75 L487.3 128.81 L487.7 128.87 L488.1 128.93 L488.5 128.99 L488.9 129.05 L489.3 129.11 L489.7 129.17 L490.1 129.23 L490.5 129.29 L490.9 129.35 L491.3 129.41 L491.7 129.47 L492.1 129.53 L492.5 129.59 L492.9 129.65 L493.3 129.71 L493.7 129.77 L494.1 129.83 L494.5 129.89 L494.9 129.95 L495.3 130.01 L495.7 130.07 L496.1 130.13 L496.5 130.19 L496.9 130.25 L497.3 130.31 L497.7 130.37 L498.1 130.43 L498.5 130.5 L498.9 130.56 L499.3 130.62 L499.7 130.68 L500.1 130.74 L500.5 130.81 L500.9 130.87 L501.3 130.94 L501.7 131 L502.1 131.06 L502.5 131.13 L502.9 131.2 L503.3 131.26 L503.7 131.33 L504.1 131.4 L504.5 131.46 L504.9 131.53 L505.3 131.6 L505.7 131.67 L506.1 131.74 L506.5 131.81 L506.9 131.88 L507.3 131.95 L507.7 132.02 L508.1 132.09 L508.5 132.16 L508.9 132.23 L509.3 132.3 L509.7 132.37 L510.1 132.44 L510.5 132.51 L510.9 132.58 L511.3 132.65 L511.7 132.72 L512.1 132.79 L512.5 132.86 L512.9 132.94 L513.3 133.01 L513.7 133.08 L514.1 133.15 L514.5 133.22 L514.9 133.3 L515.3 133.37 L515.7 133.44 L516.1 133.52 L516.5 133.59 L516.9 133.67 L517.3 133.74 L517.7 133.82 L518.1 133.89 L518.5 133.97 L518.9 134.04 L519.3 134.12 L519.7 134.19 L520.1 134.27 L520.5 134.35 L520.9 134.43 L521.3 134.5 L521.7 134.58 L522.1 134.66 L522.5 134.74 L522.9 134.82 L523.3 134.9 L523.7 134.98 L524.1 135.06 L524.5 135.14 L524.9 135.22 L525.3 135.31 L525.7 135.39 L526.1 135.47 L526.5 135.56 L526.9 135.64 L527.3 135.72 L527.7 135.81 L528.1 135.9 L528.5 135.98 L528.9 136.07 L529.3 136.15 L529.7 136.24 L530.1 136.33 L530.5 136.42 L530.9 136.51 L531.3 136.6 L531.7 136.69 L532.1 136.78 L532.5 136.87 L532.9 136.96 L533.3 137.06 L533.7 137.15 L534.1 137.24 L534.5 137.34 L534.9 137.43 L535.3 137.53 L535.7 137.63 L536.1 137.72 L536.5 137.82 L536.9 137.93 L537.3 138.03 L537.7 138.14 L538.1 138.25 L538.5 138.36 L538.9 138.47 L539.3 138.58 L539.7 138.7 L540.1 138.82 L540.5 138.93 L540.9 139.05 L541.3 139.17 L541.7 139.3 L542.1 139.42 L542.5 139.54 L542.9 139.66 L543.3 139.78 L543.7 139.91 L544.1 140.03 L544.5 140.15 L544.9 140.28 L545.3 140.4 L545.7 140.53 L546.1 140.66 L546.5 140.78 L546.9 140.91 L547.3 141.04 L547.7 141.17 L548.1 141.3 L548.5 141.43 L548.9 141.57 L549.3 141.7 L549.7 141.83 L550.1 141.97 L550.5 142.1 L550.9 142.24 L551.3 142.37 L551.7 142.51 L552.1 142.64 L552.5 142.78 L552.9 142.92 L553.3 143.06 L553.7 143.19 L554.1 143.33 L554.5 143.47 L554.9 143.61 L555.3 143.75 L555.7 143.89 L556.1 144.03 L556.5 144.17 L556.9 144.31 L557.3 144.45 L557.7 144.59 L558.1 144.73 L558.5 144.88 L558.9 145.02 L559.3 145.16 L559.7 145.3 L560.1 145.44 L560.5 145.58 L560.9 145.73 L561.3 145.87 L561.7 146.01 L562.1 146.15 L562.5 146.29 L562.9 146.43 L563.3 146.57 L563.7 146.72 L564.1 146.86 L564.5 147 L564.9 147.14 L565.3 147.28 L565.7 147.42 L566.1 147.56 L566.5 147.7 L566.9 147.84 L567.3 147.97 L567.7 148.11 L568.1 148.25 L568.5 148.39 L568.9 148.53 L569.3 148.66 L569.7 148.8 L570.1 148.93 L570.5 149.07 L570.9 149.2 L571.3 149.34 L571.7 149.47 L572.1 149.61 L572.5 149.74 L572.9 149.87 L573.3 150 L573.7 150.13 L574.1 150.26 L574.5 150.39 L574.9 150.52 L575.3 150.65 L575.7 150.77 L576.1 150.9 L576.5 151.03 L576.9 151.15 L577.3 151.28 L577.7 151.4 L578.1 151.53 L578.5 151.65 L578.9 151.77 L579.3 151.9 L579.7 152.02 L580.1 152.14 L580.5 152.26 L580.9 152.39 L581.3 152.51 L581.7 152.63 L582.1 152.75 L582.5 152.87 L582.9 152.99 L583.3 153.11 L583.7 153.23 L584.1 153.35 L584.5 153.47 L584.9 153.59 L585.3 153.71 L585.7 153.83 L586.1 153.95 L586.5 154.07 L586.9 154.19 L587.3 154.31 L587.7 154.43 L588.1 154.55 L588.5 154.67 L588.9 154.79 L589.3 154.91 L589.7 155.03 L590.1 155.15 L590.5 155.27 L590.9 155.4 L591.3 155.52 L591.7 155.64 L592.1 155.76 L592.5 155.88 L592.9 156 L593.3 156.13 L593.7 156.25 L594.1 156.37 L594.5 156.5 L594.9 156.62 L595.3 156.75 L595.7 156.87 L596.1 157 L596.5 157.12 L596.9 157.25 L597.3 157.38 L597.7 157.5 L598.1 157.63 L598.5 157.76 L598.9 157.89 L599.3 158.02 L599.7 158.15 L600.1 158.28 L600.5 158.41 L600.9 158.55 L601.3 158.68 L601.7 158.81 L602.1 158.95 L602.5 159.08 L602.9 159.22 L603.3 159.36 L603.7 159.5 L604.1 159.63 L604.5 159.77 L604.9 159.92 L605.3 160.06 L605.7 160.2 L606.1 160.34 L606.5 160.49 L606.9 160.63 L607.3 160.78 L607.7 160.92 L608.1 161.07 L608.5 161.22 L608.9 161.36 L609.3 161.51 L609.7 161.66 L610.1 161.81 L610.5 161.96 L610.9 162.11 L611.3 162.27 L611.7 162.42 L612.1 162.57 L612.5 162.73 L612.9 162.88 L613.3 163.04 L613.7 163.19 L614.1 163.35 L614.5 163.5 L614.9 163.66 L615.3 163.82 L615.7 163.98 L616.1 164.14 L616.5 164.3 L616.9 164.45 L617.3 164.61 L617.7 164.78 L618.1 164.94 L618.5 165.1 L618.9 165.26 L619.3 165.42 L619.7 165.58 L620.1 165.75 L620.5 165.91 L620.9 166.07 L621.3 166.24 L621.7 166.4" fill="none" stroke="#000000" stroke-width="1.08" stroke-linejoin="round" stroke-linecap="butt"/>
<path d="M385 -9.01 L385.4 -7.87 L385.8 -6.74 L386.2 -5.6 L386.6 -4.45 L387 -3.31 L387.4 -2.16 L387.8 -1.01 L388.2 0.15 L388.6 1.31 L389 2.47 L389.4 3.63 L389.8 4.8 L390.2 5.97 L390.6 7.14 L391.01 8.31 L391.41 9.49 L391.81 10.67 L392.21 11.85 L392.61 13.03 L393.01 14.22 L393.41 15.4 L393.81 16.59 L394.21 17.78 L394.61 18.97 L395.01 20.17 L395.41 21.36 L395.81 22.56 L396.21 23.76 L396.61 24.96 L397.01 26.16 L397.41 27.36 L397.81 28.56 L398.21 29.77 L398.61 30.97 L399.01 32.18 L399.41 33.38 L399.81 34.59 L400.21 35.8 L400.61 37 L401.01 38.21 L401.41 39.42 L401.81 40.63 L402.21 41.84 L402.61 43.05 L403.02 44.25 L403.42 45.46 L403.82 46.67 L404.22 47.88 L404.62 49.09 L405.02 50.3 L405.42 51.5 L405.82 52.71 L406.22 53.92 L406.62 55.12 L407.02 56.33 L407.42 57.53 L407.82 58.73 L408.22 59.93 L408.62 61.13 L409.02 62.33 L409.42 63.53 L409.82 64.73 L410.22 65.92 L410.62 67.11 L411.02 68.29 L411.42 69.47 L411.82 70.65 L412.22 71.83 L412.62 72.99 L413.02 74.16 L413.42 75.31 L413.82 76.47 L414.22 77.61 L414.62 78.75 L415.03 79.88 L415.43 81.01 L415.83 82.12 L416.23 83.23 L416.63 84.33 L417.03 85.42 L417.43 86.5 L417.83 87.57 L418.23 88.63 L418.63 89.69 L419.03 90.73 L419.43 91.75 L419.83 92.77 L420.23 93.77 L420.63 94.77 L421.03 95.74 L421.43 96.7 L421.83 97.65 L422.23 98.57 L422.63 99.48 L423.03 100.37 L423.43 101.24 L423.83 102.09 L424.23 102.92 L424.63 103.73 L425.03 104.52 L425.43 105.29 L425.83 106.04 L426.23 106.78 L426.63 107.5 L427.04 108.21 L427.44 108.9 L427.84 109.58 L428.24 110.25 L428.64 110.91 L429.04 111.56 L429.44 112.2 L429.84 112.83 L430.24 113.46 L430.64 114.08 L431.04 114.7 L431.44 115.32 L431.84 115.93 L432.24 116.55 L432.64 117.16 L433.04 117.78 L433.44 118.4 L433.84 119.02 L434.24 119.65 L434.64 120.27 L435.04 120.9 L435.44 121.53 L435.84 122.16 L436.24 122.8 L436.64 123.43 L437.04 124.06 L437.44 124.69 L437.84 125.31 L438.24 125.94 L438.65 126.56 L439.05 127.18 L439.45 127.8 L439.85 128.41 L440.25 129.02 L440.65 129.62 L441.05 130.22 L441.45 130.81 L441.85 131.39 L442.25 131.97 L442.65 132.54 L443.05 133.1 L443.45 133.66 L443.85 134.2 L444.25 134.74 L444.65 135.28 L445.05 135.8 L445.45 136.32 L445.85 136.83 L446.25 137.33 L446.65 137.82 L447.05 138.3 L447.45 138.78 L447.85 139.25 L448.25 139.71 L448.65 140.17 L449.05 140.62 L449.45 141.05 L449.85 141.49 L450.25 141.91 L450.66 142.33 L451.06 142.73 L451.46 143.13 L451.86 143.53 L452.26 143.91 L452.66 144.29 L453.06 144.66 L453.46 145.02 L453.86 145.38 L454.26 145.72 L454.66 146.06 L455.06 146.39 L455.46 146.72 L455.86 147.03 L456.26 147.34 L456.66 147.64 L457.06 147.94 L457.46 148.22 L457.86 148.5 L458.26 148.77 L458.66 149.04 L459.06 149.29 L459.46 149.54 L459.86 149.78 L460.26 150.02 L460.66 150.24 L461.06 150.46 L461.46 150.67 L461.86 150.88 L462.26 151.07 L462.67 151.26 L463.07 151.44 L463.47 151.62 L463.87 151.78 L464.27 151.94 L464.67 152.1 L465.07 152.24 L465.47 152.38 L465.87 152.51 L466.27 152.63 L466.67 152.75 L467.07 152.85 L467.47 152.96 L467.87 153.05 L468.27 153.14 L468.67 153.22 L469.07 153.29 L469.47 153.35 L469.87 153.41 L470.27 153.46 L470.67 153.5 L471.07 153.54 L471.47 153.57 L471.87 153.59 L472.27 153.61 L472.67 153.61 L473.07 153.61 L473.47 153.61 L473.87 153.59 L474.27 153.57 L474.68 153.55 L475.08 153.51 L475.48 153.47 L475.88 153.42 L476.28 153.36 L476.68 153.3 L477.08 153.23 L477.48 153.15 L477.88 153.07 L478.28 152.98 L478.68 152.88 L479.08 152.78 L479.48 152.66 L479.88 152.55 L480.28 152.42 L480.68 152.29 L481.08 152.15 L481.48 152 L481.88 151.85 L482.28 151.69 L482.68 151.52 L483.08 151.35 L483.48 151.17 L483.88 150.98 L484.28 150.79 L484.68 150.59 L485.08 150.38 L485.48 150.17 L485.88 149.94 L486.29 149.72 L486.69 149.48 L487.09 149.24 L487.49 148.99 L487.89 148.73 L488.29 148.47 L488.69 148.2 L489.09 147.93 L489.49 147.64 L489.89 147.35 L490.29 147.05 L490.69 146.75 L491.09 146.44 L491.49 146.12 L491.89 145.79 L492.29 145.46 L492.69 145.12 L493.09 144.77 L493.49 144.42 L493.89 144.06 L494.29 143.69 L494.69 143.31 L495.09 142.93 L495.49 142.54 L495.89 142.14 L496.29 141.73 L496.69 141.32 L497.09 140.9 L497.49 140.47 L497.89 140.04 L498.3 139.6 L498.7 139.15 L499.1 138.69 L499.5 138.23 L499.9 137.76 L500.3 137.28 L500.7 136.79 L501.1 136.3 L501.5 135.8 L501.9 135.29 L502.3 134.77 L502.7 134.25 L503.1 133.72 L503.5 133.18 L503.9 132.63 L504.3 132.08 L504.7 131.52 L505.1 130.95 L505.5 130.37 L505.9 129.79 L506.3 129.2 L506.7 128.61 L507.1 128.01 L507.5 127.41 L507.9 126.82 L508.3 126.23 L508.7 125.64 L509.1 125.05 L509.5 124.47 L509.9 123.91 L510.31 123.35 L510.71 122.8 L511.11 122.26 L511.51 121.74 L511.91 121.23 L512.31 120.75 L512.71 120.28 L513.11 119.83 L513.51 119.4 L513.91 118.99 L514.31 118.6 L514.71 118.22 L515.11 117.87 L515.51 117.53 L515.91 117.21 L516.31 116.91 L516.71 116.62 L517.11 116.35 L517.51 116.09 L517.91 115.85 L518.31 115.63 L518.71 115.41 L519.11 115.21 L519.51 115.03 L519.91 114.85 L520.31 114.69 L520.71 114.54 L521.11 114.4 L521.51 114.27 L521.91 114.16 L522.32 114.05 L522.72 113.95 L523.12 113.86 L523.52 113.78 L523.92 113.7 L524.32 113.64 L524.72 113.58 L525.12 113.52 L525.52 113.48 L525.92 113.44 L526.32 113.4 L526.72 113.37 L527.12 113.35 L527.52 113.32 L527.92 113.31 L528.32 113.3 L528.72 113.29 L529.12 113.29 L529.52 113.29 L529.92 113.3 L530.32 113.31 L530.72 113.33 L531.12 113.35 L531.52 113.38 L531.92 113.42 L532.32 113.46 L532.72 113.5 L533.12 113.55 L533.52 113.61 L533.93 113.67 L534.33 113.74 L534.73 113.82 L535.13 113.9 L535.53 113.98 L535.93 114.08 L536.33 114.18 L536.73 114.28 L537.13 114.39 L537.53 114.51 L537.93 114.64 L538.33 114.77 L538.73 114.9 L539.13 115.05 L539.53 115.2 L539.93 115.36 L540.33 115.52 L540.73 115.7 L541.13 115.88 L541.53 116.06 L541.93 116.26 L542.33 116.46 L542.73 116.66 L543.13 116.88 L543.53 117.1 L543.93 117.33 L544.33 117.57 L544.73 117.82 L545.13 118.07 L545.53 118.33 L545.94 118.6 L546.34 118.88 L546.74 119.16 L547.14 119.45 L547.54 119.75 L547.94 120.05 L548.34 120.36 L548.74 120.68 L549.14 121.01 L549.54 121.34 L549.94 121.68 L550.34 122.02 L550.74 122.37 L551.14 122.73 L551.54 123.1 L551.94 123.47 L552.34 123.85 L552.74 124.23 L553.14 124.62 L553.54 125.02 L553.94 125.42 L554.34 125.83 L554.74 126.25 L555.14 126.67 L555.54 127.1 L555.94 127.53 L556.34 127.97 L556.74 128.42 L557.14 128.87 L557.54 129.32 L557.95 129.78 L558.35 130.25 L558.75 130.72 L559.15 131.2 L559.55 131.68 L559.95 132.17 L560.35 132.67 L560.75 133.16 L561.15 133.67 L561.55 134.18 L561.95 134.69 L562.35 135.21 L562.75 135.73 L563.15 136.26 L563.55 136.79 L563.95 137.33 L564.35 137.87 L564.75 138.42 L565.15 138.97 L565.55 139.53 L565.95 140.08 L566.35 140.65 L566.75 141.22 L567.15 141.79 L567.55 142.36 L567.95 142.94 L568.35 143.53 L568.75 144.12 L569.15 144.71 L569.55 145.3 L569.96 145.9 L570.36 146.51 L570.76 147.11 L571.16 147.72 L571.56 148.34 L571.96 148.96 L572.36 149.58 L572.76 150.21 L573.16 150.84 L573.56 151.47 L573.96 152.11 L574.36 152.76 L574.76 153.41 L575.16 154.07 L575.56 154.73 L575.96 155.4 L576.36 156.07 L576.76 156.75 L577.16 157.43 L577.56 158.12 L577.96 158.82 L578.36 159.52 L578.76 160.23 L579.16 160.95 L579.56 161.67 L579.96 162.4 L580.36 163.14 L580.76 163.88 L581.16 164.63 L581.57 165.39 L581.97 166.16 L582.37 166.93 L582.77 167.71 L583.17 168.5 L583.57 169.3 L583.97 170.1 L584.37 170.91 L584.77 171.73 L585.17 172.55 L585.57 173.38 L585.97 174.21 L586.37 175.04 L586.77 175.88 L587.17 176.72 L587.57 177.56 L587.97 178.41 L588.37 179.25 L588.77 180.1 L589.17 180.95 L589.57 181.8 L589.97 182.64 L590.37 183.49 L590.77 184.33 L591.17 185.18 L591.57 186.02 L591.97 186.86 L592.37 187.69 L592.77 188.52 L593.17 189.35 L593.58 190.18 L593.98 191.01 L594.38 191.84 L594.78 192.66 L595.18 193.49 L595.58 194.32 L595.98 195.15 L596.38 195.98 L596.78 196.81 L597.18 197.65 L597.58 198.49 L597.98 199.34 L598.38 200.18 L598.78 201.04 L599.18 201.9 L599.58 202.76 L599.98 203.64 L600.38 204.52 L600.78 205.4 L601.18 206.3 L601.58 207.2 L601.98 208.12 L602.38 209.04 L602.78 209.97 L603.18 210.92 L603.58 211.87 L603.98 212.83 L604.38 213.81 L604.78 214.79 L605.18 215.78 L605.59 216.78 L605.99 217.79 L606.39 218.81 L606.79 219.83 L607.19 220.87 L607.59 221.92 L607.99 222.97 L608.39 224.03 L608.79 225.11 L609.19 226.19 L609.59 227.27 L609.99 228.37 L610.39 229.48 L610.79 230.59 L611.19 231.71 L611.59 232.84 L611.99 233.98 L612.39 235.12 L612.79 236.27 L613.19 237.43 L613.59 238.6 L613.99 239.77 L614.39 240.96 L614.79 242.14 L615.19 243.34 L615.59 244.54 L615.99 245.75 L616.39 246.97 L616.79 248.19 L617.19 249.42 L617.6 250.66 L618 251.9 L618.4 253.15 L618.8 254.41 L619.2 255.67 L619.6 256.94 L620 258.21 L620.4 259.49 L620.8 260.78 L621.2 262.07 L621.6 263.36 L622 264.67 L622.4 265.97 L622.8 267.29 L623.2 268.61" fill="none" stroke="#FF0000" stroke-width="1.08" stroke-linejoin="round" stroke-linecap="butt"/>
<path d="M389 -10.01 L389.4 -8.82 L389.8 -7.63 L390.2 -6.44 L390.6 -5.25 L391 -4.06 L391.4 -2.87 L391.8 -1.69 L392.2 -0.5 L392.6 0.68 L393.01 1.86 L393.41 3.04 L393.81 4.22 L394.21 5.4 L394.61 6.58 L395.01 7.76 L395.41 8.94 L395.81 10.11 L396.21 11.29 L396.61 12.46 L397.01 13.64 L397.41 14.81 L397.81 15.98 L398.21 17.15 L398.61 18.32 L399.01 19.49 L399.41 20.66 L399.81 21.83 L400.21 23 L400.62 24.17 L401.02 25.34 L401.42 26.5 L401.82 27.67 L402.22 28.83 L402.62 30 L403.02 31.16 L403.42 32.33 L403.82 33.49 L404.22 34.65 L404.62 35.82 L405.02 36.98 L405.42 38.14 L405.82 39.3 L406.22 40.46 L406.62 41.62 L407.02 42.78 L407.42 43.94 L407.82 45.1 L408.23 46.26 L408.63 47.42 L409.03 48.58 L409.43 49.74 L409.83 50.9 L410.23 52.06 L410.63 53.22 L411.03 54.38 L411.43 55.54 L411.83 56.7 L412.23 57.86 L412.63 59.02 L413.03 60.17 L413.43 61.33 L413.83 62.5 L414.23 63.66 L414.63 64.83 L415.03 66.01 L415.43 67.2 L415.84 68.4 L416.24 69.61 L416.64 70.84 L417.04 72.08 L417.44 73.34 L417.84 74.62 L418.24 75.92 L418.64 77.24 L419.04 78.59 L419.44 79.96 L419.84 81.36 L420.24 82.79 L420.64 84.25 L421.04 85.73 L421.44 87.22 L421.84 88.72 L422.24 90.21 L422.64 91.69 L423.04 93.14 L423.45 94.57 L423.85 95.95 L424.25 97.29 L424.65 98.57 L425.05 99.78 L425.45 100.92 L425.85 102 L426.25 103.01 L426.65 103.97 L427.05 104.87 L427.45 105.73 L427.85 106.54 L428.25 107.3 L428.65 108.04 L429.05 108.73 L429.45 109.4 L429.85 110.05 L430.25 110.67 L430.65 111.28 L431.05 111.88 L431.46 112.46 L431.86 113.05 L432.26 113.64 L432.66 114.23 L433.06 114.82 L433.46 115.44 L433.86 116.06 L434.26 116.71 L434.66 117.36 L435.06 118.03 L435.46 118.7 L435.86 119.39 L436.26 120.09 L436.66 120.79 L437.06 121.51 L437.46 122.22 L437.86 122.95 L438.26 123.67 L438.66 124.4 L439.07 125.14 L439.47 125.87 L439.87 126.6 L440.27 127.34 L440.67 128.07 L441.07 128.79 L441.47 129.52 L441.87 130.24 L442.27 130.95 L442.67 131.65 L443.07 132.35 L443.47 133.04 L443.87 133.73 L444.27 134.41 L444.67 135.08 L445.07 135.75 L445.47 136.41 L445.87 137.07 L446.27 137.73 L446.68 138.38 L447.08 139.03 L447.48 139.68 L447.88 140.33 L448.28 140.98 L448.68 141.63 L449.08 142.28 L449.48 142.93 L449.88 143.58 L450.28 144.23 L450.68 144.89 L451.08 145.55 L451.48 146.22 L451.88 146.89 L452.28 147.56 L452.68 148.24 L453.08 148.92 L453.48 149.6 L453.88 150.27 L454.29 150.95 L454.69 151.61 L455.09 152.27 L455.49 152.92 L455.89 153.56 L456.29 154.18 L456.69 154.79 L457.09 155.39 L457.49 155.96 L457.89 156.52 L458.29 157.07 L458.69 157.6 L459.09 158.11 L459.49 158.61 L459.89 159.1 L460.29 159.57 L460.69 160.02 L461.09 160.46 L461.49 160.89 L461.9 161.3 L462.3 161.7 L462.7 162.09 L463.1 162.46 L463.5 162.82 L463.9 163.17 L464.3 163.5 L464.7 163.82 L465.1 164.13 L465.5 164.42 L465.9 164.71 L466.3 164.98 L466.7 165.24 L467.1 165.48 L467.5 165.72 L467.9 165.95 L468.3 166.16 L468.7 166.36 L469.1 166.56 L469.51 166.74 L469.91 166.91 L470.31 167.07 L470.71 167.22 L471.11 167.37 L471.51 167.5 L471.91 167.62 L472.31 167.73 L472.71 167.84 L473.11 167.93 L473.51 168.02 L473.91 168.1 L474.31 168.17 L474.71 168.23 L475.11 168.29 L475.51 168.33 L475.91 168.37 L476.31 168.4 L476.71 168.43 L477.12 168.44 L477.52 168.45 L477.92 168.46 L478.32 168.45 L478.72 168.45 L479.12 168.43 L479.52 168.41 L479.92 168.38 L480.32 168.35 L480.72 168.3 L481.12 168.25 L481.52 168.19 L481.92 168.12 L482.32 168.04 L482.72 167.95 L483.12 167.85 L483.52 167.73 L483.92 167.6 L484.32 167.46 L484.73 167.3 L485.13 167.13 L485.53 166.94 L485.93 166.74 L486.33 166.51 L486.73 166.27 L487.13 166.02 L487.53 165.74 L487.93 165.44 L488.33 165.12 L488.73 164.79 L489.13 164.43 L489.53 164.04 L489.93 163.64 L490.33 163.21 L490.73 162.75 L491.13 162.27 L491.53 161.77 L491.93 161.23 L492.34 160.68 L492.74 160.09 L493.14 159.47 L493.54 158.83 L493.94 158.16 L494.34 157.46 L494.74 156.73 L495.14 155.99 L495.54 155.21 L495.94 154.41 L496.34 153.59 L496.74 152.75 L497.14 151.89 L497.54 151.01 L497.94 150.1 L498.34 149.18 L498.74 148.24 L499.14 147.28 L499.54 146.31 L499.95 145.32 L500.35 144.31 L500.75 143.29 L501.15 142.26 L501.55 141.22 L501.95 140.16 L502.35 139.09 L502.75 138.01 L503.15 136.93 L503.55 135.83 L503.95 134.73 L504.35 133.62 L504.75 132.5 L505.15 131.38 L505.55 130.25 L505.95 129.12 L506.35 127.99 L506.75 126.86 L507.15 125.73 L507.55 124.6 L507.96 123.48 L508.36 122.37 L508.76 121.27 L509.16 120.18 L509.56 119.1 L509.96 118.04 L510.36 116.99 L510.76 115.96 L511.16 114.95 L511.56 113.97 L511.96 113.01 L512.36 112.07 L512.76 111.16 L513.16 110.28 L513.56 109.43 L513.96 108.62 L514.36 107.84 L514.76 107.09 L515.16 106.38 L515.57 105.71 L515.97 105.08 L516.37 104.48 L516.77 103.91 L517.17 103.38 L517.57 102.87 L517.97 102.4 L518.37 101.96 L518.77 101.55 L519.17 101.17 L519.57 100.81 L519.97 100.48 L520.37 100.18 L520.77 99.9 L521.17 99.65 L521.57 99.42 L521.97 99.21 L522.37 99.02 L522.77 98.86 L523.18 98.71 L523.58 98.58 L523.98 98.47 L524.38 98.38 L524.78 98.3 L525.18 98.24 L525.58 98.2 L525.98 98.16 L526.38 98.14 L526.78 98.14 L527.18 98.14 L527.58 98.15 L527.98 98.17 L528.38 98.21 L528.78 98.25 L529.18 98.31 L529.58 98.37 L529.98 98.45 L530.38 98.53 L530.79 98.63 L531.19 98.73 L531.59 98.85 L531.99 98.97 L532.39 99.11 L532.79 99.25 L533.19 99.41 L533.59 99.57 L533.99 99.75 L534.39 99.93 L534.79 100.12 L535.19 100.33 L535.59 100.54 L535.99 100.76 L536.39 100.99 L536.79 101.23 L537.19 101.48 L537.59 101.74 L537.99 102.01 L538.4 102.29 L538.8 102.57 L539.2 102.87 L539.6 103.17 L540 103.49 L540.4 103.81 L540.8 104.14 L541.2 104.48 L541.6 104.83 L542 105.19 L542.4 105.56 L542.8 105.93 L543.2 106.31 L543.6 106.71 L544 107.11 L544.4 107.52 L544.8 107.93 L545.2 108.36 L545.6 108.79 L546.01 109.23 L546.41 109.69 L546.81 110.14 L547.21 110.61 L547.61 111.08 L548.01 111.57 L548.41 112.06 L548.81 112.56 L549.21 113.06 L549.61 113.58 L550.01 114.1 L550.41 114.63 L550.81 115.17 L551.21 115.71 L551.61 116.26 L552.01 116.82 L552.41 117.39 L552.81 117.96 L553.21 118.55 L553.62 119.13 L554.02 119.73 L554.42 120.33 L554.82 120.95 L555.22 121.56 L555.62 122.19 L556.02 122.82 L556.42 123.46 L556.82 124.11 L557.22 124.76 L557.62 125.42 L558.02 126.08 L558.42 126.76 L558.82 127.44 L559.22 128.12 L559.62 128.82 L560.02 129.52 L560.42 130.22 L560.82 130.93 L561.23 131.65 L561.63 132.38 L562.03 133.11 L562.43 133.85 L562.83 134.59 L563.23 135.34 L563.63 136.09 L564.03 136.85 L564.43 137.62 L564.83 138.39 L565.23 139.16 L565.63 139.94 L566.03 140.72 L566.43 141.51 L566.83 142.3 L567.23 143.08 L567.63 143.88 L568.03 144.67 L568.43 145.46 L568.84 146.26 L569.24 147.06 L569.64 147.85 L570.04 148.65 L570.44 149.45 L570.84 150.24 L571.24 151.03 L571.64 151.83 L572.04 152.62 L572.44 153.41 L572.84 154.19 L573.24 154.97 L573.64 155.75 L574.04 156.53 L574.44 157.3 L574.84 158.07 L575.24 158.83 L575.64 159.59 L576.04 160.34 L576.45 161.09 L576.85 161.84 L577.25 162.58 L577.65 163.32 L578.05 164.06 L578.45 164.8 L578.85 165.54 L579.25 166.28 L579.65 167.03 L580.05 167.78 L580.45 168.54 L580.85 169.31 L581.25 170.08 L581.65 170.86 L582.05 171.65 L582.45 172.45 L582.85 173.27 L583.25 174.09 L583.65 174.93 L584.05 175.78 L584.46 176.63 L584.86 177.5 L585.26 178.38 L585.66 179.27 L586.06 180.16 L586.46 181.07 L586.86 181.98 L587.26 182.91 L587.66 183.83 L588.06 184.77 L588.46 185.71 L588.86 186.66 L589.26 187.62 L589.66 188.58 L590.06 189.54 L590.46 190.51 L590.86 191.49 L591.26 192.46 L591.66 193.45 L592.07 194.43 L592.47 195.42 L592.87 196.41 L593.27 197.4 L593.67 198.4 L594.07 199.4 L594.47 200.4 L594.87 201.41 L595.27 202.41 L595.67 203.43 L596.07 204.44 L596.47 205.46 L596.87 206.49 L597.27 207.51 L597.67 208.54 L598.07 209.58 L598.47 210.62 L598.87 211.66 L599.27 212.71 L599.68 213.76 L600.08 214.81 L600.48 215.87 L600.88 216.93 L601.28 218 L601.68 219.07 L602.08 220.15 L602.48 221.23 L602.88 222.32 L603.28 223.41 L603.68 224.51 L604.08 225.61 L604.48 226.72 L604.88 227.83 L605.28 228.94 L605.68 230.07 L606.08 231.19 L606.48 232.33 L606.88 233.47 L607.29 234.61 L607.69 235.76 L608.09 236.91 L608.49 238.08 L608.89 239.24 L609.29 240.41 L609.69 241.59 L610.09 242.78 L610.49 243.97 L610.89 245.17 L611.29 246.37 L611.69 247.58 L612.09 248.8 L612.49 250.02 L612.89 251.25 L613.29 252.49 L613.69 253.73 L614.09 254.98 L614.49 256.24 L614.9 257.5 L615.3 258.77 L615.7 260.05 L616.1 261.33 L616.5 262.63 L616.9 263.93 L617.3 265.23 L617.7 266.55 L618.1 267.87 L618.5 269.2" fill="none" stroke="#00CD00" stroke-width="1.08" stroke-linejoin="round" stroke-linecap="butt"/>
<path d="M389.3 33.6 L389.7 33.98 L390.1 34.37 L390.5 34.76 L390.9 35.16 L391.3 35.56 L391.7 35.96 L392.1 36.37 L392.5 36.78 L392.9 37.19 L393.3 37.61 L393.7 38.03 L394.1 38.45 L394.5 38.87 L394.9 39.3 L395.3 39.74 L395.7 40.17 L396.1 40.61 L396.5 41.05 L396.9 41.49 L397.3 41.93 L397.7 42.37 L398.1 42.81 L398.5 43.25 L398.9 43.7 L399.3 44.16 L399.7 44.62 L400.1 45.09 L400.5 45.57 L400.9 46.05 L401.3 46.54 L401.7 47.05 L402.1 47.57 L402.5 48.09 L402.9 48.64 L403.3 49.2 L403.7 49.77 L404.1 50.36 L404.5 50.96 L404.9 51.58 L405.3 52.21 L405.7 52.86 L406.1 53.51 L406.5 54.18 L406.9 54.85 L407.3 55.53 L407.7 56.22 L408.1 56.92 L408.5 57.62 L408.9 58.32 L409.3 59.04 L409.7 59.76 L410.1 60.5 L410.5 61.25 L410.9 62.02 L411.3 62.79 L411.7 63.58 L412.1 64.37 L412.5 65.17 L412.9 65.97 L413.3 66.79 L413.7 67.6 L414.1 68.42 L414.5 69.25 L414.9 70.07 L415.3 70.9 L415.7 71.73 L416.1 72.57 L416.5 73.43 L416.9 74.29 L417.3 75.15 L417.7 76.02 L418.1 76.9 L418.5 77.78 L418.9 78.67 L419.3 79.55 L419.7 80.44 L420.1 81.32 L420.5 82.21 L420.9 83.09 L421.3 83.97 L421.7 84.85 L422.1 85.72 L422.5 86.58 L422.9 87.45 L423.3 88.31 L423.7 89.17 L424.1 90.02 L424.5 90.88 L424.9 91.74 L425.3 92.6 L425.7 93.46 L426.1 94.32 L426.5 95.18 L426.9 96.05 L427.3 96.92 L427.7 97.79 L428.1 98.67 L428.5 99.56 L428.9 100.45 L429.3 101.35 L429.7 102.26 L430.1 103.19 L430.5 104.12 L430.9 105.05 L431.3 105.99 L431.7 106.93 L432.1 107.87 L432.5 108.8 L432.9 109.73 L433.3 110.66 L433.7 111.57 L434.1 112.48 L434.5 113.37 L434.9 114.25 L435.3 115.11 L435.7 115.96 L436.1 116.81 L436.5 117.64 L436.9 118.46 L437.3 119.28 L437.7 120.08 L438.1 120.89 L438.5 121.69 L438.9 122.48 L439.3 123.27 L439.7 124.06 L440.1 124.85 L440.5 125.64 L440.9 126.42 L441.3 127.21 L441.7 128.01 L442.1 128.8 L442.5 129.6 L442.9 130.4 L443.3 131.18 L443.7 131.95 L444.1 132.71 L444.5 133.46 L444.9 134.22 L445.3 134.98 L445.7 135.74 L446.1 136.53 L446.5 137.32 L446.9 138.14 L447.3 138.99 L447.7 139.86 L448.1 140.77 L448.5 141.73 L448.9 142.79 L449.3 143.92 L449.7 145.09 L450.1 146.26 L450.5 147.42 L450.9 148.52 L451.3 149.53 L451.7 150.45 L452.1 151.32 L452.5 152.15 L452.9 152.96 L453.3 153.74 L453.7 154.5 L454.1 155.24 L454.5 155.96 L454.9 156.67 L455.3 157.38 L455.7 158.07 L456.1 158.77 L456.5 159.47 L456.9 160.18 L457.3 160.89 L457.7 161.59 L458.1 162.3 L458.5 163 L458.9 163.7 L459.3 164.39 L459.7 165.07 L460.1 165.75 L460.5 166.4 L460.9 167.05 L461.3 167.67 L461.7 168.28 L462.1 168.87 L462.5 169.44 L462.9 170 L463.3 170.55 L463.7 171.09 L464.1 171.63 L464.5 172.15 L464.9 172.67 L465.3 173.18 L465.7 173.67 L466.1 174.15 L466.5 174.62 L466.9 175.07 L467.3 175.5 L467.7 175.92 L468.1 176.32 L468.5 176.71 L468.9 177.08 L469.3 177.44 L469.7 177.8 L470.1 178.16 L470.5 178.51 L470.9 178.85 L471.3 179.18 L471.7 179.5 L472.1 179.8 L472.5 180.08 L472.9 180.35 L473.3 180.6 L473.7 180.82 L474.1 181.02 L474.5 181.2 L474.9 181.36 L475.3 181.53 L475.7 181.69 L476.1 181.84 L476.5 182 L476.9 182.14 L477.3 182.27 L477.7 182.38 L478.1 182.49 L478.5 182.57 L478.9 182.64 L479.3 182.68 L479.7 182.7 L480.1 182.69 L480.5 182.65 L480.9 182.58 L481.3 182.49 L481.7 182.38 L482.1 182.25 L482.5 182.1 L482.9 181.95 L483.3 181.79 L483.7 181.62 L484.1 181.46 L484.5 181.28 L484.9 181.07 L485.3 180.83 L485.7 180.57 L486.1 180.29 L486.5 179.98 L486.9 179.65 L487.3 179.3 L487.7 178.91 L488.1 178.46 L488.5 177.96 L488.9 177.42 L489.3 176.83 L489.7 176.21 L490.1 175.55 L490.5 174.87 L490.9 174.16 L491.3 173.43 L491.7 172.69 L492.1 171.94 L492.5 171.19 L492.9 170.43 L493.3 169.67 L493.7 168.93 L494.1 168.19 L494.5 167.44 L494.9 166.68 L495.3 165.9 L495.7 165.09 L496.1 164.25 L496.5 163.35 L496.9 162.4 L497.3 161.38 L497.7 160.29 L498.1 159.06 L498.5 157.59 L498.9 155.95 L499.3 154.22 L499.7 152.48 L500.1 150.79 L500.5 149.23 L500.9 147.69 L501.3 146.17 L501.7 144.66 L502.1 143.15 L502.5 141.66 L502.9 140.18 L503.3 138.7 L503.7 137.23 L504.1 135.77 L504.5 134.31 L504.9 132.86 L505.3 131.45 L505.7 130.12 L506.1 128.82 L506.5 127.45 L506.9 125.95 L507.3 124.25 L507.7 122.28 L508.1 120.08 L508.5 117.69 L508.9 115.16 L509.3 112.54 L509.7 109.89 L510.1 107.21 L510.5 103.97 L510.9 100.47 L511.3 97.33 L511.7 95.2 L512.1 94.24 L512.5 93.55 L512.9 93.02 L513.3 92.56 L513.7 92.1 L514.1 91.59 L514.5 91.05 L514.9 90.5 L515.3 89.95 L515.7 89.42 L516.1 88.92 L516.5 88.47 L516.9 88.07 L517.3 87.76 L517.7 87.53 L518.1 87.42 L518.5 87.4 L518.9 87.43 L519.3 87.48 L519.7 87.56 L520.1 87.64 L520.5 87.74 L520.9 87.85 L521.3 87.95 L521.7 88.06 L522.1 88.16 L522.5 88.24 L522.9 88.32 L523.3 88.37 L523.7 88.4 L524.1 88.4 L524.5 88.36 L524.9 88.29 L525.3 88.2 L525.7 88.08 L526.1 87.96 L526.5 87.82 L526.9 87.68 L527.3 87.54 L527.7 87.42 L528.1 87.3 L528.5 87.21 L528.9 87.14 L529.3 87.1 L529.7 87.1 L530.1 87.13 L530.5 87.19 L530.9 87.26 L531.3 87.36 L531.7 87.49 L532.1 87.62 L532.5 87.78 L532.9 87.95 L533.3 88.13 L533.7 88.33 L534.1 88.53 L534.5 88.73 L534.9 88.95 L535.3 89.18 L535.7 89.48 L536.1 89.84 L536.5 90.24 L536.9 90.69 L537.3 91.18 L537.7 91.69 L538.1 92.22 L538.5 92.76 L538.9 93.3 L539.3 93.83 L539.7 94.35 L540.1 94.85 L540.5 95.36 L540.9 95.88 L541.3 96.4 L541.7 96.94 L542.1 97.48 L542.5 98.03 L542.9 98.59 L543.3 99.15 L543.7 99.71 L544.1 100.27 L544.5 100.84 L544.9 101.4 L545.3 101.96 L545.7 102.52 L546.1 103.08 L546.5 103.64 L546.9 104.2 L547.3 104.77 L547.7 105.34 L548.1 105.92 L548.5 106.52 L548.9 107.12 L549.3 107.74 L549.7 108.38 L550.1 109.03 L550.5 109.7 L550.9 110.4 L551.3 111.11 L551.7 111.84 L552.1 112.59 L552.5 113.35 L552.9 114.12 L553.3 114.9 L553.7 115.69 L554.1 116.5 L554.5 117.32 L554.9 118.14 L555.3 118.98 L555.7 119.83 L556.1 120.69 L556.5 121.56 L556.9 122.43 L557.3 123.31 L557.7 124.2 L558.1 125.1 L558.5 126 L558.9 126.9 L559.3 127.81 L559.7 128.73 L560.1 129.64 L560.5 130.56 L560.9 131.48 L561.3 132.4 L561.7 133.33 L562.1 134.25 L562.5 135.17 L562.9 136.09 L563.3 137.01 L563.7 137.93 L564.1 138.85 L564.5 139.78 L564.9 140.71 L565.3 141.64 L565.7 142.59 L566.1 143.54 L566.5 144.5 L566.9 145.47 L567.3 146.45 L567.7 147.45 L568.1 148.46 L568.5 149.48 L568.9 150.53 L569.3 151.61 L569.7 152.72 L570.1 153.86 L570.5 155.03 L570.9 156.21 L571.3 157.4 L571.7 158.6 L572.1 159.8 L572.5 161 L572.9 162.19 L573.3 163.37 L573.7 164.53 L574.1 165.66 L574.5 166.76 L574.9 167.83 L575.3 168.85 L575.7 169.86 L576.1 170.86 L576.5 171.85 L576.9 172.82 L577.3 173.79 L577.7 174.74 L578.1 175.68 L578.5 176.61 L578.9 177.53 L579.3 178.43 L579.7 179.33 L580.1 180.21 L580.5 181.07 L580.9 181.93 L581.3 182.77 L581.7 183.59 L582.1 184.41 L582.5 185.2 L582.9 185.99 L583.3 186.76 L583.7 187.52 L584.1 188.26 L584.5 189 L584.9 189.73 L585.3 190.44 L585.7 191.15 L586.1 191.84 L586.5 192.53 L586.9 193.21 L587.3 193.88 L587.7 194.54 L588.1 195.2 L588.5 195.85 L588.9 196.5 L589.3 197.14 L589.7 197.77 L590.1 198.4 L590.5 199.02 L590.9 199.64 L591.3 200.25 L591.7 200.86 L592.1 201.46 L592.5 202.05 L592.9 202.64 L593.3 203.22 L593.7 203.8 L594.1 204.37 L594.5 204.93 L594.9 205.49 L595.3 206.05 L595.7 206.59 L596.1 207.14 L596.5 207.68 L596.9 208.21 L597.3 208.74 L597.7 209.26 L598.1 209.77 L598.5 210.28 L598.9 210.78 L599.3 211.27 L599.7 211.75 L600.1 212.23 L600.5 212.71 L600.9 213.18 L601.3 213.65 L601.7 214.11 L602.1 214.58 L602.5 215.04 L602.9 215.5 L603.3 215.97 L603.7 216.44 L604.1 216.91 L604.5 217.38 L604.9 217.86 L605.3 218.34 L605.7 218.83 L606.1 219.32 L606.5 219.82 L606.9 220.33 L607.3 220.83 L607.7 221.34 L608.1 221.86 L608.5 222.37 L608.9 222.89 L609.3 223.4 L609.7 223.92 L610.1 224.44 L610.5 224.96 L610.9 225.48 L611.3 226.01 L611.7 226.53 L612.1 227.05 L612.5 227.57 L612.9 228.08 L613.3 228.6 L613.7 229.12 L614.1 229.63 L614.5 230.14 L614.9 230.65 L615.3 231.16 L615.7 231.67 L616.1 232.18 L616.5 232.69 L616.9 233.2 L617.3 233.71 L617.7 234.22 L618.1 234.73 L618.5 235.24 L618.9 235.75 L619.3 236.26 L619.7 236.77 L620.1 237.27 L620.5 237.78 L620.9 238.29 L621.3 238.79 L621.7 239.3" fill="none" stroke="#0000FF" stroke-width="1.08" stroke-linejoin="round" stroke-linecap="butt"/>
<path d="M389.3 105.92 L389.7 104.81 L390.1 103.73 L390.5 102.66 L390.9 101.62 L391.3 100.6 L391.7 99.6 L392.1 98.62 L392.5 97.66 L392.9 96.73 L393.3 95.82 L393.7 94.92 L394.1 94.05 L394.5 93.2 L394.9 92.38 L395.3 91.57 L395.7 90.78 L396.1 90.02 L396.5 89.27 L396.9 88.55 L397.3 87.84 L397.7 87.16 L398.1 86.5 L398.5 85.85 L398.9 85.23 L399.3 84.63 L399.7 84.05 L400.1 83.48 L400.5 82.94 L400.9 82.41 L401.3 81.91 L401.7 81.43 L402.1 80.96 L402.5 80.51 L402.9 80.09 L403.3 79.68 L403.7 79.29 L404.1 78.92 L404.5 78.57 L404.9 78.23 L405.3 77.92 L405.7 77.62 L406.1 77.35 L406.5 77.09 L406.9 76.85 L407.3 76.62 L407.7 76.42 L408.1 76.23 L408.5 76.06 L408.9 75.91 L409.3 75.77 L409.7 75.66 L410.1 75.56 L410.5 75.48 L410.9 75.41 L411.3 75.36 L411.7 75.33 L412.1 75.32 L412.5 75.32 L412.9 75.34 L413.3 75.38 L413.7 75.43 L414.1 75.5 L414.5 75.58 L414.9 75.69 L415.3 75.8 L415.7 75.94 L416.1 76.09 L416.5 76.25 L416.9 76.44 L417.3 76.63 L417.7 76.84 L418.1 77.07 L418.5 77.32 L418.9 77.57 L419.3 77.85 L419.7 78.14 L420.1 78.44 L420.5 78.76 L420.9 79.09 L421.3 79.44 L421.7 79.8 L422.1 80.18 L422.5 80.57 L422.9 80.98 L423.3 81.4 L423.7 81.83 L424.1 82.28 L424.5 82.74 L424.9 83.22 L425.3 83.71 L425.7 84.21 L426.1 84.73 L426.5 85.26 L426.9 85.81 L427.3 86.38 L427.7 86.96 L428.1 87.56 L428.5 88.18 L428.9 88.82 L429.3 89.48 L429.7 90.15 L430.1 90.85 L430.5 91.57 L430.9 92.31 L431.3 93.07 L431.7 93.86 L432.1 94.67 L432.5 95.5 L432.9 96.36 L433.3 97.24 L433.7 98.15 L434.1 99.08 L434.5 100.04 L434.9 101.03 L435.3 102.04 L435.7 103.08 L436.1 104.15 L436.5 105.23 L436.9 106.34 L437.3 107.48 L437.7 108.63 L438.1 109.81 L438.5 111.01 L438.9 112.22 L439.3 113.45 L439.7 114.68 L440.1 115.91 L440.5 117.14 L440.9 118.37 L441.3 119.59 L441.7 120.79 L442.1 121.98 L442.5 123.16 L442.9 124.33 L443.3 125.49 L443.7 126.64 L444.1 127.79 L444.5 128.93 L444.9 130.06 L445.3 131.2 L445.7 132.33 L446.1 133.47 L446.5 134.6 L446.9 135.74 L447.3 136.89 L447.7 138.04 L448.1 139.19 L448.5 140.36 L448.9 141.53 L449.3 142.7 L449.7 143.89 L450.1 145.08 L450.5 146.28 L450.9 147.49 L451.3 148.71 L451.7 149.94 L452.1 151.18 L452.5 152.43 L452.9 153.68 L453.3 154.95 L453.7 156.22 L454.1 157.49 L454.5 158.76 L454.9 160.04 L455.3 161.3 L455.7 162.57 L456.1 163.82 L456.5 165.06 L456.9 166.29 L457.3 167.5 L457.7 168.7 L458.1 169.87 L458.5 171.03 L458.9 172.16 L459.3 173.26 L459.7 174.33 L460.1 175.37 L460.5 176.37 L460.9 177.34 L461.3 178.27 L461.7 179.16 L462.1 180.01 L462.5 180.81 L462.9 181.57 L463.3 182.28 L463.7 182.96 L464.1 183.61 L464.5 184.22 L464.9 184.79 L465.3 185.34 L465.7 185.86 L466.1 186.35 L466.5 186.82 L466.9 187.26 L467.3 187.69 L467.7 188.09 L468.1 188.48 L468.5 188.85 L468.9 189.2 L469.3 189.53 L469.7 189.84 L470.1 190.13 L470.5 190.4 L470.9 190.66 L471.3 190.9 L471.7 191.12 L472.1 191.32 L472.5 191.5 L472.9 191.67 L473.3 191.81 L473.7 191.95 L474.1 192.06 L474.5 192.15 L474.9 192.23 L475.3 192.3 L475.7 192.34 L476.1 192.37 L476.5 192.38 L476.9 192.38 L477.3 192.36 L477.7 192.32 L478.1 192.27 L478.5 192.2 L478.9 192.11 L479.3 192.01 L479.7 191.9 L480.1 191.77 L480.5 191.62 L480.9 191.46 L481.3 191.28 L481.7 191.09 L482.1 190.88 L482.5 190.66 L482.9 190.42 L483.3 190.16 L483.7 189.89 L484.1 189.59 L484.5 189.28 L484.9 188.94 L485.3 188.59 L485.7 188.21 L486.1 187.81 L486.5 187.38 L486.9 186.93 L487.3 186.46 L487.7 185.96 L488.1 185.43 L488.5 184.87 L488.9 184.29 L489.3 183.67 L489.7 183.03 L490.1 182.35 L490.5 181.65 L490.9 180.91 L491.3 180.14 L491.7 179.33 L492.1 178.49 L492.5 177.61 L492.9 176.7 L493.3 175.75 L493.7 174.76 L494.1 173.74 L494.5 172.67 L494.9 171.57 L495.3 170.42 L495.7 169.24 L496.1 168.01 L496.5 166.75 L496.9 165.45 L497.3 164.12 L497.7 162.75 L498.1 161.34 L498.5 159.9 L498.9 158.43 L499.3 156.92 L499.7 155.38 L500.1 153.81 L500.5 152.2 L500.9 150.56 L501.3 148.9 L501.7 147.2 L502.1 145.48 L502.5 143.75 L502.9 142.01 L503.3 140.27 L503.7 138.54 L504.1 136.83 L504.5 135.14 L504.9 133.48 L505.3 131.87 L505.7 130.3 L506.1 128.77 L506.5 127.29 L506.9 125.85 L507.3 124.46 L507.7 123.11 L508.1 121.79 L508.5 120.51 L508.9 119.27 L509.3 118.07 L509.7 116.89 L510.1 115.75 L510.5 114.64 L510.9 113.56 L511.3 112.51 L511.7 111.48 L512.1 110.48 L512.5 109.5 L512.9 108.55 L513.3 107.61 L513.7 106.7 L514.1 105.8 L514.5 104.92 L514.9 104.05 L515.3 103.2 L515.7 102.36 L516.1 101.53 L516.5 100.72 L516.9 99.92 L517.3 99.13 L517.7 98.36 L518.1 97.61 L518.5 96.86 L518.9 96.13 L519.3 95.42 L519.7 94.72 L520.1 94.03 L520.5 93.36 L520.9 92.71 L521.3 92.07 L521.7 91.44 L522.1 90.83 L522.5 90.23 L522.9 89.65 L523.3 89.09 L523.7 88.54 L524.1 88 L524.5 87.49 L524.9 86.98 L525.3 86.5 L525.7 86.03 L526.1 85.57 L526.5 85.13 L526.9 84.71 L527.3 84.31 L527.7 83.92 L528.1 83.56 L528.5 83.21 L528.9 82.88 L529.3 82.57 L529.7 82.28 L530.1 82.01 L530.5 81.77 L530.9 81.54 L531.3 81.34 L531.7 81.17 L532.1 81.01 L532.5 80.88 L532.9 80.78 L533.3 80.7 L533.7 80.64 L534.1 80.62 L534.5 80.61 L534.9 80.64 L535.3 80.7 L535.7 80.78 L536.1 80.89 L536.5 81.03 L536.9 81.2 L537.3 81.41 L537.7 81.64 L538.1 81.9 L538.5 82.2 L538.9 82.53 L539.3 82.89 L539.7 83.29 L540.1 83.71 L540.5 84.17 L540.9 84.65 L541.3 85.16 L541.7 85.71 L542.1 86.28 L542.5 86.87 L542.9 87.5 L543.3 88.15 L543.7 88.82 L544.1 89.52 L544.5 90.24 L544.9 90.98 L545.3 91.75 L545.7 92.54 L546.1 93.34 L546.5 94.17 L546.9 95.02 L547.3 95.88 L547.7 96.77 L548.1 97.67 L548.5 98.59 L548.9 99.52 L549.3 100.47 L549.7 101.43 L550.1 102.4 L550.5 103.39 L550.9 104.39 L551.3 105.41 L551.7 106.43 L552.1 107.46 L552.5 108.51 L552.9 109.56 L553.3 110.63 L553.7 111.7 L554.1 112.79 L554.5 113.88 L554.9 114.98 L555.3 116.1 L555.7 117.22 L556.1 118.34 L556.5 119.48 L556.9 120.63 L557.3 121.78 L557.7 122.94 L558.1 124.1 L558.5 125.27 L558.9 126.45 L559.3 127.64 L559.7 128.83 L560.1 130.03 L560.5 131.23 L560.9 132.44 L561.3 133.65 L561.7 134.87 L562.1 136.09 L562.5 137.32 L562.9 138.55 L563.3 139.78 L563.7 141.02 L564.1 142.26 L564.5 143.5 L564.9 144.75 L565.3 146 L565.7 147.25 L566.1 148.5 L566.5 149.76 L566.9 151.01 L567.3 152.27 L567.7 153.52 L568.1 154.78 L568.5 156.03 L568.9 157.27 L569.3 158.5 L569.7 159.73 L570.1 160.94 L570.5 162.14 L570.9 163.33 L571.3 164.5 L571.7 165.65 L572.1 166.78 L572.5 167.89 L572.9 168.97 L573.3 170.03 L573.7 171.06 L574.1 172.07 L574.5 173.06 L574.9 174.02 L575.3 174.97 L575.7 175.89 L576.1 176.8 L576.5 177.7 L576.9 178.59 L577.3 179.46 L577.7 180.33 L578.1 181.19 L578.5 182.05 L578.9 182.89 L579.3 183.73 L579.7 184.56 L580.1 185.38 L580.5 186.18 L580.9 186.97 L581.3 187.73 L581.7 188.48 L582.1 189.21 L582.5 189.91 L582.9 190.59 L583.3 191.25 L583.7 191.88 L584.1 192.48 L584.5 193.06 L584.9 193.62 L585.3 194.15 L585.7 194.67 L586.1 195.16 L586.5 195.63 L586.9 196.07 L587.3 196.5 L587.7 196.91 L588.1 197.3 L588.5 197.67 L588.9 198.03 L589.3 198.36 L589.7 198.68 L590.1 198.99 L590.5 199.27 L590.9 199.55 L591.3 199.8 L591.7 200.05 L592.1 200.28 L592.5 200.49 L592.9 200.7 L593.3 200.89 L593.7 201.07 L594.1 201.24 L594.5 201.4 L594.9 201.55 L595.3 201.69 L595.7 201.82 L596.1 201.94 L596.5 202.06 L596.9 202.16 L597.3 202.26 L597.7 202.35 L598.1 202.42 L598.5 202.48 L598.9 202.53 L599.3 202.57 L599.7 202.59 L600.1 202.6 L600.5 202.58 L600.9 202.56 L601.3 202.51 L601.7 202.45 L602.1 202.36 L602.5 202.26 L602.9 202.14 L603.3 201.99 L603.7 201.82 L604.1 201.62 L604.5 201.41 L604.9 201.16 L605.3 200.89 L605.7 200.6 L606.1 200.27 L606.5 199.92 L606.9 199.54 L607.3 199.13 L607.7 198.7 L608.1 198.25 L608.5 197.76 L608.9 197.26 L609.3 196.73 L609.7 196.18 L610.1 195.61 L610.5 195.02 L610.9 194.41 L611.3 193.79 L611.7 193.14 L612.1 192.48 L612.5 191.8 L612.9 191.11 L613.3 190.4 L613.7 189.68 L614.1 188.94 L614.5 188.2 L614.9 187.44 L615.3 186.67 L615.7 185.89 L616.1 185.1 L616.5 184.31 L616.9 183.51 L617.3 182.7 L617.7 181.88 L618.1 181.07 L618.5 180.24 L618.9 179.42 L619.3 178.59 L619.7 177.76 L620.1 176.93 L620.5 176.1 L620.9 175.27 L621.3 174.44 L621.7 173.61" fill="none" stroke="#00FFFF" stroke-width="1.08" stroke-linejoin="round" stroke-linecap="butt"/>
<path d="M389.3 130.99 L389.7 129.4 L390.1 127.83 L390.5 126.29 L390.9 124.78 L391.3 123.3 L391.7 121.85 L392.1 120.42 L392.5 119.03 L392.9 117.66 L393.3 116.32 L393.7 115.01 L394.1 113.73 L394.5 112.47 L394.9 111.24 L395.3 110.03 L395.7 108.85 L396.1 107.7 L396.5 106.57 L396.9 105.46 L397.3 104.38 L397.7 103.33 L398.1 102.29 L398.5 101.29 L398.9 100.3 L399.3 99.34 L399.7 98.4 L400.1 97.48 L400.5 96.59 L400.9 95.71 L401.3 94.86 L401.7 94.03 L402.1 93.22 L402.5 92.43 L402.9 91.67 L403.3 90.92 L403.7 90.19 L404.1 89.48 L404.5 88.79 L404.9 88.11 L405.3 87.46 L405.7 86.83 L406.1 86.21 L406.5 85.61 L406.9 85.03 L407.3 84.46 L407.7 83.91 L408.1 83.38 L408.5 82.86 L408.9 82.36 L409.3 81.87 L409.7 81.4 L410.1 80.95 L410.5 80.51 L410.9 80.09 L411.3 79.69 L411.7 79.31 L412.1 78.94 L412.5 78.6 L412.9 78.27 L413.3 77.96 L413.7 77.68 L414.1 77.41 L414.5 77.16 L414.9 76.94 L415.3 76.73 L415.7 76.55 L416.1 76.39 L416.5 76.25 L416.9 76.14 L417.3 76.05 L417.7 75.98 L418.1 75.94 L418.5 75.92 L418.9 75.93 L419.3 75.96 L419.7 76.01 L420.1 76.09 L420.5 76.2 L420.9 76.32 L421.3 76.48 L421.7 76.65 L422.1 76.84 L422.5 77.06 L422.9 77.3 L423.3 77.56 L423.7 77.85 L424.1 78.15 L424.5 78.48 L424.9 78.82 L425.3 79.19 L425.7 79.58 L426.1 80 L426.5 80.44 L426.9 80.91 L427.3 81.41 L427.7 81.95 L428.1 82.51 L428.5 83.11 L428.9 83.75 L429.3 84.42 L429.7 85.14 L430.1 85.89 L430.5 86.69 L430.9 87.53 L431.3 88.41 L431.7 89.32 L432.1 90.27 L432.5 91.25 L432.9 92.25 L433.3 93.28 L433.7 94.32 L434.1 95.38 L434.5 96.46 L434.9 97.54 L435.3 98.63 L435.7 99.73 L436.1 100.82 L436.5 101.92 L436.9 103.02 L437.3 104.12 L437.7 105.22 L438.1 106.33 L438.5 107.45 L438.9 108.57 L439.3 109.71 L439.7 110.85 L440.1 112 L440.5 113.17 L440.9 114.35 L441.3 115.55 L441.7 116.76 L442.1 117.98 L442.5 119.23 L442.9 120.49 L443.3 121.77 L443.7 123.06 L444.1 124.36 L444.5 125.67 L444.9 126.98 L445.3 128.29 L445.7 129.6 L446.1 130.91 L446.5 132.21 L446.9 133.5 L447.3 134.77 L447.7 136.03 L448.1 137.27 L448.5 138.5 L448.9 139.72 L449.3 140.94 L449.7 142.19 L450.1 143.47 L450.5 144.81 L450.9 146.21 L451.3 147.68 L451.7 149.26 L452.1 150.93 L452.5 152.7 L452.9 154.53 L453.3 156.36 L453.7 158.17 L454.1 159.9 L454.5 161.52 L454.9 163.04 L455.3 164.47 L455.7 165.83 L456.1 167.11 L456.5 168.34 L456.9 169.53 L457.3 170.68 L457.7 171.81 L458.1 172.93 L458.5 174.05 L458.9 175.16 L459.3 176.25 L459.7 177.33 L460.1 178.4 L460.5 179.44 L460.9 180.47 L461.3 181.48 L461.7 182.46 L462.1 183.42 L462.5 184.34 L462.9 185.24 L463.3 186.11 L463.7 186.94 L464.1 187.73 L464.5 188.49 L464.9 189.2 L465.3 189.88 L465.7 190.5 L466.1 191.09 L466.5 191.63 L466.9 192.13 L467.3 192.59 L467.7 193.02 L468.1 193.41 L468.5 193.76 L468.9 194.08 L469.3 194.37 L469.7 194.63 L470.1 194.86 L470.5 195.06 L470.9 195.24 L471.3 195.4 L471.7 195.53 L472.1 195.65 L472.5 195.74 L472.9 195.82 L473.3 195.88 L473.7 195.93 L474.1 195.97 L474.5 195.99 L474.9 196.01 L475.3 196.01 L475.7 196.01 L476.1 196 L476.5 195.98 L476.9 195.94 L477.3 195.9 L477.7 195.84 L478.1 195.76 L478.5 195.67 L478.9 195.57 L479.3 195.45 L479.7 195.31 L480.1 195.15 L480.5 194.98 L480.9 194.78 L481.3 194.57 L481.7 194.34 L482.1 194.08 L482.5 193.81 L482.9 193.52 L483.3 193.21 L483.7 192.87 L484.1 192.52 L484.5 192.14 L484.9 191.74 L485.3 191.31 L485.7 190.87 L486.1 190.4 L486.5 189.91 L486.9 189.39 L487.3 188.85 L487.7 188.28 L488.1 187.69 L488.5 187.08 L488.9 186.44 L489.3 185.77 L489.7 185.07 L490.1 184.35 L490.5 183.6 L490.9 182.83 L491.3 182.02 L491.7 181.19 L492.1 180.33 L492.5 179.44 L492.9 178.52 L493.3 177.57 L493.7 176.59 L494.1 175.58 L494.5 174.54 L494.9 173.47 L495.3 172.37 L495.7 171.24 L496.1 170.07 L496.5 168.87 L496.9 167.64 L497.3 166.37 L497.7 165.06 L498.1 163.71 L498.5 162.32 L498.9 160.89 L499.3 159.41 L499.7 157.89 L500.1 156.3 L500.5 154.65 L500.9 152.92 L501.3 151.1 L501.7 149.18 L502.1 147.17 L502.5 145.09 L502.9 142.98 L503.3 140.87 L503.7 138.79 L504.1 136.77 L504.5 134.84 L504.9 133.04 L505.3 131.39 L505.7 129.93 L506.1 128.59 L506.5 127.35 L506.9 126.13 L507.3 124.91 L507.7 123.69 L508.1 122.46 L508.5 121.23 L508.9 120.01 L509.3 118.78 L509.7 117.56 L510.1 116.34 L510.5 115.14 L510.9 113.94 L511.3 112.75 L511.7 111.58 L512.1 110.42 L512.5 109.27 L512.9 108.15 L513.3 107.05 L513.7 105.97 L514.1 104.92 L514.5 103.9 L514.9 102.91 L515.3 101.95 L515.7 101.02 L516.1 100.13 L516.5 99.28 L516.9 98.46 L517.3 97.69 L517.7 96.95 L518.1 96.24 L518.5 95.56 L518.9 94.9 L519.3 94.27 L519.7 93.66 L520.1 93.06 L520.5 92.47 L520.9 91.9 L521.3 91.33 L521.7 90.77 L522.1 90.21 L522.5 89.64 L522.9 89.08 L523.3 88.52 L523.7 87.96 L524.1 87.4 L524.5 86.85 L524.9 86.3 L525.3 85.76 L525.7 85.23 L526.1 84.7 L526.5 84.18 L526.9 83.68 L527.3 83.18 L527.7 82.7 L528.1 82.23 L528.5 81.77 L528.9 81.33 L529.3 80.91 L529.7 80.5 L530.1 80.11 L530.5 79.74 L530.9 79.39 L531.3 79.06 L531.7 78.76 L532.1 78.47 L532.5 78.22 L532.9 77.98 L533.3 77.78 L533.7 77.6 L534.1 77.45 L534.5 77.33 L534.9 77.24 L535.3 77.18 L535.7 77.15 L536.1 77.16 L536.5 77.19 L536.9 77.26 L537.3 77.36 L537.7 77.5 L538.1 77.66 L538.5 77.86 L538.9 78.09 L539.3 78.36 L539.7 78.66 L540.1 78.99 L540.5 79.35 L540.9 79.75 L541.3 80.18 L541.7 80.65 L542.1 81.14 L542.5 81.68 L542.9 82.24 L543.3 82.84 L543.7 83.48 L544.1 84.15 L544.5 84.85 L544.9 85.59 L545.3 86.35 L545.7 87.15 L546.1 87.98 L546.5 88.84 L546.9 89.72 L547.3 90.63 L547.7 91.57 L548.1 92.54 L548.5 93.53 L548.9 94.54 L549.3 95.57 L549.7 96.63 L550.1 97.71 L550.5 98.81 L550.9 99.93 L551.3 101.06 L551.7 102.22 L552.1 103.39 L552.5 104.57 L552.9 105.77 L553.3 106.99 L553.7 108.22 L554.1 109.46 L554.5 110.71 L554.9 111.97 L555.3 113.24 L555.7 114.52 L556.1 115.81 L556.5 117.11 L556.9 118.41 L557.3 119.71 L557.7 121.03 L558.1 122.34 L558.5 123.66 L558.9 124.98 L559.3 126.29 L559.7 127.61 L560.1 128.93 L560.5 130.25 L560.9 131.56 L561.3 132.87 L561.7 134.18 L562.1 135.48 L562.5 136.77 L562.9 138.06 L563.3 139.34 L563.7 140.62 L564.1 141.9 L564.5 143.17 L564.9 144.46 L565.3 145.75 L565.7 147.05 L566.1 148.36 L566.5 149.69 L566.9 151.03 L567.3 152.38 L567.7 153.74 L568.1 155.11 L568.5 156.48 L568.9 157.84 L569.3 159.2 L569.7 160.54 L570.1 161.87 L570.5 163.19 L570.9 164.48 L571.3 165.76 L571.7 167.02 L572.1 168.27 L572.5 169.49 L572.9 170.7 L573.3 171.89 L573.7 173.06 L574.1 174.21 L574.5 175.34 L574.9 176.45 L575.3 177.54 L575.7 178.61 L576.1 179.66 L576.5 180.69 L576.9 181.7 L577.3 182.68 L577.7 183.65 L578.1 184.59 L578.5 185.51 L578.9 186.4 L579.3 187.27 L579.7 188.12 L580.1 188.95 L580.5 189.75 L580.9 190.52 L581.3 191.28 L581.7 192 L582.1 192.7 L582.5 193.38 L582.9 194.04 L583.3 194.66 L583.7 195.27 L584.1 195.85 L584.5 196.4 L584.9 196.93 L585.3 197.44 L585.7 197.93 L586.1 198.39 L586.5 198.82 L586.9 199.23 L587.3 199.62 L587.7 199.99 L588.1 200.33 L588.5 200.65 L588.9 200.95 L589.3 201.22 L589.7 201.47 L590.1 201.7 L590.5 201.9 L590.9 202.08 L591.3 202.24 L591.7 202.38 L592.1 202.5 L592.5 202.59 L592.9 202.66 L593.3 202.71 L593.7 202.74 L594.1 202.74 L594.5 202.73 L594.9 202.69 L595.3 202.63 L595.7 202.55 L596.1 202.45 L596.5 202.32 L596.9 202.18 L597.3 202.01 L597.7 201.83 L598.1 201.62 L598.5 201.39 L598.9 201.14 L599.3 200.88 L599.7 200.59 L600.1 200.28 L600.5 199.95 L600.9 199.59 L601.3 199.22 L601.7 198.82 L602.1 198.4 L602.5 197.96 L602.9 197.49 L603.3 197 L603.7 196.48 L604.1 195.93 L604.5 195.36 L604.9 194.76 L605.3 194.14 L605.7 193.49 L606.1 192.8 L606.5 192.09 L606.9 191.35 L607.3 190.58 L607.7 189.78 L608.1 188.94 L608.5 188.08 L608.9 187.18 L609.3 186.25 L609.7 185.29 L610.1 184.31 L610.5 183.29 L610.9 182.26 L611.3 181.2 L611.7 180.12 L612.1 179.03 L612.5 177.92 L612.9 176.8 L613.3 175.67 L613.7 174.53 L614.1 173.39 L614.5 172.24 L614.9 171.1 L615.3 169.95 L615.7 168.81 L616.1 167.68 L616.5 166.56 L616.9 165.45 L617.3 164.36 L617.7 163.28 L618.1 162.22 L618.5 161.16 L618.9 160.08 L619.3 158.95 L619.7 157.75 L620.1 156.46 L620.5 155.07 L620.9 153.54 L621.3 151.86 L621.7 150" fill="none" stroke="#FF00FF" stroke-width="1.08" stroke-linejoin="round" stroke-linecap="butt"/>
<path d="M389.3 141.45 L389.7 139.03 L390.1 136.7 L390.5 134.48 L390.9 132.35 L391.3 130.32 L391.7 128.38 L392.1 126.53 L392.5 124.76 L392.9 123.08 L393.3 121.47 L393.7 119.95 L394.1 118.49 L394.5 117.11 L394.9 115.79 L395.3 114.54 L395.7 113.35 L396.1 112.21 L396.5 111.14 L396.9 110.11 L397.3 109.14 L397.7 108.21 L398.1 107.33 L398.5 106.49 L398.9 105.68 L399.3 104.91 L399.7 104.18 L400.1 103.47 L400.5 102.79 L400.9 102.13 L401.3 101.49 L401.7 100.87 L402.1 100.26 L402.5 99.67 L402.9 99.08 L403.3 98.5 L403.7 97.92 L404.1 97.34 L404.5 96.76 L404.9 96.17 L405.3 95.57 L405.7 94.96 L406.1 94.34 L406.5 93.69 L406.9 93.03 L407.3 92.35 L407.7 91.65 L408.1 90.93 L408.5 90.21 L408.9 89.47 L409.3 88.74 L409.7 88 L410.1 87.26 L410.5 86.53 L410.9 85.8 L411.3 85.09 L411.7 84.39 L412.1 83.7 L412.5 83.04 L412.9 82.4 L413.3 81.78 L413.7 81.2 L414.1 80.65 L414.5 80.14 L414.9 79.69 L415.3 79.28 L415.7 78.93 L416.1 78.63 L416.5 78.38 L416.9 78.18 L417.3 78 L417.7 77.85 L418.1 77.72 L418.5 77.61 L418.9 77.5 L419.3 77.39 L419.7 77.3 L420.1 77.23 L420.5 77.17 L420.9 77.15 L421.3 77.17 L421.7 77.24 L422.1 77.35 L422.5 77.53 L422.9 77.75 L423.3 78.03 L423.7 78.36 L424.1 78.73 L424.5 79.14 L424.9 79.59 L425.3 80.07 L425.7 80.58 L426.1 81.12 L426.5 81.69 L426.9 82.28 L427.3 82.88 L427.7 83.51 L428.1 84.15 L428.5 84.8 L428.9 85.47 L429.3 86.17 L429.7 86.88 L430.1 87.61 L430.5 88.37 L430.9 89.14 L431.3 89.94 L431.7 90.77 L432.1 91.62 L432.5 92.5 L432.9 93.4 L433.3 94.33 L433.7 95.29 L434.1 96.29 L434.5 97.31 L434.9 98.35 L435.3 99.41 L435.7 100.47 L436.1 101.54 L436.5 102.6 L436.9 103.66 L437.3 104.72 L437.7 105.77 L438.1 106.83 L438.5 107.9 L438.9 108.96 L439.3 110.04 L439.7 111.12 L440.1 112.21 L440.5 113.32 L440.9 114.44 L441.3 115.57 L441.7 116.72 L442.1 117.9 L442.5 119.09 L442.9 120.3 L443.3 121.54 L443.7 122.79 L444.1 124.06 L444.5 125.34 L444.9 126.63 L445.3 127.93 L445.7 129.23 L446.1 130.52 L446.5 131.81 L446.9 133.1 L447.3 134.38 L447.7 135.64 L448.1 136.88 L448.5 138.11 L448.9 139.33 L449.3 140.56 L449.7 141.81 L450.1 143.09 L450.5 144.43 L450.9 145.84 L451.3 147.33 L451.7 148.93 L452.1 150.63 L452.5 152.43 L452.9 154.28 L453.3 156.13 L453.7 157.93 L454.1 159.64 L454.5 161.23 L454.9 162.71 L455.3 164.11 L455.7 165.43 L456.1 166.69 L456.5 167.9 L456.9 169.07 L457.3 170.22 L457.7 171.36 L458.1 172.49 L458.5 173.62 L458.9 174.73 L459.3 175.84 L459.7 176.93 L460.1 178 L460.5 179.05 L460.9 180.09 L461.3 181.1 L461.7 182.08 L462.1 183.03 L462.5 183.95 L462.9 184.84 L463.3 185.69 L463.7 186.51 L464.1 187.28 L464.5 188.01 L464.9 188.7 L465.3 189.33 L465.7 189.93 L466.1 190.47 L466.5 190.98 L466.9 191.44 L467.3 191.87 L467.7 192.25 L468.1 192.61 L468.5 192.93 L468.9 193.22 L469.3 193.48 L469.7 193.71 L470.1 193.92 L470.5 194.1 L470.9 194.26 L471.3 194.4 L471.7 194.53 L472.1 194.63 L472.5 194.73 L472.9 194.81 L473.3 194.88 L473.7 194.94 L474.1 194.98 L474.5 195.02 L474.9 195.05 L475.3 195.06 L475.7 195.06 L476.1 195.05 L476.5 195.02 L476.9 194.99 L477.3 194.93 L477.7 194.87 L478.1 194.78 L478.5 194.69 L478.9 194.57 L479.3 194.44 L479.7 194.3 L480.1 194.14 L480.5 193.96 L480.9 193.76 L481.3 193.55 L481.7 193.31 L482.1 193.06 L482.5 192.79 L482.9 192.5 L483.3 192.19 L483.7 191.86 L484.1 191.5 L484.5 191.13 L484.9 190.74 L485.3 190.32 L485.7 189.88 L486.1 189.42 L486.5 188.93 L486.9 188.42 L487.3 187.89 L487.7 187.34 L488.1 186.75 L488.5 186.15 L488.9 185.51 L489.3 184.86 L489.7 184.17 L490.1 183.46 L490.5 182.72 L490.9 181.96 L491.3 181.16 L491.7 180.34 L492.1 179.49 L492.5 178.61 L492.9 177.7 L493.3 176.75 L493.7 175.78 L494.1 174.77 L494.5 173.72 L494.9 172.64 L495.3 171.52 L495.7 170.35 L496.1 169.15 L496.5 167.9 L496.9 166.61 L497.3 165.29 L497.7 163.94 L498.1 162.57 L498.5 161.17 L498.9 159.75 L499.3 158.32 L499.7 156.88 L500.1 155.39 L500.5 153.85 L500.9 152.24 L501.3 150.55 L501.7 148.76 L502.1 146.87 L502.5 144.9 L502.9 142.89 L503.3 140.86 L503.7 138.86 L504.1 136.91 L504.5 135.04 L504.9 133.28 L505.3 131.67 L505.7 130.23 L506.1 128.9 L506.5 127.63 L506.9 126.36 L507.3 125.06 L507.7 123.73 L508.1 122.36 L508.5 120.98 L508.9 119.58 L509.3 118.17 L509.7 116.75 L510.1 115.33 L510.5 113.92 L510.9 112.52 L511.3 111.14 L511.7 109.78 L512.1 108.45 L512.5 107.14 L512.9 105.88 L513.3 104.66 L513.7 103.48 L514.1 102.36 L514.5 101.29 L514.9 100.29 L515.3 99.35 L515.7 98.48 L516.1 97.66 L516.5 96.9 L516.9 96.18 L517.3 95.51 L517.7 94.88 L518.1 94.28 L518.5 93.72 L518.9 93.18 L519.3 92.66 L519.7 92.16 L520.1 91.67 L520.5 91.19 L520.9 90.72 L521.3 90.24 L521.7 89.77 L522.1 89.3 L522.5 88.83 L522.9 88.36 L523.3 87.89 L523.7 87.42 L524.1 86.95 L524.5 86.47 L524.9 85.99 L525.3 85.5 L525.7 85.01 L526.1 84.51 L526.5 84 L526.9 83.49 L527.3 82.97 L527.7 82.43 L528.1 81.89 L528.5 81.34 L528.9 80.79 L529.3 80.24 L529.7 79.71 L530.1 79.21 L530.5 78.72 L530.9 78.28 L531.3 77.87 L531.7 77.5 L532.1 77.16 L532.5 76.86 L532.9 76.58 L533.3 76.34 L533.7 76.13 L534.1 75.94 L534.5 75.77 L534.9 75.64 L535.3 75.53 L535.7 75.45 L536.1 75.4 L536.5 75.38 L536.9 75.4 L537.3 75.46 L537.7 75.55 L538.1 75.69 L538.5 75.86 L538.9 76.08 L539.3 76.35 L539.7 76.66 L540.1 77.03 L540.5 77.44 L540.9 77.91 L541.3 78.43 L541.7 79.01 L542.1 79.65 L542.5 80.34 L542.9 81.08 L543.3 81.86 L543.7 82.67 L544.1 83.49 L544.5 84.32 L544.9 85.15 L545.3 85.96 L545.7 86.75 L546.1 87.55 L546.5 88.39 L546.9 89.28 L547.3 90.26 L547.7 91.36 L548.1 92.56 L548.5 93.84 L548.9 95.16 L549.3 96.52 L549.7 97.87 L550.1 99.2 L550.5 100.48 L550.9 101.68 L551.3 102.82 L551.7 103.92 L552.1 104.99 L552.5 106.05 L552.9 107.12 L553.3 108.21 L553.7 109.33 L554.1 110.48 L554.5 111.65 L554.9 112.84 L555.3 114.05 L555.7 115.28 L556.1 116.52 L556.5 117.78 L556.9 119.05 L557.3 120.33 L557.7 121.62 L558.1 122.91 L558.5 124.21 L558.9 125.5 L559.3 126.8 L559.7 128.1 L560.1 129.39 L560.5 130.67 L560.9 131.95 L561.3 133.21 L561.7 134.46 L562.1 135.7 L562.5 136.92 L562.9 138.13 L563.3 139.32 L563.7 140.5 L564.1 141.68 L564.5 142.87 L564.9 144.07 L565.3 145.29 L565.7 146.54 L566.1 147.82 L566.5 149.14 L566.9 150.51 L567.3 151.91 L567.7 153.32 L568.1 154.75 L568.5 156.18 L568.9 157.61 L569.3 159 L569.7 160.37 L570.1 161.7 L570.5 162.99 L570.9 164.25 L571.3 165.47 L571.7 166.67 L572.1 167.83 L572.5 168.96 L572.9 170.07 L573.3 171.16 L573.7 172.22 L574.1 173.27 L574.5 174.29 L574.9 175.31 L575.3 176.3 L575.7 177.29 L576.1 178.26 L576.5 179.22 L576.9 180.16 L577.3 181.09 L577.7 182 L578.1 182.89 L578.5 183.76 L578.9 184.62 L579.3 185.45 L579.7 186.26 L580.1 187.05 L580.5 187.82 L580.9 188.57 L581.3 189.29 L581.7 189.99 L582.1 190.66 L582.5 191.31 L582.9 191.93 L583.3 192.54 L583.7 193.11 L584.1 193.67 L584.5 194.2 L584.9 194.7 L585.3 195.19 L585.7 195.65 L586.1 196.08 L586.5 196.5 L586.9 196.89 L587.3 197.25 L587.7 197.6 L588.1 197.92 L588.5 198.21 L588.9 198.49 L589.3 198.74 L589.7 198.97 L590.1 199.17 L590.5 199.36 L590.9 199.52 L591.3 199.65 L591.7 199.77 L592.1 199.86 L592.5 199.93 L592.9 199.97 L593.3 200 L593.7 200 L594.1 199.97 L594.5 199.93 L594.9 199.86 L595.3 199.77 L595.7 199.66 L596.1 199.53 L596.5 199.37 L596.9 199.19 L597.3 198.98 L597.7 198.76 L598.1 198.51 L598.5 198.24 L598.9 197.95 L599.3 197.63 L599.7 197.28 L600.1 196.9 L600.5 196.49 L600.9 196.04 L601.3 195.56 L601.7 195.03 L602.1 194.47 L602.5 193.85 L602.9 193.2 L603.3 192.49 L603.7 191.73 L604.1 190.93 L604.5 190.09 L604.9 189.22 L605.3 188.3 L605.7 187.36 L606.1 186.4 L606.5 185.41 L606.9 184.4 L607.3 183.37 L607.7 182.33 L608.1 181.28 L608.5 180.22 L608.9 179.15 L609.3 178.08 L609.7 177.01 L610.1 175.93 L610.5 174.86 L610.9 173.79 L611.3 172.74 L611.7 171.69 L612.1 170.65 L612.5 169.63 L612.9 168.62 L613.3 167.64 L613.7 166.67 L614.1 165.73 L614.5 164.82 L614.9 163.92 L615.3 163.04 L615.7 162.17 L616.1 161.31 L616.5 160.43 L616.9 159.56 L617.3 158.66 L617.7 157.75 L618.1 156.81 L618.5 155.84 L618.9 154.83 L619.3 153.77 L619.7 152.67 L620.1 151.51 L620.5 150.29 L620.9 149 L621.3 147.64 L621.7 146.2" fill="none" stroke="#000000" stroke-width="1.08" stroke-linejoin="round" stroke-linecap="butt"/>
<path d="M389.3 139.5 L389.7 137.4 L390.1 135.38 L390.5 133.43 L390.9 131.54 L391.3 129.73 L391.7 127.98 L392.1 126.29 L392.5 124.67 L392.9 123.11 L393.3 121.61 L393.7 120.17 L394.1 118.79 L394.5 117.45 L394.9 116.18 L395.3 114.95 L395.7 113.77 L396.1 112.64 L396.5 111.55 L396.9 110.51 L397.3 109.51 L397.7 108.55 L398.1 107.63 L398.5 106.75 L398.9 105.9 L399.3 105.08 L399.7 104.3 L400.1 103.55 L400.5 102.82 L400.9 102.12 L401.3 101.44 L401.7 100.78 L402.1 100.14 L402.5 99.51 L402.9 98.89 L403.3 98.28 L403.7 97.68 L404.1 97.08 L404.5 96.48 L404.9 95.87 L405.3 95.26 L405.7 94.64 L406.1 94.01 L406.5 93.37 L406.9 92.71 L407.3 92.03 L407.7 91.34 L408.1 90.63 L408.5 89.91 L408.9 89.19 L409.3 88.46 L409.7 87.72 L410.1 86.99 L410.5 86.26 L410.9 85.53 L411.3 84.81 L411.7 84.1 L412.1 83.4 L412.5 82.72 L412.9 82.05 L413.3 81.4 L413.7 80.78 L414.1 80.19 L414.5 79.64 L414.9 79.14 L415.3 78.69 L415.7 78.29 L416.1 77.96 L416.5 77.68 L416.9 77.45 L417.3 77.25 L417.7 77.09 L418.1 76.95 L418.5 76.83 L418.9 76.71 L419.3 76.6 L419.7 76.5 L420.1 76.43 L420.5 76.37 L420.9 76.35 L421.3 76.37 L421.7 76.44 L422.1 76.56 L422.5 76.73 L422.9 76.96 L423.3 77.25 L423.7 77.58 L424.1 77.95 L424.5 78.37 L424.9 78.82 L425.3 79.31 L425.7 79.83 L426.1 80.38 L426.5 80.95 L426.9 81.55 L427.3 82.17 L427.7 82.8 L428.1 83.44 L428.5 84.11 L428.9 84.79 L429.3 85.49 L429.7 86.21 L430.1 86.96 L430.5 87.72 L430.9 88.51 L431.3 89.32 L431.7 90.15 L432.1 91.02 L432.5 91.91 L432.9 92.82 L433.3 93.77 L433.7 94.74 L434.1 95.75 L434.5 96.78 L434.9 97.84 L435.3 98.91 L435.7 99.99 L436.1 101.07 L436.5 102.15 L436.9 103.22 L437.3 104.29 L437.7 105.37 L438.1 106.44 L438.5 107.51 L438.9 108.59 L439.3 109.68 L439.7 110.78 L440.1 111.89 L440.5 113.01 L440.9 114.14 L441.3 115.29 L441.7 116.46 L442.1 117.65 L442.5 118.86 L442.9 120.09 L443.3 121.35 L443.7 122.62 L444.1 123.91 L444.5 125.21 L444.9 126.52 L445.3 127.83 L445.7 129.15 L446.1 130.46 L446.5 131.77 L446.9 133.07 L447.3 134.37 L447.7 135.64 L448.1 136.91 L448.5 138.15 L448.9 139.38 L449.3 140.62 L449.7 141.88 L450.1 143.18 L450.5 144.53 L450.9 145.96 L451.3 147.47 L451.7 149.09 L452.1 150.82 L452.5 152.65 L452.9 154.53 L453.3 156.41 L453.7 158.25 L454.1 159.98 L454.5 161.59 L454.9 163.1 L455.3 164.52 L455.7 165.85 L456.1 167.13 L456.5 168.35 L456.9 169.53 L457.3 170.69 L457.7 171.84 L458.1 172.99 L458.5 174.13 L458.9 175.26 L459.3 176.38 L459.7 177.48 L460.1 178.57 L460.5 179.64 L460.9 180.68 L461.3 181.71 L461.7 182.7 L462.1 183.67 L462.5 184.6 L462.9 185.51 L463.3 186.37 L463.7 187.2 L464.1 187.98 L464.5 188.72 L464.9 189.42 L465.3 190.06 L465.7 190.66 L466.1 191.22 L466.5 191.73 L466.9 192.2 L467.3 192.63 L467.7 193.03 L468.1 193.38 L468.5 193.71 L468.9 194 L469.3 194.27 L469.7 194.5 L470.1 194.71 L470.5 194.9 L470.9 195.06 L471.3 195.2 L471.7 195.33 L472.1 195.44 L472.5 195.53 L472.9 195.61 L473.3 195.68 L473.7 195.74 L474.1 195.79 L474.5 195.83 L474.9 195.85 L475.3 195.87 L475.7 195.87 L476.1 195.85 L476.5 195.83 L476.9 195.79 L477.3 195.74 L477.7 195.67 L478.1 195.58 L478.5 195.49 L478.9 195.37 L479.3 195.24 L479.7 195.09 L480.1 194.93 L480.5 194.75 L480.9 194.55 L481.3 194.33 L481.7 194.09 L482.1 193.84 L482.5 193.56 L482.9 193.27 L483.3 192.95 L483.7 192.62 L484.1 192.26 L484.5 191.88 L484.9 191.48 L485.3 191.06 L485.7 190.61 L486.1 190.15 L486.5 189.65 L486.9 189.14 L487.3 188.6 L487.7 188.04 L488.1 187.45 L488.5 186.83 L488.9 186.19 L489.3 185.52 L489.7 184.83 L490.1 184.11 L490.5 183.36 L490.9 182.59 L491.3 181.78 L491.7 180.95 L492.1 180.09 L492.5 179.19 L492.9 178.27 L493.3 177.32 L493.7 176.33 L494.1 175.3 L494.5 174.24 L494.9 173.14 L495.3 172 L495.7 170.82 L496.1 169.6 L496.5 168.33 L496.9 167.02 L497.3 165.68 L497.7 164.31 L498.1 162.92 L498.5 161.5 L498.9 160.07 L499.3 158.62 L499.7 157.16 L500.1 155.66 L500.5 154.11 L500.9 152.48 L501.3 150.77 L501.7 148.95 L502.1 147.03 L502.5 145.02 L502.9 142.97 L503.3 140.91 L503.7 138.87 L504.1 136.88 L504.5 134.98 L504.9 133.2 L505.3 131.58 L505.7 130.13 L506.1 128.8 L506.5 127.53 L506.9 126.27 L507.3 124.98 L507.7 123.65 L508.1 122.29 L508.5 120.91 L508.9 119.51 L509.3 118.1 L509.7 116.69 L510.1 115.28 L510.5 113.88 L510.9 112.49 L511.3 111.12 L511.7 109.77 L512.1 108.45 L512.5 107.16 L512.9 105.91 L513.3 104.69 L513.7 103.51 L514.1 102.39 L514.5 101.31 L514.9 100.29 L515.3 99.33 L515.7 98.43 L516.1 97.59 L516.5 96.8 L516.9 96.06 L517.3 95.36 L517.7 94.69 L518.1 94.07 L518.5 93.48 L518.9 92.91 L519.3 92.37 L519.7 91.84 L520.1 91.33 L520.5 90.84 L520.9 90.34 L521.3 89.86 L521.7 89.38 L522.1 88.9 L522.5 88.42 L522.9 87.94 L523.3 87.47 L523.7 86.99 L524.1 86.51 L524.5 86.03 L524.9 85.55 L525.3 85.06 L525.7 84.57 L526.1 84.07 L526.5 83.56 L526.9 83.05 L527.3 82.52 L527.7 81.99 L528.1 81.44 L528.5 80.89 L528.9 80.33 L529.3 79.77 L529.7 79.22 L530.1 78.69 L530.5 78.18 L530.9 77.7 L531.3 77.27 L531.7 76.86 L532.1 76.5 L532.5 76.16 L532.9 75.87 L533.3 75.6 L533.7 75.36 L534.1 75.15 L534.5 74.97 L534.9 74.82 L535.3 74.7 L535.7 74.62 L536.1 74.56 L536.5 74.54 L536.9 74.56 L537.3 74.62 L537.7 74.71 L538.1 74.85 L538.5 75.03 L538.9 75.26 L539.3 75.53 L539.7 75.86 L540.1 76.23 L540.5 76.65 L540.9 77.13 L541.3 77.67 L541.7 78.25 L542.1 78.9 L542.5 79.61 L542.9 80.36 L543.3 81.15 L543.7 81.96 L544.1 82.79 L544.5 83.63 L544.9 84.46 L545.3 85.28 L545.7 86.08 L546.1 86.89 L546.5 87.73 L546.9 88.63 L547.3 89.63 L547.7 90.74 L548.1 91.96 L548.5 93.26 L548.9 94.61 L549.3 95.98 L549.7 97.36 L550.1 98.71 L550.5 100 L550.9 101.22 L551.3 102.38 L551.7 103.49 L552.1 104.57 L552.5 105.65 L552.9 106.73 L553.3 107.83 L553.7 108.96 L554.1 110.12 L554.5 111.31 L554.9 112.52 L555.3 113.74 L555.7 114.99 L556.1 116.25 L556.5 117.53 L556.9 118.82 L557.3 120.12 L557.7 121.42 L558.1 122.73 L558.5 124.05 L558.9 125.37 L559.3 126.68 L559.7 128 L560.1 129.31 L560.5 130.61 L560.9 131.9 L561.3 133.18 L561.7 134.45 L562.1 135.71 L562.5 136.94 L562.9 138.16 L563.3 139.37 L563.7 140.56 L564.1 141.76 L564.5 142.96 L564.9 144.17 L565.3 145.41 L565.7 146.68 L566.1 147.98 L566.5 149.32 L566.9 150.7 L567.3 152.12 L567.7 153.56 L568.1 155.02 L568.5 156.47 L568.9 157.91 L569.3 159.33 L569.7 160.72 L570.1 162.06 L570.5 163.37 L570.9 164.64 L571.3 165.88 L571.7 167.08 L572.1 168.25 L572.5 169.4 L572.9 170.52 L573.3 171.62 L573.7 172.7 L574.1 173.75 L574.5 174.79 L574.9 175.82 L575.3 176.83 L575.7 177.84 L576.1 178.83 L576.5 179.8 L576.9 180.77 L577.3 181.71 L577.7 182.64 L578.1 183.56 L578.5 184.45 L578.9 185.32 L579.3 186.18 L579.7 187 L580.1 187.81 L580.5 188.59 L580.9 189.35 L581.3 190.07 L581.7 190.77 L582.1 191.45 L582.5 192.1 L582.9 192.72 L583.3 193.32 L583.7 193.9 L584.1 194.45 L584.5 194.97 L584.9 195.47 L585.3 195.95 L585.7 196.41 L586.1 196.84 L586.5 197.25 L586.9 197.64 L587.3 198.01 L587.7 198.35 L588.1 198.68 L588.5 198.98 L588.9 199.26 L589.3 199.53 L589.7 199.77 L590.1 199.99 L590.5 200.2 L590.9 200.38 L591.3 200.53 L591.7 200.67 L592.1 200.78 L592.5 200.87 L592.9 200.93 L593.3 200.97 L593.7 200.98 L594.1 200.97 L594.5 200.93 L594.9 200.86 L595.3 200.77 L595.7 200.64 L596.1 200.49 L596.5 200.3 L596.9 200.09 L597.3 199.84 L597.7 199.57 L598.1 199.26 L598.5 198.91 L598.9 198.54 L599.3 198.13 L599.7 197.69 L600.1 197.22 L600.5 196.72 L600.9 196.18 L601.3 195.61 L601.7 195.01 L602.1 194.37 L602.5 193.7 L602.9 193 L603.3 192.27 L603.7 191.5 L604.1 190.71 L604.5 189.88 L604.9 189.01 L605.3 188.12 L605.7 187.19 L606.1 186.23 L606.5 185.24 L606.9 184.21 L607.3 183.17 L607.7 182.09 L608.1 181 L608.5 179.9 L608.9 178.78 L609.3 177.66 L609.7 176.54 L610.1 175.42 L610.5 174.3 L610.9 173.19 L611.3 172.1 L611.7 171.02 L612.1 169.97 L612.5 168.94 L612.9 167.93 L613.3 166.97 L613.7 166.04 L614.1 165.15 L614.5 164.28 L614.9 163.45 L615.3 162.62 L615.7 161.79 L616.1 160.95 L616.5 160.09 L616.9 159.2 L617.3 158.27 L617.7 157.29 L618.1 156.24 L618.5 155.13 L618.9 153.93 L619.3 152.64 L619.7 151.25 L620.1 149.74 L620.5 148.11 L620.9 146.35 L621.3 144.45 L621.7 142.39" fill="none" stroke="#FF0000" stroke-width="1.08" stroke-linejoin="round" stroke-linecap="butt"/>
<path d="M389.3 140.52 L389.7 138.29 L390.1 136.15 L390.5 134.08 L390.9 132.1 L391.3 130.2 L391.7 128.37 L392.1 126.62 L392.5 124.94 L392.9 123.33 L393.3 121.78 L393.7 120.3 L394.1 118.88 L394.5 117.52 L394.9 116.22 L395.3 114.98 L395.7 113.78 L396.1 112.64 L396.5 111.55 L396.9 110.5 L397.3 109.49 L397.7 108.53 L398.1 107.6 L398.5 106.71 L398.9 105.86 L399.3 105.03 L399.7 104.24 L400.1 103.47 L400.5 102.73 L400.9 102.01 L401.3 101.31 L401.7 100.63 L402.1 99.96 L402.5 99.3 L402.9 98.66 L403.3 98.02 L403.7 97.39 L404.1 96.77 L404.5 96.14 L404.9 95.52 L405.3 94.89 L405.7 94.25 L406.1 93.61 L406.5 92.95 L406.9 92.29 L407.3 91.6 L407.7 90.91 L408.1 90.2 L408.5 89.48 L408.9 88.76 L409.3 88.02 L409.7 87.29 L410.1 86.55 L410.5 85.82 L410.9 85.08 L411.3 84.35 L411.7 83.63 L412.1 82.92 L412.5 82.22 L412.9 81.53 L413.3 80.86 L413.7 80.21 L414.1 79.59 L414.5 79 L414.9 78.45 L415.3 77.96 L415.7 77.52 L416.1 77.14 L416.5 76.83 L416.9 76.56 L417.3 76.34 L417.7 76.16 L418.1 76 L418.5 75.86 L418.9 75.74 L419.3 75.62 L419.7 75.52 L420.1 75.44 L420.5 75.38 L420.9 75.36 L421.3 75.38 L421.7 75.45 L422.1 75.58 L422.5 75.76 L422.9 75.99 L423.3 76.28 L423.7 76.61 L424.1 77 L424.5 77.42 L424.9 77.88 L425.3 78.38 L425.7 78.91 L426.1 79.47 L426.5 80.05 L426.9 80.65 L427.3 81.28 L427.7 81.92 L428.1 82.58 L428.5 83.25 L428.9 83.95 L429.3 84.66 L429.7 85.39 L430.1 86.15 L430.5 86.92 L430.9 87.72 L431.3 88.55 L431.7 89.4 L432.1 90.27 L432.5 91.18 L432.9 92.11 L433.3 93.07 L433.7 94.06 L434.1 95.08 L434.5 96.14 L434.9 97.21 L435.3 98.3 L435.7 99.4 L436.1 100.5 L436.5 101.59 L436.9 102.69 L437.3 103.77 L437.7 104.86 L438.1 105.95 L438.5 107.04 L438.9 108.14 L439.3 109.25 L439.7 110.36 L440.1 111.49 L440.5 112.63 L440.9 113.78 L441.3 114.95 L441.7 116.14 L442.1 117.34 L442.5 118.58 L442.9 119.83 L443.3 121.11 L443.7 122.4 L444.1 123.72 L444.5 125.04 L444.9 126.37 L445.3 127.71 L445.7 129.05 L446.1 130.39 L446.5 131.72 L446.9 133.04 L447.3 134.36 L447.7 135.65 L448.1 136.93 L448.5 138.19 L448.9 139.44 L449.3 140.69 L449.7 141.97 L450.1 143.28 L450.5 144.66 L450.9 146.1 L451.3 147.64 L451.7 149.28 L452.1 151.05 L452.5 152.92 L452.9 154.84 L453.3 156.76 L453.7 158.63 L454.1 160.4 L454.5 162.04 L454.9 163.57 L455.3 165.01 L455.7 166.37 L456.1 167.66 L456.5 168.9 L456.9 170.1 L457.3 171.27 L457.7 172.44 L458.1 173.6 L458.5 174.76 L458.9 175.9 L459.3 177.04 L459.7 178.16 L460.1 179.26 L460.5 180.35 L460.9 181.41 L461.3 182.45 L461.7 183.47 L462.1 184.45 L462.5 185.4 L462.9 186.32 L463.3 187.2 L463.7 188.04 L464.1 188.84 L464.5 189.6 L464.9 190.3 L465.3 190.96 L465.7 191.57 L466.1 192.14 L466.5 192.66 L466.9 193.14 L467.3 193.58 L467.7 193.98 L468.1 194.34 L468.5 194.67 L468.9 194.97 L469.3 195.24 L469.7 195.48 L470.1 195.69 L470.5 195.88 L470.9 196.04 L471.3 196.19 L471.7 196.31 L472.1 196.42 L472.5 196.52 L472.9 196.6 L473.3 196.67 L473.7 196.73 L474.1 196.78 L474.5 196.82 L474.9 196.85 L475.3 196.86 L475.7 196.86 L476.1 196.85 L476.5 196.82 L476.9 196.78 L477.3 196.72 L477.7 196.65 L478.1 196.57 L478.5 196.47 L478.9 196.35 L479.3 196.22 L479.7 196.07 L480.1 195.9 L480.5 195.72 L480.9 195.51 L481.3 195.29 L481.7 195.05 L482.1 194.79 L482.5 194.51 L482.9 194.21 L483.3 193.89 L483.7 193.55 L484.1 193.19 L484.5 192.81 L484.9 192.4 L485.3 191.97 L485.7 191.52 L486.1 191.04 L486.5 190.54 L486.9 190.02 L487.3 189.47 L487.7 188.9 L488.1 188.3 L488.5 187.67 L488.9 187.02 L489.3 186.35 L489.7 185.64 L490.1 184.91 L490.5 184.15 L490.9 183.36 L491.3 182.54 L491.7 181.7 L492.1 180.82 L492.5 179.92 L492.9 178.98 L493.3 178.01 L493.7 177.01 L494.1 175.96 L494.5 174.88 L494.9 173.77 L495.3 172.6 L495.7 171.4 L496.1 170.15 L496.5 168.86 L496.9 167.53 L497.3 166.16 L497.7 164.77 L498.1 163.35 L498.5 161.91 L498.9 160.46 L499.3 159 L499.7 157.53 L500.1 156.01 L500.5 154.45 L500.9 152.8 L501.3 151.05 L501.7 149.18 L502.1 147.18 L502.5 145.1 L502.9 142.97 L503.3 140.83 L503.7 138.72 L504.1 136.68 L504.5 134.76 L504.9 132.98 L505.3 131.39 L505.7 130.01 L506.1 128.78 L506.5 127.6 L506.9 126.39 L507.3 125.1 L507.7 123.74 L508.1 122.32 L508.5 120.85 L508.9 119.36 L509.3 117.86 L509.7 116.36 L510.1 114.87 L510.5 113.43 L510.9 112.03 L511.3 110.68 L511.7 109.37 L512.1 108.11 L512.5 106.9 L512.9 105.73 L513.3 104.6 L513.7 103.51 L514.1 102.46 L514.5 101.45 L514.9 100.48 L515.3 99.54 L515.7 98.64 L516.1 97.78 L516.5 96.95 L516.9 96.15 L517.3 95.38 L517.7 94.64 L518.1 93.93 L518.5 93.25 L518.9 92.59 L519.3 91.96 L519.7 91.35 L520.1 90.77 L520.5 90.21 L520.9 89.67 L521.3 89.15 L521.7 88.65 L522.1 88.16 L522.5 87.68 L522.9 87.21 L523.3 86.75 L523.7 86.3 L524.1 85.85 L524.5 85.4 L524.9 84.95 L525.3 84.49 L525.7 84.03 L526.1 83.55 L526.5 83.07 L526.9 82.57 L527.3 82.06 L527.7 81.53 L528.1 80.98 L528.5 80.4 L528.9 79.81 L529.3 79.21 L529.7 78.61 L530.1 78.02 L530.5 77.45 L530.9 76.92 L531.3 76.43 L531.7 75.98 L532.1 75.59 L532.5 75.23 L532.9 74.91 L533.3 74.63 L533.7 74.38 L534.1 74.17 L534.5 73.98 L534.9 73.82 L535.3 73.7 L535.7 73.61 L536.1 73.55 L536.5 73.53 L536.9 73.54 L537.3 73.6 L537.7 73.7 L538.1 73.84 L538.5 74.02 L538.9 74.25 L539.3 74.53 L539.7 74.86 L540.1 75.24 L540.5 75.67 L540.9 76.16 L541.3 76.7 L541.7 77.31 L542.1 77.97 L542.5 78.69 L542.9 79.45 L543.3 80.26 L543.7 81.09 L544.1 81.93 L544.5 82.78 L544.9 83.63 L545.3 84.46 L545.7 85.27 L546.1 86.08 L546.5 86.93 L546.9 87.84 L547.3 88.85 L547.7 89.97 L548.1 91.21 L548.5 92.54 L548.9 93.92 L549.3 95.32 L549.7 96.73 L550.1 98.1 L550.5 99.42 L550.9 100.67 L551.3 101.84 L551.7 102.97 L552.1 104.07 L552.5 105.15 L552.9 106.25 L553.3 107.37 L553.7 108.52 L554.1 109.7 L554.5 110.9 L554.9 112.12 L555.3 113.37 L555.7 114.64 L556.1 115.92 L556.5 117.22 L556.9 118.53 L557.3 119.85 L557.7 121.18 L558.1 122.51 L558.5 123.85 L558.9 125.19 L559.3 126.53 L559.7 127.87 L560.1 129.2 L560.5 130.52 L560.9 131.84 L561.3 133.14 L561.7 134.44 L562.1 135.71 L562.5 136.97 L562.9 138.21 L563.3 139.43 L563.7 140.65 L564.1 141.86 L564.5 143.08 L564.9 144.32 L565.3 145.57 L565.7 146.86 L566.1 148.18 L566.5 149.54 L566.9 150.95 L567.3 152.39 L567.7 153.85 L568.1 155.32 L568.5 156.8 L568.9 158.27 L569.3 159.71 L569.7 161.12 L570.1 162.49 L570.5 163.82 L570.9 165.12 L571.3 166.38 L571.7 167.61 L572.1 168.81 L572.5 169.98 L572.9 171.12 L573.3 172.24 L573.7 173.34 L574.1 174.41 L574.5 175.47 L574.9 176.51 L575.3 177.54 L575.7 178.55 L576.1 179.55 L576.5 180.54 L576.9 181.5 L577.3 182.46 L577.7 183.39 L578.1 184.31 L578.5 185.21 L578.9 186.09 L579.3 186.95 L579.7 187.78 L580.1 188.6 L580.5 189.39 L580.9 190.16 L581.3 190.9 L581.7 191.62 L582.1 192.31 L582.5 192.98 L582.9 193.62 L583.3 194.24 L583.7 194.84 L584.1 195.41 L584.5 195.96 L584.9 196.49 L585.3 196.99 L585.7 197.46 L586.1 197.91 L586.5 198.34 L586.9 198.75 L587.3 199.13 L587.7 199.49 L588.1 199.82 L588.5 200.13 L588.9 200.42 L589.3 200.68 L589.7 200.92 L590.1 201.14 L590.5 201.33 L590.9 201.5 L591.3 201.64 L591.7 201.76 L592.1 201.85 L592.5 201.91 L592.9 201.95 L593.3 201.96 L593.7 201.95 L594.1 201.9 L594.5 201.83 L594.9 201.73 L595.3 201.6 L595.7 201.44 L596.1 201.25 L596.5 201.03 L596.9 200.78 L597.3 200.49 L597.7 200.18 L598.1 199.83 L598.5 199.46 L598.9 199.04 L599.3 198.6 L599.7 198.12 L600.1 197.61 L600.5 197.06 L600.9 196.48 L601.3 195.86 L601.7 195.21 L602.1 194.52 L602.5 193.79 L602.9 193.02 L603.3 192.22 L603.7 191.38 L604.1 190.51 L604.5 189.59 L604.9 188.64 L605.3 187.64 L605.7 186.61 L606.1 185.53 L606.5 184.43 L606.9 183.29 L607.3 182.15 L607.7 180.99 L608.1 179.83 L608.5 178.67 L608.9 177.53 L609.3 176.41 L609.7 175.31 L610.1 174.23 L610.5 173.17 L610.9 172.13 L611.3 171.11 L611.7 170.11 L612.1 169.12 L612.5 168.15 L612.9 167.19 L613.3 166.24 L613.7 165.3 L614.1 164.38 L614.5 163.46 L614.9 162.54 L615.3 161.63 L615.7 160.71 L616.1 159.8 L616.5 158.88 L616.9 157.95 L617.3 157.02 L617.7 156.07 L618.1 155.11 L618.5 154.13 L618.9 153.14 L619.3 152.13 L619.7 151.09 L620.1 150.03 L620.5 148.94 L620.9 147.83 L621.3 146.68 L621.7 145.5" fill="none" stroke="#00CD00" stroke-width="1.08" stroke-linejoin="round" stroke-linecap="butt"/>
<path d="M389.3 141 L389.7 139.09 L390.1 137.23 L390.5 135.42 L390.9 133.66 L391.3 131.95 L391.7 130.29 L392.1 128.69 L392.5 127.12 L392.9 125.61 L393.3 124.14 L393.7 122.71 L394.1 121.33 L394.5 119.99 L394.9 118.7 L395.3 117.44 L395.7 116.23 L396.1 115.05 L396.5 113.91 L396.9 112.81 L397.3 111.74 L397.7 110.71 L398.1 109.71 L398.5 108.74 L398.9 107.81 L399.3 106.91 L399.7 106.04 L400.1 105.2 L400.5 104.38 L400.9 103.6 L401.3 102.84 L401.7 102.1 L402.1 101.39 L402.5 100.69 L402.9 100.02 L403.3 99.36 L403.7 98.71 L404.1 98.07 L404.5 97.44 L404.9 96.81 L405.3 96.18 L405.7 95.56 L406.1 94.93 L406.5 94.29 L406.9 93.65 L407.3 92.99 L407.7 92.33 L408.1 91.64 L408.5 90.94 L408.9 90.22 L409.3 89.49 L409.7 88.75 L410.1 88 L410.5 87.24 L410.9 86.48 L411.3 85.71 L411.7 84.95 L412.1 84.2 L412.5 83.45 L412.9 82.72 L413.3 81.99 L413.7 81.29 L414.1 80.6 L414.5 79.93 L414.9 79.29 L415.3 78.68 L415.7 78.09 L416.1 77.54 L416.5 77.02 L416.9 76.54 L417.3 76.1 L417.7 75.71 L418.1 75.36 L418.5 75.06 L418.9 74.82 L419.3 74.62 L419.7 74.48 L420.1 74.39 L420.5 74.35 L420.9 74.36 L421.3 74.42 L421.7 74.52 L422.1 74.67 L422.5 74.86 L422.9 75.1 L423.3 75.38 L423.7 75.7 L424.1 76.06 L424.5 76.45 L424.9 76.89 L425.3 77.36 L425.7 77.86 L426.1 78.4 L426.5 78.97 L426.9 79.57 L427.3 80.2 L427.7 80.86 L428.1 81.55 L428.5 82.27 L428.9 83.01 L429.3 83.78 L429.7 84.57 L430.1 85.38 L430.5 86.22 L430.9 87.07 L431.3 87.95 L431.7 88.85 L432.1 89.76 L432.5 90.69 L432.9 91.63 L433.3 92.6 L433.7 93.57 L434.1 94.56 L434.5 95.56 L434.9 96.57 L435.3 97.6 L435.7 98.63 L436.1 99.68 L436.5 100.75 L436.9 101.82 L437.3 102.91 L437.7 104.02 L438.1 105.14 L438.5 106.27 L438.9 107.41 L439.3 108.57 L439.7 109.74 L440.1 110.93 L440.5 112.14 L440.9 113.35 L441.3 114.59 L441.7 115.83 L442.1 117.1 L442.5 118.38 L442.9 119.67 L443.3 120.98 L443.7 122.3 L444.1 123.63 L444.5 124.96 L444.9 126.3 L445.3 127.65 L445.7 128.99 L446.1 130.33 L446.5 131.66 L446.9 132.99 L447.3 134.31 L447.7 135.62 L448.1 136.91 L448.5 138.18 L448.9 139.45 L449.3 140.74 L449.7 142.04 L450.1 143.39 L450.5 144.8 L450.9 146.28 L451.3 147.85 L451.7 149.53 L452.1 151.32 L452.5 153.22 L452.9 155.16 L453.3 157.11 L453.7 159 L454.1 160.79 L454.5 162.45 L454.9 164.01 L455.3 165.46 L455.7 166.84 L456.1 168.15 L456.5 169.41 L456.9 170.63 L457.3 171.83 L457.7 173.01 L458.1 174.2 L458.5 175.37 L458.9 176.54 L459.3 177.7 L459.7 178.84 L460.1 179.97 L460.5 181.08 L460.9 182.17 L461.3 183.23 L461.7 184.26 L462.1 185.26 L462.5 186.24 L462.9 187.17 L463.3 188.07 L463.7 188.93 L464.1 189.74 L464.5 190.5 L464.9 191.22 L465.3 191.89 L465.7 192.51 L466.1 193.08 L466.5 193.6 L466.9 194.08 L467.3 194.52 L467.7 194.92 L468.1 195.29 L468.5 195.62 L468.9 195.91 L469.3 196.18 L469.7 196.41 L470.1 196.62 L470.5 196.81 L470.9 196.97 L471.3 197.12 L471.7 197.24 L472.1 197.35 L472.5 197.45 L472.9 197.53 L473.3 197.6 L473.7 197.67 L474.1 197.72 L474.5 197.76 L474.9 197.79 L475.3 197.81 L475.7 197.82 L476.1 197.81 L476.5 197.79 L476.9 197.76 L477.3 197.71 L477.7 197.65 L478.1 197.57 L478.5 197.48 L478.9 197.37 L479.3 197.24 L479.7 197.1 L480.1 196.93 L480.5 196.75 L480.9 196.55 L481.3 196.33 L481.7 196.09 L482.1 195.83 L482.5 195.54 L482.9 195.24 L483.3 194.91 L483.7 194.56 L484.1 194.18 L484.5 193.79 L484.9 193.37 L485.3 192.92 L485.7 192.45 L486.1 191.96 L486.5 191.44 L486.9 190.9 L487.3 190.33 L487.7 189.74 L488.1 189.12 L488.5 188.48 L488.9 187.81 L489.3 187.11 L489.7 186.39 L490.1 185.64 L490.5 184.87 L490.9 184.07 L491.3 183.24 L491.7 182.38 L492.1 181.5 L492.5 180.59 L492.9 179.65 L493.3 178.68 L493.7 177.67 L494.1 176.63 L494.5 175.54 L494.9 174.42 L495.3 173.25 L495.7 172.03 L496.1 170.76 L496.5 169.45 L496.9 168.09 L497.3 166.69 L497.7 165.26 L498.1 163.81 L498.5 162.33 L498.9 160.85 L499.3 159.36 L499.7 157.85 L500.1 156.32 L500.5 154.72 L500.9 153.05 L501.3 151.28 L501.7 149.4 L502.1 147.39 L502.5 145.3 L502.9 143.15 L503.3 141 L503.7 138.87 L504.1 136.8 L504.5 134.83 L504.9 133 L505.3 131.35 L505.7 129.89 L506.1 128.58 L506.5 127.36 L506.9 126.15 L507.3 124.91 L507.7 123.65 L508.1 122.37 L508.5 121.07 L508.9 119.77 L509.3 118.47 L509.7 117.17 L510.1 115.88 L510.5 114.61 L510.9 113.36 L511.3 112.14 L511.7 110.95 L512.1 109.79 L512.5 108.66 L512.9 107.55 L513.3 106.47 L513.7 105.42 L514.1 104.39 L514.5 103.4 L514.9 102.42 L515.3 101.48 L515.7 100.55 L516.1 99.66 L516.5 98.79 L516.9 97.94 L517.3 97.12 L517.7 96.32 L518.1 95.54 L518.5 94.79 L518.9 94.06 L519.3 93.35 L519.7 92.67 L520.1 92.01 L520.5 91.36 L520.9 90.74 L521.3 90.14 L521.7 89.56 L522.1 89 L522.5 88.46 L522.9 87.94 L523.3 87.43 L523.7 86.94 L524.1 86.45 L524.5 85.97 L524.9 85.5 L525.3 85.04 L525.7 84.57 L526.1 84.1 L526.5 83.63 L526.9 83.16 L527.3 82.67 L527.7 82.18 L528.1 81.68 L528.5 81.16 L528.9 80.62 L529.3 80.07 L529.7 79.49 L530.1 78.9 L530.5 78.3 L530.9 77.69 L531.3 77.08 L531.7 76.48 L532.1 75.9 L532.5 75.34 L532.9 74.82 L533.3 74.33 L533.7 73.88 L534.1 73.49 L534.5 73.15 L534.9 72.87 L535.3 72.66 L535.7 72.5 L536.1 72.39 L536.5 72.34 L536.9 72.35 L537.3 72.42 L537.7 72.54 L538.1 72.71 L538.5 72.93 L538.9 73.21 L539.3 73.53 L539.7 73.91 L540.1 74.34 L540.5 74.81 L540.9 75.34 L541.3 75.91 L541.7 76.52 L542.1 77.19 L542.5 77.89 L542.9 78.64 L543.3 79.41 L543.7 80.21 L544.1 81.03 L544.5 81.86 L544.9 82.69 L545.3 83.53 L545.7 84.36 L546.1 85.21 L546.5 86.11 L546.9 87.07 L547.3 88.12 L547.7 89.28 L548.1 90.54 L548.5 91.87 L548.9 93.26 L549.3 94.68 L549.7 96.09 L550.1 97.47 L550.5 98.81 L550.9 100.07 L551.3 101.27 L551.7 102.43 L552.1 103.56 L552.5 104.67 L552.9 105.8 L553.3 106.95 L553.7 108.12 L554.1 109.32 L554.5 110.54 L554.9 111.78 L555.3 113.04 L555.7 114.31 L556.1 115.6 L556.5 116.91 L556.9 118.23 L557.3 119.56 L557.7 120.89 L558.1 122.23 L558.5 123.58 L558.9 124.93 L559.3 126.29 L559.7 127.64 L560.1 128.99 L560.5 130.34 L560.9 131.68 L561.3 133.02 L561.7 134.34 L562.1 135.66 L562.5 136.96 L562.9 138.25 L563.3 139.53 L563.7 140.81 L564.1 142.08 L564.5 143.35 L564.9 144.63 L565.3 145.93 L565.7 147.24 L566.1 148.57 L566.5 149.93 L566.9 151.31 L567.3 152.72 L567.7 154.14 L568.1 155.57 L568.5 157 L568.9 158.43 L569.3 159.84 L569.7 161.24 L570.1 162.62 L570.5 163.97 L570.9 165.3 L571.3 166.6 L571.7 167.88 L572.1 169.14 L572.5 170.38 L572.9 171.59 L573.3 172.78 L573.7 173.95 L574.1 175.1 L574.5 176.22 L574.9 177.32 L575.3 178.39 L575.7 179.45 L576.1 180.48 L576.5 181.49 L576.9 182.47 L577.3 183.43 L577.7 184.37 L578.1 185.29 L578.5 186.18 L578.9 187.05 L579.3 187.9 L579.7 188.72 L580.1 189.53 L580.5 190.31 L580.9 191.06 L581.3 191.8 L581.7 192.51 L582.1 193.2 L582.5 193.86 L582.9 194.51 L583.3 195.13 L583.7 195.72 L584.1 196.3 L584.5 196.85 L584.9 197.38 L585.3 197.89 L585.7 198.37 L586.1 198.83 L586.5 199.27 L586.9 199.69 L587.3 200.08 L587.7 200.46 L588.1 200.8 L588.5 201.13 L588.9 201.43 L589.3 201.72 L589.7 201.97 L590.1 202.21 L590.5 202.42 L590.9 202.6 L591.3 202.75 L591.7 202.87 L592.1 202.96 L592.5 203.02 L592.9 203.04 L593.3 203.03 L593.7 202.98 L594.1 202.89 L594.5 202.76 L594.9 202.59 L595.3 202.37 L595.7 202.11 L596.1 201.81 L596.5 201.46 L596.9 201.05 L597.3 200.61 L597.7 200.11 L598.1 199.57 L598.5 198.98 L598.9 198.36 L599.3 197.69 L599.7 196.99 L600.1 196.25 L600.5 195.47 L600.9 194.66 L601.3 193.82 L601.7 192.95 L602.1 192.05 L602.5 191.12 L602.9 190.17 L603.3 189.19 L603.7 188.19 L604.1 187.17 L604.5 186.13 L604.9 185.07 L605.3 184 L605.7 182.92 L606.1 181.83 L606.5 180.72 L606.9 179.61 L607.3 178.5 L607.7 177.38 L608.1 176.27 L608.5 175.15 L608.9 174.04 L609.3 172.94 L609.7 171.84 L610.1 170.75 L610.5 169.68 L610.9 168.62 L611.3 167.58 L611.7 166.56 L612.1 165.55 L612.5 164.57 L612.9 163.6 L613.3 162.66 L613.7 161.74 L614.1 160.83 L614.5 159.95 L614.9 159.09 L615.3 158.25 L615.7 157.43 L616.1 156.63 L616.5 155.86 L616.9 155.1 L617.3 154.37 L617.7 153.66 L618.1 152.97 L618.5 152.31 L618.9 151.66 L619.3 151.04 L619.7 150.44 L620.1 149.87 L620.5 149.31 L620.9 148.78 L621.3 148.28 L621.7 147.8" fill="none" stroke="#0000FF" stroke-width="1.08" stroke-linejoin="round" stroke-linecap="butt"/>
</g>
<rect x="380" y="12.5" width="251" height="251.5" fill="none" stroke="#000000" stroke-width="0.75"/>
<line x1="390.3" y1="264" x2="619.5" y2="264" stroke="#000000" stroke-width="0.75"/>
<line x1="380" y1="262.49" x2="380" y2="72.5" stroke="#000000" stroke-width="0.75"/>
<line x1="390.3" y1="264" x2="390.3" y2="271.2" stroke="#000000" stroke-width="0.75"/>
<text x="390.3" y="287.5" text-anchor="middle">−2</text>
<line x1="447.6" y1="264" x2="447.6" y2="271.2" stroke="#000000" stroke-width="0.75"/>
<g>
<text x="441.52" y="287.5" text-anchor="start">−</text>
<path d="M284 0L284 -505L101 -505L101 -568C204 -568 294 -590 315 -709L373 -709L373 0Z" transform="translate(447.75 287.5) scale(0.01067)" fill="#000"/>
</g>
<line x1="504.9" y1="264" x2="504.9" y2="271.2" stroke="#000000" stroke-width="0.75"/>
<text x="504.9" y="287.5" text-anchor="middle">0</text>
<line x1="562.2" y1="264" x2="562.2" y2="271.2" stroke="#000000" stroke-width="0.75"/>
<g>
<path d="M284 0L284 -505L101 -505L101 -568C204 -568 294 -590 315 -709L373 -709L373 0Z" transform="translate(559.23 287.5) scale(0.01067)" fill="#000"/>
</g>
<line x1="619.5" y1="264" x2="619.5" y2="271.2" stroke="#000000" stroke-width="0.75"/>
<text x="619.5" y="287.5" text-anchor="middle">2</text>
<line x1="372.8" y1="262.49" x2="380" y2="262.49" stroke="#000000" stroke-width="0.75"/>
<text x="365.1" y="262.89" text-anchor="middle" transform="rotate(-90 365.1 262.89)">−2</text>
<line x1="372.8" y1="199.16" x2="380" y2="199.16" stroke="#000000" stroke-width="0.75"/>
<g transform="rotate(-90 365.1 199.56)">
<text x="359.02" y="199.56" text-anchor="start">−</text>
<path d="M284 0L284 -505L101 -505L101 -568C204 -568 294 -590 315 -709L373 -709L373 0Z" transform="translate(365.25 199.56) scale(0.01067)" fill="#000"/>
</g>
<line x1="372.8" y1="135.83" x2="380" y2="135.83" stroke="#000000" stroke-width="0.75"/>
<text x="365.1" y="136.23" text-anchor="middle" transform="rotate(-90 365.1 136.23)">0</text>
<line x1="372.8" y1="72.5" x2="380" y2="72.5" stroke="#000000" stroke-width="0.75"/>
<g transform="rotate(-90 365.1 72.9)">
<path d="M284 0L284 -505L101 -505L101 -568C204 -568 294 -590 315 -709L373 -709L373 0Z" transform="translate(362.13 72.9) scale(0.01067)" fill="#000"/>
</g>
<text x="505.5" y="312.8" text-anchor="middle">x</text>
<text x="339.8" y="137.95" text-anchor="middle" transform="rotate(-90 339.8 137.95)" letter-spacing="0.08">Estimate</text>
</g>
</svg>
</body></html>
